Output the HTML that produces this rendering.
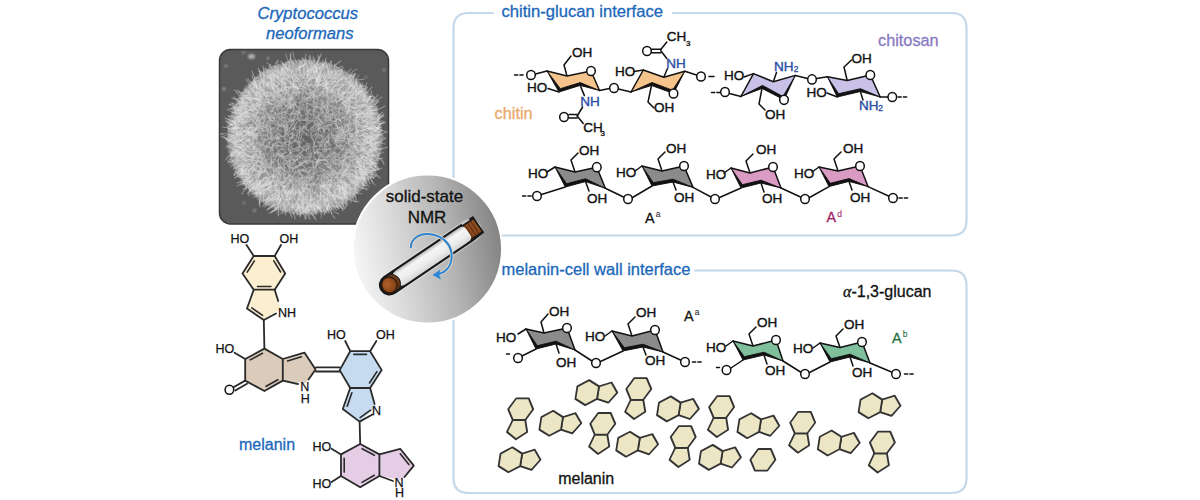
<!DOCTYPE html>
<html><head><meta charset="utf-8"><style>
html,body{margin:0;padding:0;background:#fff;width:1200px;height:500px;overflow:hidden}
svg{display:block}
text{font-family:"Liberation Sans", sans-serif}
</style></head><body>
<svg width="1200" height="500" viewBox="0 0 1200 500">
<path d="M494,13 L468.5,13 Q453.5,13 453.5,28 L453.5,220.5 Q453.5,235.5 468.5,235.5 L951.5,235.5 Q966.5,235.5 966.5,220.5 L966.5,28 Q966.5,13 951.5,13 L672,13" fill="none" stroke="#c5d8ea" stroke-width="2.2"/>
<path d="M490,270.5 L468.5,270.5 Q453.5,270.5 453.5,285.5 L453.5,478 Q453.5,493 468.5,493 L951.5,493 Q966.5,493 966.5,478 L966.5,285.5 Q966.5,270.5 951.5,270.5 L694.5,270.5" fill="none" stroke="#c5d8ea" stroke-width="2.2"/>
<text x="501.5" y="17.0" font-size="16.6" fill="#1b68ba" stroke="#1b68ba" stroke-width="0.3" text-anchor="start" >chitin-glucan interface</text>
<text x="501.5" y="275.0" font-size="16.5" fill="#1b68ba" stroke="#1b68ba" stroke-width="0.3" text-anchor="start" >melanin-cell wall interface</text>
<text x="307.8" y="19.0" font-size="16.6" fill="#1b68ba" stroke="#1b68ba" stroke-width="0.3" text-anchor="middle" font-style="italic">Cryptococcus</text>
<text x="309.8" y="39.0" font-size="16.6" fill="#1b68ba" stroke="#1b68ba" stroke-width="0.3" text-anchor="middle" font-style="italic">neoformans</text>
<defs>
<radialGradient id="ball" cx="0.5" cy="0.5" r="0.5">
<stop offset="0" stop-color="#8e8e8e"/>
<stop offset="0.55" stop-color="#a8a8a8"/>
<stop offset="0.85" stop-color="#cfcfcf"/>
<stop offset="0.97" stop-color="#b0b0b0"/>
<stop offset="1" stop-color="#5a5a5a" stop-opacity="0"/>
</radialGradient>
<linearGradient id="nmr" gradientUnits="userSpaceOnUse" x1="353" y1="262" x2="502" y2="236">
<stop offset="0" stop-color="#f7f7f7"/>
<stop offset="0.3" stop-color="#d9d9d9"/>
<stop offset="0.65" stop-color="#b3b3b3"/>
<stop offset="1" stop-color="#828282"/>
</linearGradient>
<filter id="noise" x="0" y="0" width="1" height="1">
<feTurbulence type="fractalNoise" baseFrequency="0.35" numOctaves="2" seed="3"/>
<feColorMatrix type="matrix" values="0 0 0 0 0  0 0 0 0 0  0 0 0 0 0  0 0 0 -1.4 0.75"/>
<feComposite in2="SourceGraphic" operator="in"/>
</filter>
<clipPath id="semclip"><rect x="220.2" y="50.2" width="167.6" height="173.1" rx="10.5"/></clipPath>
<linearGradient id="tube" x1="0" y1="0" x2="0" y2="1">
<stop offset="0" stop-color="#b8b8b8"/>
<stop offset="0.22" stop-color="#f4f4f4"/>
<stop offset="0.6" stop-color="#eeeeee"/>
<stop offset="1" stop-color="#d6d6d6"/>
</linearGradient>
</defs>
<rect x="219.5" y="49.5" width="169" height="174.5" rx="11" fill="#5a5a5a" stroke="#3a3a3a" stroke-width="1.5"/>
<g clip-path="url(#semclip)">
<defs>
<radialGradient id="ballbase" cx="0.5" cy="0.5" r="0.5">
<stop offset="0" stop-color="#626262"/>
<stop offset="0.45" stop-color="#747474"/>
<stop offset="0.75" stop-color="#9a9a9a"/>
<stop offset="0.9" stop-color="#aaaaaa"/>
<stop offset="0.97" stop-color="#858585"/>
<stop offset="1" stop-color="#585858" stop-opacity="0"/>
</radialGradient>
<radialGradient id="ballmask" cx="0.5" cy="0.5" r="0.5">
<stop offset="0" stop-color="#fff" stop-opacity="0.6"/>
<stop offset="0.5" stop-color="#fff" stop-opacity="0.7"/>
<stop offset="0.82" stop-color="#fff" stop-opacity="1"/>
<stop offset="0.95" stop-color="#fff" stop-opacity="0.8"/>
<stop offset="1" stop-color="#fff" stop-opacity="0"/>
</radialGradient>
<filter id="fib" filterUnits="userSpaceOnUse" x="219" y="49" width="171" height="176">
<feTurbulence type="turbulence" baseFrequency="0.14" numOctaves="3" seed="4" result="t"/>
<feColorMatrix in="t" type="matrix" values="0 0 0 0 0.86  0 0 0 0 0.86  0 0 0 0 0.86  -4 0 0 0 1.2" result="f0"/>
<feGaussianBlur in="f0" stdDeviation="0.5" result="f"/>
<feComposite in="f" in2="SourceGraphic" operator="arithmetic" k1="1" k2="0" k3="0" k4="0"/>
</filter>
</defs>
<defs><filter id="soft" x="-50%" y="-50%" width="200%" height="200%"><feGaussianBlur stdDeviation="0.9"/></filter></defs>
<g fill="#a8a8a8" filter="url(#soft)" opacity="0.8"><ellipse cx="251.5" cy="56.5" rx="3.5" ry="2.5" fill="#c8c8c8"/><circle cx="243.6" cy="52.6" r="1.3"/><circle cx="268" cy="58" r="1.5"/><circle cx="226" cy="66" r="1.6"/><circle cx="224" cy="89" r="1.8"/><circle cx="384" cy="70" r="1.4"/><circle cx="366" cy="77" r="1.2"/><circle cx="254.6" cy="210.6" r="1.5"/><circle cx="243.8" cy="203" r="1.2"/><circle cx="236" cy="100" r="1.1"/></g>
<circle cx="305" cy="137" r="79" fill="url(#ballbase)"/>
<circle cx="305" cy="137" r="80" fill="url(#ballmask)" filter="url(#fib)" opacity="0.55"/>
<g fill="none" stroke-width="1.1" stroke-opacity="0.42" stroke-linecap="round"><path d="M289,168Q288,166 287,165" stroke="#b2b2b2"/><path d="M339,115Q341,117 345,119" stroke="#b2b2b2"/><path d="M320,109Q323,113 321,116" stroke="#c8c8c8"/><path d="M344,150Q341,149 339,148" stroke="#d3d3d3"/><path d="M280,203Q280,207 281,211" stroke="#cccccc"/><path d="M247,112Q243,113 239,109" stroke="#dfdfdf"/><path d="M283,204Q286,202 288,198" stroke="#e4e4e4"/><path d="M287,211Q284,207 284,203" stroke="#cacaca"/><path d="M331,131Q328,128 322,128" stroke="#c5c5c5"/><path d="M254,103Q250,101 246,98" stroke="#cbcbcb"/><path d="M299,90Q296,89 292,86" stroke="#d9d9d9"/><path d="M262,199Q259,201 259,205" stroke="#d7d7d7"/><path d="M246,181Q247,178 251,178" stroke="#e3e3e3"/><path d="M335,103Q334,107 329,106" stroke="#b8b8b8"/><path d="M335,154Q336,151 333,151" stroke="#c1c1c1"/><path d="M358,138Q358,142 353,144" stroke="#e8e8e8"/><path d="M366,117Q364,118 357,117" stroke="#ebebeb"/><path d="M264,170Q265,170 270,174" stroke="#d5d5d5"/><path d="M277,148Q275,147 273,145" stroke="#c6c6c6"/><path d="M286,120Q287,126 288,126" stroke="#d5d5d5"/><path d="M284,161Q287,157 290,153" stroke="#b4b4b4"/><path d="M347,191Q346,185 345,183" stroke="#e9e9e9"/><path d="M262,187Q260,186 257,188" stroke="#d8d8d8"/><path d="M232,128Q235,129 239,128" stroke="#efefef"/><path d="M334,66Q339,62 341,61" stroke="#e9e9e9"/><path d="M238,140Q234,138 233,135" stroke="#dedede"/><path d="M234,161Q230,159 229,159" stroke="#d4d4d4"/><path d="M275,185Q275,185 271,186" stroke="#f1f1f1"/><path d="M361,170Q362,172 364,178" stroke="#f0f0f0"/><path d="M270,198Q276,198 276,196" stroke="#d2d2d2"/><path d="M322,136Q320,135 316,133" stroke="#d5d5d5"/><path d="M369,129Q369,131 374,127" stroke="#f1f1f1"/><path d="M359,178Q364,176 365,178" stroke="#d5d5d5"/><path d="M294,178Q291,175 289,175" stroke="#dedede"/><path d="M271,181Q271,183 267,186" stroke="#eaeaea"/><path d="M339,184Q340,186 339,192" stroke="#d1d1d1"/><path d="M239,148Q242,149 246,148" stroke="#cecece"/><path d="M322,122Q321,123 324,126" stroke="#b0b0b0"/><path d="M310,63Q310,60 309,56" stroke="#e4e4e4"/><path d="M235,133Q240,136 242,134" stroke="#ebebeb"/><path d="M336,112Q332,113 330,115" stroke="#d9d9d9"/><path d="M307,163Q306,157 302,155" stroke="#dcdcdc"/><path d="M274,97Q273,101 274,102" stroke="#cecece"/><path d="M259,171Q257,171 254,170" stroke="#dddddd"/><path d="M261,161Q263,162 266,164" stroke="#dcdcdc"/><path d="M353,142Q348,142 348,138" stroke="#e1e1e1"/><path d="M315,209Q310,207 308,203" stroke="#e3e3e3"/><path d="M343,84Q340,85 336,86" stroke="#dcdcdc"/><path d="M325,149Q321,149 322,143" stroke="#d7d7d7"/><path d="M342,160Q339,157 338,157" stroke="#afafaf"/><path d="M273,188Q275,186 278,186" stroke="#cfcfcf"/><path d="M348,129Q351,133 352,137" stroke="#bcbcbc"/><path d="M291,193Q289,188 290,189" stroke="#e8e8e8"/><path d="M269,125Q262,127 259,126" stroke="#cacaca"/><path d="M272,87Q271,83 272,81" stroke="#d4d4d4"/><path d="M338,79Q334,80 334,84" stroke="#cccccc"/><path d="M254,85Q256,88 260,90" stroke="#dadada"/><path d="M251,99Q252,98 257,98" stroke="#dddddd"/><path d="M364,127Q366,123 369,124" stroke="#e0e0e0"/><path d="M344,160Q344,155 341,155" stroke="#b4b4b4"/><path d="M343,185Q338,185 337,180" stroke="#d1d1d1"/><path d="M268,81Q271,82 268,87" stroke="#efefef"/><path d="M292,121Q295,118 297,113" stroke="#cfcfcf"/><path d="M343,182Q347,186 348,189" stroke="#f5f5f5"/><path d="M278,77Q279,76 282,80" stroke="#e4e4e4"/><path d="M246,114Q241,114 240,110" stroke="#e8e8e8"/><path d="M328,120Q323,121 319,119" stroke="#bfbfbf"/><path d="M312,205Q315,206 315,211" stroke="#f3f3f3"/><path d="M300,158Q299,155 297,154" stroke="#d8d8d8"/><path d="M303,90Q299,88 299,89" stroke="#dadada"/><path d="M338,161Q333,161 330,161" stroke="#e0e0e0"/><path d="M359,187Q361,188 368,189" stroke="#e8e8e8"/><path d="M359,126Q353,129 351,131" stroke="#d1d1d1"/><path d="M304,93Q303,95 299,99" stroke="#b6b6b6"/><path d="M293,97Q293,93 299,93" stroke="#cecece"/><path d="M283,89Q282,84 282,83" stroke="#dddddd"/><path d="M373,138Q370,137 365,133" stroke="#dadada"/><path d="M305,161Q299,166 297,167" stroke="#dfdfdf"/><path d="M302,158Q304,163 309,164" stroke="#bebebe"/><path d="M358,127Q358,131 355,135" stroke="#c9c9c9"/><path d="M329,78Q333,74 335,75" stroke="#e2e2e2"/><path d="M240,158Q244,156 244,157" stroke="#e6e6e6"/><path d="M266,160Q267,164 266,168" stroke="#bebebe"/><path d="M286,194Q285,194 287,189" stroke="#e7e7e7"/><path d="M253,120Q249,118 246,119" stroke="#d3d3d3"/><path d="M290,161Q290,165 290,166" stroke="#dedede"/><path d="M340,100Q339,98 340,94" stroke="#e7e7e7"/><path d="M292,212Q295,214 295,219" stroke="#d9d9d9"/><path d="M346,106Q343,105 342,101" stroke="#c9c9c9"/><path d="M342,176Q345,171 343,167" stroke="#cccccc"/><path d="M247,184Q241,183 237,186" stroke="#d1d1d1"/><path d="M349,199Q355,202 357,202" stroke="#cdcdcd"/><path d="M286,131Q289,129 287,125" stroke="#c2c2c2"/><path d="M367,122Q360,122 358,124" stroke="#ededed"/><path d="M321,178Q321,178 322,174" stroke="#c0c0c0"/><path d="M367,121Q363,122 362,119" stroke="#f5f5f5"/><path d="M292,119Q294,121 295,127" stroke="#bdbdbd"/><path d="M268,72Q270,75 273,76" stroke="#d4d4d4"/><path d="M351,139Q352,136 353,135" stroke="#e0e0e0"/><path d="M323,99Q322,106 324,108" stroke="#cecece"/><path d="M248,90Q247,91 245,87" stroke="#cbcbcb"/><path d="M323,211Q320,212 319,208" stroke="#dcdcdc"/><path d="M297,61Q297,64 294,65" stroke="#cacaca"/><path d="M280,199Q275,199 274,203" stroke="#cdcdcd"/><path d="M260,198Q259,202 260,203" stroke="#e3e3e3"/><path d="M362,172Q364,173 368,172" stroke="#e6e6e6"/><path d="M357,147Q356,141 360,139" stroke="#cccccc"/><path d="M313,114Q314,116 314,119" stroke="#c4c4c4"/><path d="M366,120Q367,116 370,117" stroke="#eeeeee"/><path d="M360,105Q357,107 355,104" stroke="#e0e0e0"/><path d="M323,65Q319,70 319,70" stroke="#dbdbdb"/><path d="M335,75Q333,79 332,80" stroke="#cdcdcd"/><path d="M253,133Q256,136 257,139" stroke="#eaeaea"/><path d="M270,205Q265,204 265,207" stroke="#e7e7e7"/><path d="M381,131Q380,132 375,135" stroke="#eaeaea"/><path d="M342,84Q342,80 342,78" stroke="#d8d8d8"/><path d="M318,178Q320,181 319,183" stroke="#c3c3c3"/><path d="M345,154Q345,156 345,161" stroke="#cccccc"/><path d="M335,135Q332,138 326,137" stroke="#b1b1b1"/><path d="M335,108Q340,107 342,110" stroke="#b3b3b3"/><path d="M255,189Q260,184 260,182" stroke="#eeeeee"/><path d="M293,89Q293,92 298,90" stroke="#b1b1b1"/><path d="M253,99Q257,98 259,100" stroke="#dbdbdb"/><path d="M321,145Q317,147 314,146" stroke="#d9d9d9"/><path d="M244,117Q248,115 252,115" stroke="#dbdbdb"/><path d="M286,148Q285,141 285,139" stroke="#e0e0e0"/><path d="M355,136Q355,137 358,144" stroke="#d2d2d2"/><path d="M242,170Q238,169 237,174" stroke="#ebebeb"/><path d="M349,192Q354,193 356,198" stroke="#dedede"/><path d="M293,194Q297,194 298,190" stroke="#d4d4d4"/><path d="M282,205Q284,208 285,210" stroke="#cdcdcd"/><path d="M357,101Q351,101 348,102" stroke="#d4d4d4"/><path d="M323,104Q324,106 324,110" stroke="#b6b6b6"/><path d="M350,198Q351,195 349,189" stroke="#f2f2f2"/><path d="M321,110Q319,107 316,106" stroke="#c9c9c9"/><path d="M290,177Q287,178 285,181" stroke="#afafaf"/><path d="M263,98Q259,95 255,95" stroke="#e6e6e6"/><path d="M285,152Q284,154 281,156" stroke="#d9d9d9"/><path d="M367,153Q371,149 375,150" stroke="#e8e8e8"/><path d="M356,98Q354,99 352,98" stroke="#cfcfcf"/><path d="M331,209Q331,215 335,218" stroke="#d6d6d6"/><path d="M350,157Q353,153 351,152" stroke="#cccccc"/><path d="M341,182Q341,179 341,177" stroke="#cacaca"/><path d="M322,187Q319,184 318,183" stroke="#d8d8d8"/><path d="M349,176Q347,173 344,169" stroke="#cecece"/><path d="M304,196Q302,198 301,201" stroke="#d1d1d1"/><path d="M261,190Q261,188 266,183" stroke="#d8d8d8"/><path d="M277,208Q274,211 269,213" stroke="#d6d6d6"/><path d="M342,188Q343,190 348,195" stroke="#f1f1f1"/><path d="M327,143Q324,142 321,141" stroke="#c9c9c9"/><path d="M252,106Q246,108 245,106" stroke="#d7d7d7"/><path d="M290,84Q293,88 297,88" stroke="#c8c8c8"/><path d="M372,161Q374,165 376,168" stroke="#e7e7e7"/><path d="M306,211Q307,211 310,216" stroke="#cecece"/><path d="M365,142Q363,140 361,138" stroke="#f1f1f1"/><path d="M251,169Q257,168 258,165" stroke="#e6e6e6"/><path d="M303,128Q305,126 308,121" stroke="#cbcbcb"/><path d="M340,206Q343,209 343,209" stroke="#d8d8d8"/><path d="M294,94Q293,93 288,92" stroke="#bfbfbf"/><path d="M284,209Q285,208 289,204" stroke="#d4d4d4"/><path d="M369,114Q370,114 374,110" stroke="#f0f0f0"/><path d="M372,101Q376,99 379,101" stroke="#c9c9c9"/><path d="M243,163Q246,160 248,161" stroke="#d2d2d2"/><path d="M315,150Q318,151 323,156" stroke="#b0b0b0"/><path d="M338,143Q334,140 335,140" stroke="#d4d4d4"/><path d="M308,98Q312,99 315,96" stroke="#dfdfdf"/><path d="M370,98Q366,102 368,103" stroke="#f0f0f0"/><path d="M363,173Q363,172 360,169" stroke="#dadada"/><path d="M282,186Q284,187 288,186" stroke="#dfdfdf"/><path d="M363,100Q362,103 358,102" stroke="#c9c9c9"/><path d="M241,164Q237,168 236,168" stroke="#cdcdcd"/><path d="M264,116Q260,119 258,119" stroke="#b2b2b2"/><path d="M362,139Q365,138 367,139" stroke="#e8e8e8"/><path d="M300,212Q299,206 298,204" stroke="#f0f0f0"/><path d="M311,80Q312,77 315,77" stroke="#e1e1e1"/><path d="M358,94Q359,92 362,90" stroke="#eaeaea"/><path d="M254,137Q256,135 258,133" stroke="#f4f4f4"/><path d="M306,73Q308,76 307,78" stroke="#dcdcdc"/><path d="M331,185Q330,181 332,177" stroke="#f4f4f4"/><path d="M308,175Q308,178 305,183" stroke="#b8b8b8"/><path d="M371,126Q371,125 366,126" stroke="#cecece"/><path d="M338,193Q335,190 334,190" stroke="#d9d9d9"/><path d="M326,197Q321,195 321,194" stroke="#e3e3e3"/><path d="M285,83Q286,85 286,88" stroke="#d7d7d7"/><path d="M350,107Q346,104 343,104" stroke="#f1f1f1"/><path d="M355,90Q360,88 363,86" stroke="#dcdcdc"/><path d="M301,203Q304,199 305,198" stroke="#e3e3e3"/><path d="M290,139Q293,138 295,133" stroke="#d8d8d8"/><path d="M300,147Q300,142 304,139" stroke="#bcbcbc"/><path d="M342,196Q342,198 341,200" stroke="#f5f5f5"/><path d="M292,139Q292,137 293,133" stroke="#cccccc"/><path d="M321,201Q325,202 323,205" stroke="#cbcbcb"/><path d="M304,188Q308,190 308,190" stroke="#f3f3f3"/><path d="M279,172Q281,177 280,181" stroke="#bdbdbd"/><path d="M381,134Q374,136 371,135" stroke="#d4d4d4"/><path d="M246,149Q244,152 241,152" stroke="#e2e2e2"/><path d="M260,146Q259,145 255,145" stroke="#bdbdbd"/><path d="M299,188Q298,189 299,194" stroke="#d9d9d9"/><path d="M265,187Q264,186 268,180" stroke="#d1d1d1"/><path d="M370,106Q373,100 374,97" stroke="#dedede"/><path d="M296,127Q302,126 306,128" stroke="#b5b5b5"/><path d="M242,103Q244,102 250,103" stroke="#eaeaea"/><path d="M341,201Q344,206 344,208" stroke="#dbdbdb"/><path d="M326,199Q329,203 328,206" stroke="#d8d8d8"/><path d="M243,172Q242,174 237,175" stroke="#d7d7d7"/><path d="M246,138Q249,140 253,143" stroke="#f2f2f2"/><path d="M289,190Q287,194 287,198" stroke="#f1f1f1"/><path d="M367,148Q372,150 372,151" stroke="#e7e7e7"/><path d="M307,103Q305,104 308,109" stroke="#d9d9d9"/><path d="M267,179Q265,180 264,183" stroke="#ebebeb"/><path d="M348,152Q345,157 344,157" stroke="#cfcfcf"/><path d="M283,170Q279,171 278,170" stroke="#b7b7b7"/><path d="M251,104Q255,108 255,111" stroke="#cbcbcb"/><path d="M281,155Q285,158 289,158" stroke="#b2b2b2"/><path d="M323,65Q326,62 326,58" stroke="#f3f3f3"/><path d="M322,147Q318,145 317,141" stroke="#b1b1b1"/><path d="M279,151Q283,148 283,149" stroke="#c2c2c2"/><path d="M265,120Q263,123 263,127" stroke="#d8d8d8"/><path d="M240,102Q237,99 232,98" stroke="#f4f4f4"/><path d="M353,110Q356,113 359,111" stroke="#d1d1d1"/><path d="M253,145Q254,146 259,150" stroke="#c8c8c8"/><path d="M295,142Q295,136 290,133" stroke="#b6b6b6"/><path d="M315,147Q315,143 314,142" stroke="#b2b2b2"/><path d="M260,188Q262,186 267,184" stroke="#e7e7e7"/><path d="M233,155Q227,155 226,160" stroke="#f1f1f1"/><path d="M281,79Q285,84 285,85" stroke="#eeeeee"/><path d="M352,156Q350,152 346,153" stroke="#cfcfcf"/><path d="M263,185Q267,186 268,182" stroke="#ececec"/><path d="M282,176Q281,174 277,171" stroke="#d5d5d5"/><path d="M303,124Q306,130 308,131" stroke="#bebebe"/><path d="M258,183Q253,183 251,188" stroke="#d8d8d8"/><path d="M301,172Q306,169 309,168" stroke="#b8b8b8"/><path d="M332,70Q332,75 328,78" stroke="#e7e7e7"/><path d="M289,159Q284,159 281,157" stroke="#bdbdbd"/><path d="M297,159Q295,162 290,164" stroke="#afafaf"/><path d="M319,83Q316,80 316,75" stroke="#d8d8d8"/><path d="M349,98Q349,95 353,95" stroke="#f4f4f4"/><path d="M290,196Q288,203 290,205" stroke="#e7e7e7"/><path d="M284,158Q279,156 278,152" stroke="#c5c5c5"/><path d="M293,198Q291,195 289,190" stroke="#d5d5d5"/><path d="M300,206Q302,213 300,215" stroke="#d8d8d8"/><path d="M332,96Q333,94 338,96" stroke="#c6c6c6"/><path d="M343,97Q346,96 348,96" stroke="#cfcfcf"/><path d="M297,110Q294,115 295,115" stroke="#cfcfcf"/><path d="M262,171Q267,174 267,179" stroke="#cacaca"/><path d="M375,110Q378,107 377,106" stroke="#e8e8e8"/><path d="M289,75Q289,79 286,79" stroke="#f3f3f3"/><path d="M304,75Q303,71 304,69" stroke="#dfdfdf"/><path d="M269,141Q270,141 269,146" stroke="#dcdcdc"/><path d="M365,100Q366,98 367,96" stroke="#d0d0d0"/><path d="M318,63Q315,66 315,65" stroke="#dcdcdc"/><path d="M330,86Q326,90 327,91" stroke="#ebebeb"/><path d="M347,102Q347,102 351,107" stroke="#ececec"/><path d="M331,96Q332,101 334,102" stroke="#b6b6b6"/><path d="M338,185Q340,191 342,194" stroke="#cfcfcf"/><path d="M303,176Q302,182 297,184" stroke="#b5b5b5"/><path d="M264,171Q269,173 269,179" stroke="#f0f0f0"/><path d="M375,144Q375,145 371,145" stroke="#d3d3d3"/><path d="M292,152Q288,156 287,155" stroke="#d0d0d0"/><path d="M314,71Q315,73 315,75" stroke="#d9d9d9"/><path d="M320,167Q317,162 316,160" stroke="#afafaf"/><path d="M367,164Q371,164 371,165" stroke="#f0f0f0"/><path d="M343,94Q344,89 342,87" stroke="#d3d3d3"/><path d="M234,107Q233,108 227,110" stroke="#e4e4e4"/><path d="M330,132Q330,136 327,136" stroke="#e0e0e0"/><path d="M293,87Q294,87 293,83" stroke="#e7e7e7"/><path d="M289,142Q289,138 291,138" stroke="#d6d6d6"/><path d="M317,164Q315,166 317,173" stroke="#dbdbdb"/><path d="M302,93Q304,89 306,87" stroke="#cbcbcb"/><path d="M363,181Q362,179 360,177" stroke="#d9d9d9"/><path d="M329,157Q331,153 335,152" stroke="#d9d9d9"/><path d="M244,107Q239,107 234,108" stroke="#eeeeee"/><path d="M254,129Q257,126 262,126" stroke="#dddddd"/><path d="M290,67Q289,64 289,61" stroke="#dcdcdc"/><path d="M230,129Q233,130 234,133" stroke="#e9e9e9"/><path d="M323,181Q323,185 326,189" stroke="#c8c8c8"/><path d="M317,63Q321,56 321,54" stroke="#f1f1f1"/><path d="M251,86Q246,80 246,79" stroke="#cfcfcf"/><path d="M251,130Q253,130 257,128" stroke="#cfcfcf"/><path d="M375,165Q377,169 378,169" stroke="#e4e4e4"/><path d="M328,160Q326,162 327,166" stroke="#b4b4b4"/><path d="M302,91Q297,92 294,94" stroke="#d2d2d2"/><path d="M291,83Q290,78 290,76" stroke="#d6d6d6"/><path d="M327,192Q327,190 331,183" stroke="#dcdcdc"/><path d="M251,117Q250,115 246,117" stroke="#cccccc"/><path d="M266,106Q266,103 262,101" stroke="#dfdfdf"/><path d="M337,163Q339,161 345,161" stroke="#c5c5c5"/><path d="M330,167Q330,164 326,164" stroke="#dedede"/><path d="M373,101Q376,97 378,95" stroke="#cecece"/><path d="M374,139Q369,138 364,137" stroke="#d9d9d9"/><path d="M349,92Q348,94 345,98" stroke="#e1e1e1"/><path d="M244,127Q250,128 252,130" stroke="#dbdbdb"/><path d="M324,180Q326,181 328,186" stroke="#c4c4c4"/><path d="M273,201Q270,205 268,204" stroke="#c8c8c8"/><path d="M348,144Q350,141 353,140" stroke="#d6d6d6"/><path d="M363,136Q366,137 370,136" stroke="#dedede"/><path d="M294,140Q296,141 299,143" stroke="#d8d8d8"/><path d="M248,114Q246,112 245,108" stroke="#ededed"/><path d="M272,186Q277,186 278,183" stroke="#e8e8e8"/><path d="M334,195Q331,194 327,188" stroke="#f0f0f0"/><path d="M330,175Q325,173 323,175" stroke="#d7d7d7"/><path d="M277,125Q275,124 270,122" stroke="#afafaf"/><path d="M316,91Q314,91 315,88" stroke="#d4d4d4"/><path d="M322,139Q325,144 326,146" stroke="#d1d1d1"/><path d="M271,134Q270,138 273,141" stroke="#cfcfcf"/><path d="M328,155Q331,159 331,161" stroke="#b2b2b2"/><path d="M266,84Q267,84 269,89" stroke="#f0f0f0"/><path d="M365,180Q362,176 360,176" stroke="#e1e1e1"/><path d="M239,99Q235,100 234,97" stroke="#d3d3d3"/><path d="M276,205Q281,202 282,200" stroke="#cccccc"/><path d="M307,189Q306,188 306,184" stroke="#e7e7e7"/><path d="M377,147Q372,151 371,150" stroke="#e1e1e1"/><path d="M276,125Q273,122 270,124" stroke="#b6b6b6"/><path d="M240,172Q242,170 246,169" stroke="#d9d9d9"/><path d="M280,95Q280,97 284,102" stroke="#e1e1e1"/><path d="M343,176Q344,172 348,169" stroke="#e1e1e1"/><path d="M251,190Q248,193 249,196" stroke="#d0d0d0"/><path d="M377,110Q372,110 367,112" stroke="#e8e8e8"/><path d="M322,208Q324,211 327,213" stroke="#e0e0e0"/><path d="M371,149Q368,152 363,152" stroke="#d6d6d6"/><path d="M277,195Q278,197 278,202" stroke="#cccccc"/><path d="M300,110Q298,113 297,118" stroke="#cccccc"/><path d="M316,65Q312,68 313,69" stroke="#f2f2f2"/><path d="M278,68Q278,67 272,66" stroke="#f0f0f0"/><path d="M343,163Q341,168 342,171" stroke="#c8c8c8"/><path d="M340,146Q340,146 342,151" stroke="#c2c2c2"/><path d="M253,82Q256,87 258,88" stroke="#f2f2f2"/><path d="M285,92Q291,91 294,92" stroke="#b1b1b1"/><path d="M349,94Q350,91 356,90" stroke="#dedede"/><path d="M305,110Q305,108 303,104" stroke="#c0c0c0"/><path d="M256,129Q259,128 263,126" stroke="#dbdbdb"/><path d="M336,81Q333,85 332,89" stroke="#d0d0d0"/><path d="M267,140Q271,137 275,137" stroke="#b9b9b9"/><path d="M368,125Q365,125 363,125" stroke="#d4d4d4"/><path d="M283,112Q282,110 280,105" stroke="#afafaf"/><path d="M250,132Q252,132 256,129" stroke="#d1d1d1"/><path d="M269,115Q267,115 266,111" stroke="#dadada"/><path d="M274,83Q270,78 269,76" stroke="#dfdfdf"/><path d="M284,139Q285,136 289,135" stroke="#b6b6b6"/><path d="M334,184Q332,180 329,181" stroke="#e5e5e5"/><path d="M373,134Q377,128 381,127" stroke="#e7e7e7"/><path d="M360,122Q355,120 354,121" stroke="#efefef"/><path d="M364,112Q360,115 361,115" stroke="#d1d1d1"/><path d="M294,173Q293,168 288,166" stroke="#e1e1e1"/><path d="M296,91Q294,88 291,87" stroke="#bdbdbd"/><path d="M264,181Q261,184 262,186" stroke="#f0f0f0"/><path d="M373,100Q370,103 369,104" stroke="#dbdbdb"/><path d="M254,99Q258,99 259,99" stroke="#cacaca"/><path d="M338,91Q339,95 338,96" stroke="#e8e8e8"/><path d="M265,157Q262,154 261,151" stroke="#cbcbcb"/><path d="M380,141Q381,141 386,138" stroke="#f3f3f3"/><path d="M283,169Q285,173 288,172" stroke="#d7d7d7"/><path d="M356,80Q358,80 364,79" stroke="#eeeeee"/><path d="M272,86Q273,91 277,92" stroke="#e9e9e9"/><path d="M318,126Q319,127 321,133" stroke="#d9d9d9"/><path d="M252,108Q253,110 254,113" stroke="#d6d6d6"/><path d="M336,203Q333,197 333,195" stroke="#e9e9e9"/><path d="M273,79Q277,82 279,83" stroke="#ededed"/><path d="M239,108Q237,106 236,105" stroke="#cfcfcf"/><path d="M252,83Q255,88 258,89" stroke="#d4d4d4"/><path d="M241,110Q238,110 237,111" stroke="#c8c8c8"/><path d="M283,65Q285,65 284,69" stroke="#d4d4d4"/><path d="M236,108Q238,113 241,115" stroke="#f3f3f3"/><path d="M348,140Q349,143 349,147" stroke="#cecece"/><path d="M365,154Q367,154 373,151" stroke="#f3f3f3"/><path d="M307,187Q309,185 306,183" stroke="#e1e1e1"/><path d="M335,141Q336,138 337,136" stroke="#dadada"/><path d="M270,75Q274,78 274,84" stroke="#e4e4e4"/><path d="M354,141Q358,146 358,147" stroke="#b1b1b1"/><path d="M361,165Q367,169 368,171" stroke="#e4e4e4"/><path d="M248,182Q249,183 253,179" stroke="#ededed"/><path d="M277,109Q278,105 280,101" stroke="#c5c5c5"/><path d="M286,182Q282,184 281,182" stroke="#d5d5d5"/><path d="M338,147Q335,144 335,142" stroke="#bfbfbf"/><path d="M267,185Q272,184 273,179" stroke="#cecece"/><path d="M353,87Q355,87 358,84" stroke="#d1d1d1"/><path d="M285,95Q286,91 286,86" stroke="#c5c5c5"/><path d="M352,89Q356,87 356,82" stroke="#e8e8e8"/><path d="M276,168Q275,169 277,175" stroke="#d9d9d9"/><path d="M253,153Q248,150 247,150" stroke="#dbdbdb"/><path d="M297,95Q296,91 290,91" stroke="#bbbbbb"/><path d="M282,124Q286,126 285,130" stroke="#e0e0e0"/><path d="M280,75Q280,74 282,69" stroke="#eaeaea"/><path d="M341,142Q339,146 340,150" stroke="#bbbbbb"/><path d="M340,109Q337,107 336,109" stroke="#b7b7b7"/><path d="M284,121Q285,115 287,113" stroke="#bbbbbb"/><path d="M297,200Q295,201 294,197" stroke="#c9c9c9"/><path d="M274,95Q270,91 271,89" stroke="#cacaca"/><path d="M359,170Q362,174 362,175" stroke="#c9c9c9"/><path d="M359,110Q356,108 352,107" stroke="#cdcdcd"/><path d="M345,142Q340,140 336,140" stroke="#c5c5c5"/><path d="M245,122Q241,122 238,120" stroke="#d8d8d8"/><path d="M327,85Q326,82 324,78" stroke="#ebebeb"/><path d="M295,195Q296,194 298,192" stroke="#dfdfdf"/><path d="M342,188Q346,190 349,195" stroke="#eaeaea"/><path d="M245,136Q240,136 239,139" stroke="#d2d2d2"/><path d="M256,128Q257,124 255,122" stroke="#c5c5c5"/><path d="M347,107Q346,112 349,115" stroke="#c8c8c8"/><path d="M364,163Q366,163 368,164" stroke="#e0e0e0"/><path d="M365,116Q362,116 361,119" stroke="#d5d5d5"/><path d="M280,185Q279,192 279,194" stroke="#d2d2d2"/><path d="M231,148Q228,145 226,146" stroke="#c8c8c8"/><path d="M232,144Q229,146 226,148" stroke="#d5d5d5"/><path d="M345,83Q345,77 345,76" stroke="#dbdbdb"/><path d="M277,72Q274,71 273,70" stroke="#dedede"/><path d="M335,158Q333,158 333,154" stroke="#dcdcdc"/><path d="M266,166Q268,165 272,162" stroke="#afafaf"/><path d="M361,151Q356,154 357,152" stroke="#dcdcdc"/><path d="M333,149Q338,145 343,146" stroke="#bdbdbd"/><path d="M291,105Q289,101 291,98" stroke="#cecece"/><path d="M330,130Q337,128 339,128" stroke="#b3b3b3"/><path d="M300,174Q297,176 299,178" stroke="#c9c9c9"/><path d="M324,64Q324,65 324,68" stroke="#dddddd"/><path d="M277,66Q277,62 278,60" stroke="#d1d1d1"/><path d="M266,171Q266,169 262,173" stroke="#eeeeee"/><path d="M228,136Q225,136 219,133" stroke="#cdcdcd"/><path d="M343,79Q339,81 336,82" stroke="#ebebeb"/><path d="M278,89Q279,92 281,96" stroke="#eaeaea"/><path d="M347,136Q343,134 341,129" stroke="#c8c8c8"/><path d="M349,130Q344,128 344,123" stroke="#d9d9d9"/><path d="M315,199Q318,202 319,205" stroke="#e6e6e6"/><path d="M235,104Q231,103 229,105" stroke="#dfdfdf"/><path d="M308,174Q310,172 311,168" stroke="#d8d8d8"/><path d="M319,122Q317,123 312,128" stroke="#b8b8b8"/><path d="M290,88Q288,90 285,94" stroke="#f2f2f2"/><path d="M349,164Q353,164 358,164" stroke="#d3d3d3"/><path d="M307,102Q306,98 304,97" stroke="#c6c6c6"/><path d="M236,127Q232,128 232,128" stroke="#dbdbdb"/><path d="M296,93Q297,94 294,98" stroke="#d7d7d7"/><path d="M277,138Q279,143 284,145" stroke="#b1b1b1"/><path d="M295,87Q301,88 303,89" stroke="#eeeeee"/><path d="M324,91Q323,92 318,96" stroke="#dcdcdc"/><path d="M284,125Q283,129 286,134" stroke="#c8c8c8"/><path d="M248,128Q247,126 245,125" stroke="#e5e5e5"/><path d="M289,85Q289,85 294,85" stroke="#d0d0d0"/><path d="M234,132Q229,132 228,130" stroke="#ebebeb"/><path d="M280,182Q280,183 276,183" stroke="#c8c8c8"/><path d="M327,154Q325,151 327,146" stroke="#dcdcdc"/><path d="M268,199Q264,202 263,207" stroke="#cbcbcb"/><path d="M329,112Q324,118 325,118" stroke="#c0c0c0"/><path d="M278,134Q274,136 272,139" stroke="#c9c9c9"/><path d="M285,94Q285,98 285,101" stroke="#c2c2c2"/><path d="M312,158Q308,157 306,157" stroke="#d4d4d4"/><path d="M352,195Q350,194 346,190" stroke="#c8c8c8"/><path d="M253,126Q249,126 248,124" stroke="#dadada"/><path d="M317,175Q321,176 325,174" stroke="#bcbcbc"/><path d="M322,121Q316,124 315,124" stroke="#b3b3b3"/><path d="M328,84Q324,79 324,76" stroke="#f3f3f3"/><path d="M304,67Q305,71 304,75" stroke="#e5e5e5"/><path d="M362,176Q360,174 360,168" stroke="#f3f3f3"/><path d="M240,170Q243,172 245,171" stroke="#ededed"/><path d="M324,73Q323,74 321,78" stroke="#f2f2f2"/><path d="M357,131Q360,130 363,132" stroke="#eaeaea"/><path d="M292,100Q292,102 295,104" stroke="#b1b1b1"/><path d="M320,109Q327,107 329,104" stroke="#c1c1c1"/><path d="M291,138Q294,132 293,129" stroke="#c0c0c0"/><path d="M346,90Q343,94 342,94" stroke="#d6d6d6"/><path d="M264,115Q260,112 260,113" stroke="#b8b8b8"/><path d="M293,119Q290,123 290,125" stroke="#bababa"/><path d="M360,182Q363,183 363,189" stroke="#d2d2d2"/><path d="M259,106Q258,104 255,106" stroke="#ececec"/><path d="M319,115Q317,111 317,106" stroke="#b4b4b4"/><path d="M270,199Q270,200 274,197" stroke="#cfcfcf"/><path d="M330,173Q326,173 325,172" stroke="#b1b1b1"/><path d="M255,135Q254,136 257,141" stroke="#d7d7d7"/><path d="M296,78Q295,82 299,82" stroke="#f4f4f4"/><path d="M245,109Q242,106 241,109" stroke="#e1e1e1"/><path d="M283,116Q282,113 279,114" stroke="#bebebe"/><path d="M248,98Q250,102 251,102" stroke="#cacaca"/><path d="M320,204Q320,203 317,201" stroke="#d3d3d3"/><path d="M380,142Q376,143 375,142" stroke="#f3f3f3"/><path d="M340,198Q340,194 339,188" stroke="#cccccc"/><path d="M375,136Q372,137 366,136" stroke="#f0f0f0"/><path d="M372,165Q370,168 366,167" stroke="#ededed"/><path d="M345,202Q347,206 346,206" stroke="#cbcbcb"/><path d="M303,66Q306,64 306,60" stroke="#e8e8e8"/><path d="M282,209Q284,213 280,214" stroke="#d8d8d8"/><path d="M305,65Q306,62 302,58" stroke="#f3f3f3"/><path d="M322,123Q321,122 319,118" stroke="#c4c4c4"/><path d="M329,90Q334,91 336,94" stroke="#eeeeee"/><path d="M349,106Q349,111 347,112" stroke="#e6e6e6"/><path d="M251,167Q252,168 255,165" stroke="#efefef"/><path d="M353,147Q357,146 358,147" stroke="#d1d1d1"/><path d="M316,107Q317,104 314,103" stroke="#c0c0c0"/><path d="M288,167Q291,172 291,173" stroke="#c8c8c8"/><path d="M288,181Q292,180 294,175" stroke="#b9b9b9"/><path d="M297,144Q297,142 300,140" stroke="#d9d9d9"/><path d="M305,187Q310,189 311,191" stroke="#c7c7c7"/><path d="M350,188Q346,186 344,185" stroke="#dadada"/><path d="M263,186Q267,186 269,182" stroke="#e7e7e7"/><path d="M239,140Q234,143 233,147" stroke="#dbdbdb"/><path d="M305,64Q305,60 307,60" stroke="#d9d9d9"/><path d="M343,186Q342,184 340,180" stroke="#d9d9d9"/><path d="M275,107Q276,104 276,102" stroke="#b4b4b4"/><path d="M327,76Q329,70 328,67" stroke="#d2d2d2"/><path d="M334,87Q331,84 332,78" stroke="#cbcbcb"/><path d="M341,195Q338,193 337,193" stroke="#dfdfdf"/><path d="M342,128Q339,132 338,137" stroke="#cbcbcb"/><path d="M251,174Q254,169 257,168" stroke="#efefef"/><path d="M237,159Q232,161 231,160" stroke="#e6e6e6"/><path d="M267,76Q270,78 271,81" stroke="#dadada"/><path d="M324,112Q322,113 320,113" stroke="#c2c2c2"/><path d="M260,197Q260,196 261,192" stroke="#f3f3f3"/><path d="M339,74Q339,74 342,71" stroke="#f4f4f4"/><path d="M344,172Q348,168 349,165" stroke="#e7e7e7"/><path d="M322,90Q324,95 326,99" stroke="#d9d9d9"/><path d="M346,117Q349,119 348,125" stroke="#afafaf"/><path d="M344,85Q340,89 339,90" stroke="#d0d0d0"/><path d="M343,190Q346,196 345,199" stroke="#f1f1f1"/><path d="M272,168Q268,166 266,161" stroke="#dcdcdc"/><path d="M362,163Q359,158 359,158" stroke="#f3f3f3"/><path d="M239,106Q240,108 245,105" stroke="#d5d5d5"/><path d="M368,138Q366,140 365,141" stroke="#cacaca"/><path d="M374,155Q370,155 367,157" stroke="#ececec"/><path d="M312,197Q315,193 316,188" stroke="#d6d6d6"/><path d="M308,120Q303,121 301,120" stroke="#dddddd"/><path d="M331,153Q327,157 324,160" stroke="#b2b2b2"/><path d="M330,66Q330,62 331,61" stroke="#e5e5e5"/><path d="M377,123Q371,121 369,123" stroke="#d4d4d4"/><path d="M370,171Q376,171 379,168" stroke="#d4d4d4"/><path d="M243,112Q243,109 239,104" stroke="#c9c9c9"/><path d="M342,152Q347,153 351,153" stroke="#bfbfbf"/><path d="M246,115Q247,117 251,117" stroke="#f4f4f4"/><path d="M260,195Q260,192 264,193" stroke="#e6e6e6"/><path d="M278,139Q279,144 275,144" stroke="#b5b5b5"/><path d="M263,129Q261,134 258,133" stroke="#bbbbbb"/><path d="M286,64Q284,69 282,71" stroke="#e3e3e3"/><path d="M313,146Q313,147 315,154" stroke="#e1e1e1"/><path d="M364,173Q371,172 374,173" stroke="#ebebeb"/><path d="M348,100Q347,100 343,102" stroke="#cecece"/><path d="M364,179Q366,176 363,172" stroke="#e4e4e4"/><path d="M309,76Q311,76 312,72" stroke="#d7d7d7"/><path d="M293,82Q294,79 295,78" stroke="#f4f4f4"/><path d="M310,213Q310,210 306,206" stroke="#f1f1f1"/><path d="M333,144Q335,141 341,142" stroke="#bebebe"/><path d="M376,110Q372,109 368,109" stroke="#cacaca"/><path d="M313,149Q316,148 313,144" stroke="#bababa"/><path d="M342,183Q342,179 338,177" stroke="#c8c8c8"/><path d="M321,145Q320,143 318,141" stroke="#e1e1e1"/><path d="M313,112Q315,113 320,114" stroke="#afafaf"/><path d="M268,122Q271,124 271,129" stroke="#dcdcdc"/><path d="M282,105Q282,106 277,107" stroke="#c5c5c5"/><path d="M293,112Q296,115 293,121" stroke="#c0c0c0"/><path d="M283,202Q285,204 285,212" stroke="#cccccc"/><path d="M368,155Q368,155 363,151" stroke="#ececec"/><path d="M261,77Q261,74 258,68" stroke="#c9c9c9"/><path d="M289,108Q291,106 296,103" stroke="#c1c1c1"/><path d="M243,161Q244,157 247,157" stroke="#e4e4e4"/><path d="M344,201Q344,199 342,194" stroke="#dcdcdc"/><path d="M298,180Q295,183 295,182" stroke="#c4c4c4"/><path d="M374,138Q370,136 370,140" stroke="#dcdcdc"/><path d="M262,159Q264,159 266,161" stroke="#b2b2b2"/><path d="M270,89Q271,96 269,98" stroke="#cdcdcd"/><path d="M281,104Q282,99 281,95" stroke="#b6b6b6"/><path d="M342,135Q339,137 335,138" stroke="#dfdfdf"/><path d="M267,168Q271,168 271,167" stroke="#d6d6d6"/><path d="M367,123Q372,121 375,122" stroke="#cccccc"/><path d="M297,78Q301,82 303,83" stroke="#e8e8e8"/><path d="M288,96Q286,92 289,91" stroke="#c9c9c9"/><path d="M293,102Q299,102 302,102" stroke="#c3c3c3"/><path d="M314,122Q317,121 316,117" stroke="#d9d9d9"/><path d="M273,191Q276,191 277,189" stroke="#dbdbdb"/><path d="M285,105Q289,106 288,109" stroke="#d8d8d8"/><path d="M357,170Q356,172 352,170" stroke="#dedede"/><path d="M261,188Q260,191 260,193" stroke="#cfcfcf"/><path d="M356,84Q355,80 359,75" stroke="#d6d6d6"/><path d="M311,65Q307,61 309,60" stroke="#e0e0e0"/><path d="M327,101Q328,102 333,102" stroke="#dcdcdc"/><path d="M252,140Q250,140 243,140" stroke="#cbcbcb"/><path d="M323,154Q323,157 319,159" stroke="#b3b3b3"/><path d="M248,134Q246,135 239,138" stroke="#cbcbcb"/><path d="M360,117Q355,118 354,123" stroke="#d8d8d8"/><path d="M231,152Q236,151 240,154" stroke="#d9d9d9"/><path d="M279,94Q282,96 286,101" stroke="#c8c8c8"/><path d="M256,86Q253,83 255,78" stroke="#e7e7e7"/><path d="M288,108Q288,110 284,113" stroke="#b1b1b1"/><path d="M337,97Q337,97 341,95" stroke="#cdcdcd"/><path d="M237,159Q232,161 230,165" stroke="#d4d4d4"/><path d="M354,117Q355,114 352,114" stroke="#e6e6e6"/><path d="M254,188Q254,188 250,190" stroke="#e6e6e6"/><path d="M328,210Q325,205 324,201" stroke="#dddddd"/><path d="M248,172Q247,171 243,174" stroke="#d8d8d8"/><path d="M261,102Q263,103 265,106" stroke="#e2e2e2"/><path d="M325,164Q323,161 317,163" stroke="#bdbdbd"/><path d="M281,149Q282,146 285,142" stroke="#bdbdbd"/><path d="M353,79Q352,78 355,73" stroke="#cecece"/><path d="M377,122Q377,118 380,118" stroke="#e0e0e0"/><path d="M346,80Q346,79 350,77" stroke="#ededed"/><path d="M283,91Q279,91 276,90" stroke="#d8d8d8"/><path d="M271,121Q269,118 269,116" stroke="#d0d0d0"/><path d="M302,208Q302,203 305,200" stroke="#c8c8c8"/><path d="M259,154Q261,149 260,144" stroke="#c3c3c3"/><path d="M314,96Q308,98 305,100" stroke="#b7b7b7"/><path d="M339,112Q339,111 338,106" stroke="#b7b7b7"/><path d="M369,136Q368,135 363,132" stroke="#f1f1f1"/><path d="M359,166Q361,168 361,172" stroke="#d3d3d3"/><path d="M330,76Q330,74 334,71" stroke="#dadada"/><path d="M338,82Q340,80 344,75" stroke="#dbdbdb"/><path d="M284,108Q288,111 290,111" stroke="#b1b1b1"/><path d="M309,150Q304,146 301,148" stroke="#afafaf"/><path d="M319,114Q318,118 319,119" stroke="#e1e1e1"/><path d="M320,136Q326,137 327,142" stroke="#c4c4c4"/><path d="M349,159Q350,162 347,167" stroke="#b4b4b4"/><path d="M301,181Q305,180 305,183" stroke="#dddddd"/><path d="M278,188Q280,194 278,198" stroke="#f4f4f4"/><path d="M264,159Q265,159 270,159" stroke="#b3b3b3"/><path d="M272,117Q272,112 270,109" stroke="#b4b4b4"/><path d="M330,87Q327,93 327,96" stroke="#e5e5e5"/><path d="M307,181Q305,180 301,184" stroke="#dddddd"/><path d="M363,146Q364,143 369,143" stroke="#dbdbdb"/><path d="M379,135Q375,138 373,139" stroke="#f3f3f3"/><path d="M373,119Q367,122 366,124" stroke="#cdcdcd"/><path d="M292,183Q293,184 292,188" stroke="#b0b0b0"/><path d="M315,167Q311,168 308,167" stroke="#d0d0d0"/><path d="M295,161Q293,156 291,155" stroke="#d9d9d9"/><path d="M250,132Q249,131 245,128" stroke="#dcdcdc"/><path d="M283,117Q278,115 276,119" stroke="#d2d2d2"/><path d="M344,177Q344,177 341,174" stroke="#e3e3e3"/><path d="M271,133Q271,126 268,125" stroke="#e0e0e0"/><path d="M277,85Q278,89 278,94" stroke="#d7d7d7"/><path d="M337,198Q334,198 334,194" stroke="#cfcfcf"/><path d="M368,178Q368,179 370,184" stroke="#dadada"/><path d="M308,85Q310,91 310,93" stroke="#e7e7e7"/><path d="M360,181Q358,182 355,179" stroke="#d1d1d1"/><path d="M367,128Q372,126 375,124" stroke="#cbcbcb"/><path d="M337,72Q335,77 332,79" stroke="#dcdcdc"/><path d="M312,184Q314,181 319,178" stroke="#c8c8c8"/><path d="M283,158Q283,163 284,167" stroke="#d3d3d3"/><path d="M306,94Q313,93 314,90" stroke="#dfdfdf"/><path d="M332,175Q329,174 326,175" stroke="#bebebe"/><path d="M258,125Q261,124 260,120" stroke="#e0e0e0"/><path d="M353,194Q352,200 356,202" stroke="#ebebeb"/><path d="M380,127Q377,129 371,129" stroke="#dfdfdf"/><path d="M305,166Q306,167 303,170" stroke="#b3b3b3"/><path d="M262,99Q257,99 254,99" stroke="#e0e0e0"/><path d="M282,196Q287,193 290,191" stroke="#dedede"/><path d="M278,124Q274,121 270,119" stroke="#c9c9c9"/><path d="M380,143Q379,145 374,145" stroke="#cfcfcf"/><path d="M271,87Q268,88 268,84" stroke="#d3d3d3"/><path d="M235,126Q238,130 239,130" stroke="#d6d6d6"/><path d="M255,193Q256,191 262,189" stroke="#dcdcdc"/><path d="M290,183Q290,180 289,178" stroke="#d9d9d9"/><path d="M348,92Q349,86 353,84" stroke="#f1f1f1"/><path d="M240,115Q241,117 246,123" stroke="#e8e8e8"/><path d="M345,83Q340,84 339,87" stroke="#d1d1d1"/><path d="M257,85Q254,83 253,82" stroke="#e8e8e8"/><path d="M289,121Q292,115 291,112" stroke="#e1e1e1"/><path d="M309,180Q307,182 304,180" stroke="#bbbbbb"/><path d="M371,127Q367,131 366,132" stroke="#e3e3e3"/><path d="M325,127Q326,124 331,125" stroke="#e1e1e1"/><path d="M255,118Q253,120 253,122" stroke="#e2e2e2"/><path d="M309,95Q310,98 311,99" stroke="#c2c2c2"/><path d="M282,196Q281,192 284,189" stroke="#e2e2e2"/><path d="M251,144Q257,143 258,143" stroke="#d4d4d4"/><path d="M248,147Q250,145 254,146" stroke="#cecece"/><path d="M272,180Q269,181 267,186" stroke="#ececec"/><path d="M286,131Q286,129 287,124" stroke="#dadada"/><path d="M261,168Q261,173 259,175" stroke="#f3f3f3"/><path d="M336,177Q339,174 341,170" stroke="#dddddd"/><path d="M316,103Q311,100 309,101" stroke="#b0b0b0"/><path d="M253,90Q253,92 258,94" stroke="#dcdcdc"/><path d="M269,94Q273,95 275,98" stroke="#dfdfdf"/><path d="M313,113Q312,112 316,106" stroke="#c1c1c1"/><path d="M320,105Q318,101 319,101" stroke="#b7b7b7"/><path d="M330,170Q334,172 335,172" stroke="#b5b5b5"/><path d="M362,117Q357,114 353,114" stroke="#e7e7e7"/><path d="M338,97Q343,100 345,102" stroke="#dbdbdb"/><path d="M327,142Q330,145 330,145" stroke="#b6b6b6"/><path d="M276,144Q279,145 278,150" stroke="#b6b6b6"/><path d="M359,130Q355,134 355,133" stroke="#f3f3f3"/><path d="M295,101Q295,105 297,106" stroke="#b2b2b2"/><path d="M246,158Q244,155 239,156" stroke="#e4e4e4"/><path d="M351,95Q350,101 346,103" stroke="#ebebeb"/><path d="M248,131Q252,135 255,134" stroke="#f4f4f4"/><path d="M296,136Q298,133 298,130" stroke="#dddddd"/><path d="M280,96Q278,94 272,97" stroke="#c7c7c7"/><path d="M333,209Q333,212 339,214" stroke="#dcdcdc"/><path d="M276,199Q278,202 276,204" stroke="#d9d9d9"/><path d="M353,77Q354,74 356,74" stroke="#e2e2e2"/><path d="M356,103Q359,100 360,100" stroke="#d9d9d9"/><path d="M350,93Q350,90 355,86" stroke="#dfdfdf"/><path d="M352,170Q348,166 347,163" stroke="#e8e8e8"/><path d="M377,110Q382,108 385,106" stroke="#dcdcdc"/><path d="M244,181Q245,179 250,176" stroke="#cbcbcb"/><path d="M247,94Q247,93 244,89" stroke="#d8d8d8"/><path d="M312,120Q312,122 308,121" stroke="#b1b1b1"/><path d="M318,198Q321,196 321,192" stroke="#d0d0d0"/><path d="M263,83Q260,82 261,78" stroke="#d6d6d6"/><path d="M236,148Q236,150 232,151" stroke="#cccccc"/><path d="M265,94Q267,97 266,98" stroke="#f3f3f3"/><path d="M353,156Q351,152 349,150" stroke="#d8d8d8"/><path d="M340,193Q337,190 338,188" stroke="#e7e7e7"/><path d="M360,112Q357,116 355,121" stroke="#cecece"/><path d="M254,193Q260,192 261,192" stroke="#ebebeb"/><path d="M335,199Q332,195 328,192" stroke="#f3f3f3"/><path d="M286,84Q285,87 283,93" stroke="#d4d4d4"/><path d="M268,109Q273,106 274,108" stroke="#afafaf"/><path d="M311,162Q309,160 303,161" stroke="#b6b6b6"/><path d="M275,69Q274,63 278,61" stroke="#e3e3e3"/><path d="M343,161Q347,157 350,156" stroke="#dcdcdc"/><path d="M245,99Q249,97 250,98" stroke="#cfcfcf"/><path d="M297,210Q297,206 298,200" stroke="#cccccc"/><path d="M251,99Q247,97 242,95" stroke="#f2f2f2"/><path d="M322,139Q325,140 328,142" stroke="#c6c6c6"/><path d="M296,78Q293,73 294,73" stroke="#d1d1d1"/><path d="M359,182Q353,181 351,181" stroke="#e5e5e5"/><path d="M292,133Q294,136 298,136" stroke="#bebebe"/><path d="M345,106Q346,102 346,98" stroke="#cdcdcd"/><path d="M309,96Q306,92 305,88" stroke="#b1b1b1"/><path d="M275,114Q276,113 279,116" stroke="#d8d8d8"/><path d="M365,170Q369,167 372,168" stroke="#e3e3e3"/><path d="M272,203Q271,199 275,200" stroke="#f1f1f1"/><path d="M302,66Q298,68 300,70" stroke="#f5f5f5"/><path d="M324,186Q323,188 325,191" stroke="#d7d7d7"/><path d="M311,133Q310,134 312,139" stroke="#dadada"/><path d="M293,186Q292,188 293,194" stroke="#e2e2e2"/><path d="M285,87Q286,91 287,91" stroke="#f0f0f0"/><path d="M352,171Q348,170 345,166" stroke="#dadada"/><path d="M362,161Q360,160 360,157" stroke="#c9c9c9"/><path d="M285,79Q285,81 282,87" stroke="#dcdcdc"/><path d="M308,178Q309,179 313,176" stroke="#c9c9c9"/><path d="M294,93Q295,91 301,92" stroke="#dddddd"/><path d="M267,155Q269,151 274,150" stroke="#c7c7c7"/><path d="M339,159Q340,162 345,167" stroke="#d4d4d4"/><path d="M274,204Q274,207 268,209" stroke="#ececec"/><path d="M259,127Q258,131 261,135" stroke="#d2d2d2"/><path d="M270,115Q270,119 269,122" stroke="#d9d9d9"/><path d="M288,125Q288,127 287,130" stroke="#c6c6c6"/><path d="M262,132Q265,130 269,129" stroke="#c8c8c8"/><path d="M314,121Q315,125 313,127" stroke="#c5c5c5"/><path d="M291,83Q296,88 297,88" stroke="#e3e3e3"/><path d="M268,83Q265,80 266,78" stroke="#cacaca"/><path d="M247,161Q246,159 242,160" stroke="#e6e6e6"/><path d="M359,181Q357,178 356,176" stroke="#f5f5f5"/><path d="M338,173Q333,173 330,178" stroke="#b8b8b8"/><path d="M342,131Q346,135 345,136" stroke="#c4c4c4"/><path d="M341,145Q342,148 347,148" stroke="#cfcfcf"/><path d="M359,187Q355,183 353,183" stroke="#e0e0e0"/><path d="M332,201Q330,196 332,195" stroke="#f5f5f5"/><path d="M311,151Q308,146 307,144" stroke="#bebebe"/><path d="M311,198Q311,197 311,194" stroke="#eeeeee"/><path d="M352,167Q349,164 342,165" stroke="#d6d6d6"/><path d="M362,188Q365,188 367,190" stroke="#cacaca"/><path d="M246,130Q249,126 254,128" stroke="#f2f2f2"/><path d="M275,165Q273,162 269,159" stroke="#c7c7c7"/><path d="M346,201Q347,207 344,209" stroke="#dbdbdb"/><path d="M266,147Q266,146 271,147" stroke="#cacaca"/><path d="M258,167Q262,165 264,167" stroke="#e9e9e9"/><path d="M254,139Q258,136 258,135" stroke="#dddddd"/><path d="M257,101Q254,102 249,99" stroke="#dfdfdf"/><path d="M272,88Q275,90 279,94" stroke="#dfdfdf"/><path d="M306,144Q309,143 311,144" stroke="#bfbfbf"/><path d="M313,206Q314,207 314,212" stroke="#d6d6d6"/><path d="M341,106Q340,109 338,108" stroke="#d1d1d1"/><path d="M335,194Q332,190 333,186" stroke="#d2d2d2"/><path d="M266,76Q263,72 259,71" stroke="#d9d9d9"/><path d="M281,198Q280,201 278,206" stroke="#e4e4e4"/><path d="M303,89Q306,93 309,96" stroke="#b9b9b9"/><path d="M333,79Q335,79 332,75" stroke="#d1d1d1"/><path d="M297,208Q296,214 300,215" stroke="#e4e4e4"/><path d="M366,174Q363,173 361,172" stroke="#eeeeee"/><path d="M353,145Q356,144 357,147" stroke="#b9b9b9"/><path d="M285,75Q283,75 283,71" stroke="#eeeeee"/><path d="M318,94Q323,90 326,90" stroke="#b4b4b4"/><path d="M366,117Q370,115 375,113" stroke="#e0e0e0"/><path d="M317,83Q318,82 316,78" stroke="#d7d7d7"/><path d="M336,172Q338,174 341,173" stroke="#cccccc"/><path d="M247,133Q246,135 241,139" stroke="#d5d5d5"/><path d="M336,185Q337,188 335,190" stroke="#d3d3d3"/><path d="M248,147Q251,150 256,150" stroke="#cecece"/><path d="M301,186Q303,190 305,190" stroke="#c3c3c3"/><path d="M300,139Q302,137 302,134" stroke="#d5d5d5"/><path d="M237,108Q238,113 243,114" stroke="#e3e3e3"/><path d="M327,87Q323,81 322,79" stroke="#e2e2e2"/><path d="M340,202Q341,202 344,207" stroke="#ececec"/><path d="M324,107Q323,105 320,104" stroke="#b5b5b5"/><path d="M379,145Q376,147 371,148" stroke="#d5d5d5"/><path d="M350,75Q352,71 357,69" stroke="#cecece"/><path d="M281,140Q276,137 276,134" stroke="#dddddd"/><path d="M312,115Q307,111 304,110" stroke="#bfbfbf"/><path d="M305,165Q301,165 299,165" stroke="#c6c6c6"/><path d="M308,210Q307,216 310,219" stroke="#e4e4e4"/><path d="M282,71Q283,73 281,75" stroke="#eaeaea"/><path d="M268,167Q273,168 277,171" stroke="#cacaca"/><path d="M254,107Q259,112 259,114" stroke="#d5d5d5"/><path d="M273,86Q272,85 270,81" stroke="#cdcdcd"/><path d="M276,69Q277,70 279,74" stroke="#d4d4d4"/><path d="M273,143Q273,146 270,151" stroke="#d8d8d8"/><path d="M300,141Q300,144 298,147" stroke="#bdbdbd"/><path d="M288,165Q288,161 285,160" stroke="#d1d1d1"/><path d="M291,104Q297,105 298,108" stroke="#e0e0e0"/><path d="M297,87Q298,89 300,93" stroke="#cfcfcf"/><path d="M346,175Q347,172 343,172" stroke="#d4d4d4"/><path d="M277,195Q280,190 284,190" stroke="#cacaca"/><path d="M280,101Q281,101 284,99" stroke="#c6c6c6"/><path d="M339,185Q340,189 345,192" stroke="#e2e2e2"/><path d="M360,168Q363,172 366,174" stroke="#cecece"/><path d="M332,123Q328,126 329,131" stroke="#b7b7b7"/><path d="M313,110Q317,113 320,112" stroke="#d2d2d2"/><path d="M325,192Q326,193 330,196" stroke="#cbcbcb"/><path d="M235,107Q230,104 230,105" stroke="#e3e3e3"/><path d="M366,163Q368,163 371,166" stroke="#e3e3e3"/><path d="M360,144Q364,142 368,143" stroke="#e9e9e9"/><path d="M264,138Q266,142 269,143" stroke="#c6c6c6"/><path d="M306,211Q305,215 306,219" stroke="#e5e5e5"/><path d="M302,208Q304,204 304,198" stroke="#ebebeb"/><path d="M348,141Q348,140 347,135" stroke="#c8c8c8"/><path d="M240,153Q238,155 237,156" stroke="#f3f3f3"/><path d="M241,173Q243,174 249,174" stroke="#ebebeb"/><path d="M301,73Q299,72 300,66" stroke="#e8e8e8"/><path d="M318,61Q320,60 319,56" stroke="#d3d3d3"/><path d="M341,74Q341,70 343,67" stroke="#d3d3d3"/><path d="M341,83Q340,86 341,91" stroke="#cecece"/><path d="M271,132Q268,133 262,129" stroke="#c1c1c1"/><path d="M291,179Q289,180 287,181" stroke="#afafaf"/><path d="M246,160Q250,159 256,161" stroke="#ededed"/><path d="M359,176Q360,180 363,180" stroke="#dfdfdf"/><path d="M289,129Q292,126 294,122" stroke="#d4d4d4"/><path d="M329,75Q330,72 331,71" stroke="#e1e1e1"/><path d="M320,161Q325,159 329,160" stroke="#cacaca"/><path d="M367,104Q362,104 358,107" stroke="#dddddd"/><path d="M303,205Q305,203 307,201" stroke="#e4e4e4"/><path d="M238,153Q243,150 245,149" stroke="#f3f3f3"/><path d="M276,77Q277,79 282,82" stroke="#e4e4e4"/><path d="M284,139Q284,135 289,132" stroke="#b3b3b3"/><path d="M291,141Q290,141 285,142" stroke="#b7b7b7"/><path d="M316,77Q317,81 318,83" stroke="#e8e8e8"/><path d="M324,138Q324,137 326,132" stroke="#b0b0b0"/><path d="M324,150Q321,154 316,154" stroke="#b5b5b5"/><path d="M252,106Q256,103 258,104" stroke="#eaeaea"/><path d="M276,132Q279,134 282,137" stroke="#cfcfcf"/><path d="M280,119Q278,118 272,114" stroke="#b1b1b1"/><path d="M263,104Q257,102 256,99" stroke="#d7d7d7"/><path d="M272,182Q269,185 272,190" stroke="#d7d7d7"/><path d="M360,111Q362,111 369,113" stroke="#ebebeb"/><path d="M264,91Q264,88 259,90" stroke="#dadada"/><path d="M317,133Q313,138 313,141" stroke="#b0b0b0"/><path d="M336,118Q337,123 335,126" stroke="#dcdcdc"/><path d="M244,126Q240,129 234,127" stroke="#d7d7d7"/><path d="M237,164Q242,168 243,166" stroke="#dadada"/><path d="M318,131Q320,133 317,138" stroke="#afafaf"/><path d="M257,173Q259,171 263,173" stroke="#dbdbdb"/><path d="M286,132Q289,130 292,125" stroke="#cecece"/><path d="M335,73Q334,66 335,64" stroke="#d8d8d8"/><path d="M361,177Q366,180 366,184" stroke="#d0d0d0"/><path d="M347,114Q347,111 343,107" stroke="#c0c0c0"/><path d="M326,78Q324,76 325,72" stroke="#c9c9c9"/><path d="M290,109Q290,103 292,100" stroke="#c1c1c1"/><path d="M362,105Q364,105 369,105" stroke="#d3d3d3"/><path d="M319,159Q319,155 319,154" stroke="#bebebe"/><path d="M284,143Q285,142 291,141" stroke="#bbbbbb"/><path d="M308,207Q308,208 306,213" stroke="#e0e0e0"/><path d="M354,159Q353,161 353,163" stroke="#d4d4d4"/><path d="M347,89Q346,92 341,96" stroke="#ececec"/><path d="M254,156Q250,157 248,156" stroke="#f1f1f1"/><path d="M335,182Q338,184 342,182" stroke="#dddddd"/><path d="M282,159Q282,157 277,153" stroke="#c2c2c2"/><path d="M278,154Q274,160 273,162" stroke="#e0e0e0"/><path d="M356,112Q352,112 346,109" stroke="#e2e2e2"/><path d="M287,69Q287,68 283,64" stroke="#e3e3e3"/><path d="M306,81Q308,83 307,90" stroke="#d6d6d6"/><path d="M290,174Q289,176 285,179" stroke="#cacaca"/><path d="M285,160Q289,161 291,163" stroke="#c9c9c9"/><path d="M273,85Q274,92 275,93" stroke="#dddddd"/><path d="M305,184Q304,185 298,185" stroke="#bcbcbc"/><path d="M268,77Q268,78 272,78" stroke="#dbdbdb"/><path d="M250,158Q253,159 254,157" stroke="#e0e0e0"/><path d="M339,185Q337,182 338,180" stroke="#cfcfcf"/><path d="M360,152Q362,150 367,149" stroke="#d6d6d6"/><path d="M299,193Q303,198 303,201" stroke="#d0d0d0"/><path d="M252,101Q252,100 247,98" stroke="#eaeaea"/><path d="M311,207Q310,201 311,199" stroke="#f4f4f4"/><path d="M352,86Q351,86 347,88" stroke="#f0f0f0"/><path d="M265,193Q261,199 258,200" stroke="#c8c8c8"/><path d="M244,106Q242,104 238,101" stroke="#e3e3e3"/><path d="M318,78Q318,79 315,82" stroke="#e6e6e6"/><path d="M316,72Q317,71 316,67" stroke="#efefef"/><path d="M286,102Q283,100 278,101" stroke="#c2c2c2"/><path d="M292,146Q290,149 290,155" stroke="#c9c9c9"/><path d="M301,106Q299,102 301,101" stroke="#cfcfcf"/><path d="M250,170Q248,175 243,175" stroke="#dddddd"/><path d="M303,212Q304,209 307,208" stroke="#e3e3e3"/><path d="M301,186Q299,182 300,178" stroke="#c0c0c0"/><path d="M338,175Q336,173 334,171" stroke="#cdcdcd"/><path d="M257,111Q257,116 254,118" stroke="#dddddd"/><path d="M250,167Q254,163 254,162" stroke="#d8d8d8"/><path d="M282,119Q284,118 291,114" stroke="#bebebe"/><path d="M350,185Q350,188 354,189" stroke="#d6d6d6"/><path d="M237,172Q235,171 234,175" stroke="#d1d1d1"/><path d="M232,131Q228,128 227,126" stroke="#dbdbdb"/><path d="M319,204Q319,210 320,210" stroke="#dedede"/><path d="M362,144Q361,145 355,143" stroke="#e5e5e5"/><path d="M315,70Q312,76 312,79" stroke="#f1f1f1"/><path d="M278,197Q280,198 277,201" stroke="#e5e5e5"/><path d="M236,150Q234,148 232,152" stroke="#dedede"/><path d="M281,89Q288,86 291,87" stroke="#f5f5f5"/><path d="M317,120Q319,125 322,125" stroke="#d9d9d9"/><path d="M323,96Q326,94 332,98" stroke="#b7b7b7"/><path d="M266,147Q266,145 270,142" stroke="#dadada"/><path d="M277,121Q270,123 268,126" stroke="#b2b2b2"/><path d="M228,134Q226,133 219,134" stroke="#d0d0d0"/><path d="M248,140Q242,144 241,145" stroke="#e2e2e2"/><path d="M300,164Q303,165 307,170" stroke="#cfcfcf"/><path d="M268,129Q264,127 263,128" stroke="#bdbdbd"/><path d="M343,175Q348,177 352,177" stroke="#f4f4f4"/><path d="M333,109Q331,109 326,113" stroke="#dadada"/><path d="M248,98Q254,101 257,99" stroke="#cfcfcf"/><path d="M299,83Q301,86 305,88" stroke="#e9e9e9"/><path d="M275,121Q273,116 273,117" stroke="#d3d3d3"/><path d="M308,76Q309,79 311,82" stroke="#dfdfdf"/><path d="M271,133Q271,136 270,139" stroke="#c3c3c3"/><path d="M296,86Q291,86 289,88" stroke="#c8c8c8"/><path d="M318,155Q318,153 316,146" stroke="#bebebe"/><path d="M327,101Q328,105 327,109" stroke="#c7c7c7"/><path d="M333,162Q334,158 336,154" stroke="#dcdcdc"/><path d="M293,83Q294,87 299,89" stroke="#f2f2f2"/><path d="M244,103Q244,99 242,99" stroke="#e2e2e2"/><path d="M305,212Q305,209 307,207" stroke="#dcdcdc"/><path d="M358,171Q362,175 361,177" stroke="#cccccc"/><path d="M276,192Q276,188 275,184" stroke="#cacaca"/><path d="M260,152Q261,155 262,161" stroke="#cfcfcf"/><path d="M297,211Q297,208 300,203" stroke="#d5d5d5"/><path d="M335,117Q335,119 337,122" stroke="#c8c8c8"/><path d="M325,95Q326,90 330,87" stroke="#b2b2b2"/><path d="M239,171Q237,173 234,176" stroke="#d9d9d9"/><path d="M320,108Q326,106 328,103" stroke="#d5d5d5"/><path d="M315,173Q313,174 311,180" stroke="#dcdcdc"/><path d="M304,99Q305,97 309,98" stroke="#cecece"/><path d="M285,175Q284,179 284,181" stroke="#e1e1e1"/><path d="M369,160Q370,162 376,163" stroke="#e9e9e9"/><path d="M361,167Q359,165 358,161" stroke="#e5e5e5"/><path d="M378,159Q381,158 383,158" stroke="#ebebeb"/><path d="M296,165Q300,170 299,173" stroke="#dadada"/><path d="M285,177Q284,173 281,174" stroke="#c7c7c7"/><path d="M283,168Q277,168 274,172" stroke="#d7d7d7"/><path d="M362,123Q366,118 369,118" stroke="#dfdfdf"/><path d="M249,132Q244,129 240,131" stroke="#cdcdcd"/><path d="M352,143Q356,144 357,148" stroke="#c1c1c1"/><path d="M336,71Q340,71 340,69" stroke="#eaeaea"/><path d="M279,97Q280,97 283,101" stroke="#c7c7c7"/><path d="M337,173Q338,176 337,179" stroke="#d5d5d5"/><path d="M371,108Q376,109 378,109" stroke="#cfcfcf"/><path d="M248,111Q250,109 257,110" stroke="#d3d3d3"/><path d="M286,70Q285,68 287,64" stroke="#f4f4f4"/><path d="M340,172Q337,169 334,164" stroke="#b1b1b1"/><path d="M279,177Q277,176 271,177" stroke="#dbdbdb"/><path d="M241,124Q237,123 233,125" stroke="#cccccc"/><path d="M320,93Q324,92 324,95" stroke="#d0d0d0"/><path d="M290,210Q289,212 292,217" stroke="#f3f3f3"/><path d="M347,187Q351,188 351,194" stroke="#c8c8c8"/><path d="M294,70Q290,75 289,78" stroke="#ececec"/><path d="M260,171Q258,173 255,178" stroke="#e7e7e7"/><path d="M322,128Q320,127 317,130" stroke="#d5d5d5"/><path d="M325,82Q322,84 317,86" stroke="#ebebeb"/><path d="M334,176Q332,174 332,168" stroke="#d8d8d8"/><path d="M231,140Q233,141 237,139" stroke="#f1f1f1"/><path d="M370,172Q371,175 374,178" stroke="#dedede"/><path d="M233,143Q235,145 238,147" stroke="#f5f5f5"/><path d="M343,175Q349,173 352,174" stroke="#d6d6d6"/><path d="M277,181Q276,185 276,185" stroke="#ebebeb"/><path d="M253,180Q248,181 246,182" stroke="#dadada"/><path d="M281,154Q285,153 287,152" stroke="#b0b0b0"/><path d="M348,81Q347,85 345,85" stroke="#cfcfcf"/><path d="M276,191Q282,191 284,188" stroke="#dddddd"/><path d="M346,111Q347,114 344,116" stroke="#b3b3b3"/><path d="M231,155Q231,152 237,152" stroke="#e2e2e2"/><path d="M231,121Q235,120 241,119" stroke="#dfdfdf"/><path d="M359,164Q358,162 354,158" stroke="#dedede"/><path d="M240,175Q241,173 245,169" stroke="#f1f1f1"/><path d="M245,153Q241,157 240,156" stroke="#e5e5e5"/><path d="M265,150Q268,156 269,158" stroke="#c4c4c4"/><path d="M372,129Q375,131 378,130" stroke="#d4d4d4"/><path d="M371,176Q374,179 374,178" stroke="#dddddd"/><path d="M326,186Q321,182 321,182" stroke="#f5f5f5"/><path d="M274,128Q271,130 267,131" stroke="#dcdcdc"/><path d="M373,139Q371,138 369,138" stroke="#ededed"/><path d="M348,171Q348,172 350,176" stroke="#ededed"/><path d="M353,133Q350,135 350,139" stroke="#dbdbdb"/><path d="M333,180Q331,179 326,182" stroke="#ebebeb"/><path d="M331,122Q330,116 331,114" stroke="#d6d6d6"/><path d="M281,90Q283,91 287,89" stroke="#e7e7e7"/><path d="M327,188Q329,192 330,198" stroke="#d6d6d6"/><path d="M247,97Q253,98 256,99" stroke="#e7e7e7"/><path d="M246,162Q251,160 252,163" stroke="#dbdbdb"/><path d="M333,162Q330,163 323,165" stroke="#c8c8c8"/><path d="M322,145Q321,147 319,147" stroke="#bbbbbb"/><path d="M307,88Q306,89 304,93" stroke="#bfbfbf"/><path d="M327,207Q327,209 324,215" stroke="#f2f2f2"/><path d="M286,197Q289,194 292,191" stroke="#e2e2e2"/><path d="M304,87Q306,86 306,84" stroke="#cbcbcb"/><path d="M317,152Q320,147 321,145" stroke="#c0c0c0"/><path d="M312,65Q310,71 312,74" stroke="#cccccc"/><path d="M363,97Q364,100 362,101" stroke="#cdcdcd"/><path d="M313,106Q317,108 318,107" stroke="#d0d0d0"/><path d="M355,123Q356,128 357,131" stroke="#e9e9e9"/><path d="M246,172Q242,175 236,173" stroke="#c8c8c8"/><path d="M364,171Q364,168 358,170" stroke="#e3e3e3"/><path d="M276,87Q273,89 276,93" stroke="#e2e2e2"/><path d="M320,190Q320,187 322,186" stroke="#d6d6d6"/><path d="M254,170Q253,165 256,165" stroke="#f5f5f5"/><path d="M361,172Q361,172 357,172" stroke="#efefef"/><path d="M257,116Q259,120 257,121" stroke="#d3d3d3"/><path d="M233,161Q229,161 228,163" stroke="#ececec"/><path d="M274,84Q275,81 273,76" stroke="#d0d0d0"/><path d="M374,171Q375,173 380,178" stroke="#eaeaea"/><path d="M302,188Q301,189 303,192" stroke="#dcdcdc"/><path d="M334,170Q333,171 332,174" stroke="#d5d5d5"/><path d="M298,137Q299,140 299,147" stroke="#cdcdcd"/><path d="M330,117Q324,116 322,117" stroke="#d6d6d6"/><path d="M268,127Q265,125 261,122" stroke="#bbbbbb"/><path d="M343,75Q337,76 335,78" stroke="#d4d4d4"/><path d="M235,107Q232,104 232,102" stroke="#cfcfcf"/><path d="M286,100Q285,100 282,103" stroke="#b7b7b7"/><path d="M328,111Q328,110 325,107" stroke="#bcbcbc"/><path d="M230,140Q232,139 235,137" stroke="#dcdcdc"/><path d="M290,114Q290,115 291,121" stroke="#b5b5b5"/><path d="M238,103Q242,105 241,108" stroke="#dddddd"/><path d="M258,185Q255,186 250,191" stroke="#f3f3f3"/><path d="M240,121Q237,117 231,116" stroke="#ececec"/><path d="M246,181Q247,180 252,175" stroke="#e2e2e2"/><path d="M287,72Q288,69 291,65" stroke="#e7e7e7"/><path d="M298,118Q295,116 291,118" stroke="#c2c2c2"/><path d="M288,191Q291,194 290,198" stroke="#d9d9d9"/><path d="M254,127Q256,131 257,130" stroke="#dadada"/><path d="M346,193Q344,189 340,189" stroke="#d5d5d5"/><path d="M339,114Q338,117 337,118" stroke="#d0d0d0"/><path d="M367,122Q368,125 373,122" stroke="#eaeaea"/><path d="M366,137Q363,134 360,133" stroke="#e8e8e8"/><path d="M275,170Q276,168 279,167" stroke="#d2d2d2"/><path d="M335,164Q335,163 336,159" stroke="#dcdcdc"/><path d="M304,162Q304,159 305,158" stroke="#b4b4b4"/><path d="M349,101Q345,103 345,107" stroke="#d4d4d4"/><path d="M240,105Q242,103 247,104" stroke="#d7d7d7"/><path d="M243,133Q237,133 236,129" stroke="#d2d2d2"/><path d="M360,103Q362,99 369,100" stroke="#d5d5d5"/><path d="M293,79Q293,77 289,70" stroke="#cccccc"/><path d="M310,180Q315,182 315,187" stroke="#bebebe"/><path d="M229,134Q231,136 233,137" stroke="#d3d3d3"/><path d="M323,178Q325,176 327,178" stroke="#dfdfdf"/><path d="M372,175Q373,174 376,175" stroke="#f1f1f1"/><path d="M351,161Q355,158 357,160" stroke="#e9e9e9"/><path d="M346,178Q347,180 353,184" stroke="#cdcdcd"/><path d="M327,158Q330,161 332,159" stroke="#c4c4c4"/><path d="M326,113Q327,111 328,105" stroke="#d5d5d5"/><path d="M265,140Q262,139 263,136" stroke="#dbdbdb"/><path d="M316,138Q318,139 322,137" stroke="#b6b6b6"/><path d="M345,164Q347,167 346,174" stroke="#bbbbbb"/><path d="M253,92Q256,91 257,95" stroke="#cecece"/><path d="M289,203Q287,201 289,196" stroke="#cccccc"/><path d="M239,108Q245,110 246,110" stroke="#d3d3d3"/><path d="M373,160Q372,158 368,158" stroke="#eaeaea"/><path d="M247,96Q244,94 243,93" stroke="#eaeaea"/><path d="M340,99Q340,94 342,94" stroke="#dbdbdb"/><path d="M366,94Q362,99 362,100" stroke="#f3f3f3"/><path d="M286,197Q284,192 285,191" stroke="#e5e5e5"/><path d="M279,122Q278,125 281,127" stroke="#d3d3d3"/><path d="M248,141Q250,139 252,142" stroke="#cbcbcb"/><path d="M358,115Q357,117 356,120" stroke="#e6e6e6"/><path d="M278,171Q279,173 281,176" stroke="#b5b5b5"/><path d="M272,90Q277,89 281,92" stroke="#cfcfcf"/><path d="M293,112Q295,112 294,107" stroke="#d8d8d8"/><path d="M379,119Q383,116 384,116" stroke="#ededed"/><path d="M302,128Q308,130 309,130" stroke="#b5b5b5"/><path d="M268,107Q270,103 268,97" stroke="#d9d9d9"/><path d="M329,104Q332,106 332,108" stroke="#c7c7c7"/><path d="M358,115Q361,113 360,110" stroke="#d1d1d1"/><path d="M257,139Q255,135 253,132" stroke="#c9c9c9"/><path d="M284,193Q283,191 283,187" stroke="#e6e6e6"/><path d="M349,129Q347,126 349,123" stroke="#e0e0e0"/><path d="M272,207Q274,205 280,203" stroke="#cccccc"/><path d="M294,106Q293,111 291,115" stroke="#dcdcdc"/><path d="M273,144Q278,142 281,142" stroke="#bfbfbf"/><path d="M379,135Q373,136 370,133" stroke="#f1f1f1"/><path d="M347,201Q347,199 344,193" stroke="#d6d6d6"/><path d="M303,190Q304,193 301,193" stroke="#e7e7e7"/><path d="M252,160Q252,157 256,158" stroke="#f2f2f2"/><path d="M303,178Q303,177 300,173" stroke="#c4c4c4"/><path d="M295,194Q294,195 293,190" stroke="#d7d7d7"/><path d="M276,171Q279,172 280,169" stroke="#b3b3b3"/><path d="M278,77Q275,77 273,73" stroke="#dfdfdf"/><path d="M343,108Q348,109 352,108" stroke="#b3b3b3"/><path d="M267,139Q269,133 266,132" stroke="#d3d3d3"/><path d="M289,119Q284,119 281,116" stroke="#c6c6c6"/><path d="M337,75Q342,75 344,72" stroke="#f0f0f0"/><path d="M320,79Q319,79 315,83" stroke="#e6e6e6"/><path d="M328,136Q329,139 334,138" stroke="#c5c5c5"/><path d="M355,135Q360,136 360,137" stroke="#ebebeb"/><path d="M295,195Q295,194 296,190" stroke="#e3e3e3"/><path d="M356,151Q361,151 363,146" stroke="#ebebeb"/><path d="M332,172Q328,173 324,176" stroke="#c8c8c8"/><path d="M328,69Q328,67 325,61" stroke="#d4d4d4"/><path d="M301,118Q302,114 299,112" stroke="#cacaca"/><path d="M318,195Q321,196 323,200" stroke="#d6d6d6"/><path d="M247,153Q242,151 240,153" stroke="#d1d1d1"/><path d="M268,188Q268,190 263,190" stroke="#d3d3d3"/><path d="M240,152Q236,152 236,151" stroke="#eeeeee"/><path d="M311,78Q315,73 314,72" stroke="#cccccc"/><path d="M364,173Q363,169 361,168" stroke="#d5d5d5"/><path d="M321,119Q322,119 325,115" stroke="#cccccc"/><path d="M372,113Q372,118 368,121" stroke="#efefef"/><path d="M292,168Q288,164 285,164" stroke="#c0c0c0"/><path d="M347,93Q342,95 340,94" stroke="#d5d5d5"/><path d="M323,106Q321,106 323,102" stroke="#dfdfdf"/><path d="M321,101Q324,102 324,106" stroke="#d7d7d7"/><path d="M342,181Q342,184 342,187" stroke="#e1e1e1"/><path d="M299,118Q298,116 297,112" stroke="#c5c5c5"/><path d="M377,158Q382,158 384,164" stroke="#f2f2f2"/><path d="M311,155Q311,150 310,150" stroke="#b0b0b0"/><path d="M325,101Q328,101 330,101" stroke="#bababa"/><path d="M380,143Q384,143 385,144" stroke="#d5d5d5"/><path d="M355,185Q354,183 353,182" stroke="#e6e6e6"/><path d="M256,92Q256,98 257,100" stroke="#ededed"/><path d="M310,75Q311,70 307,66" stroke="#c8c8c8"/><path d="M274,72Q275,76 274,79" stroke="#eaeaea"/><path d="M276,109Q279,109 281,108" stroke="#b7b7b7"/><path d="M367,175Q364,174 359,174" stroke="#eeeeee"/><path d="M354,145Q354,141 354,140" stroke="#d3d3d3"/><path d="M294,109Q293,104 290,100" stroke="#c5c5c5"/><path d="M261,182Q259,184 256,188" stroke="#e5e5e5"/><path d="M325,84Q323,87 320,88" stroke="#e4e4e4"/><path d="M244,173Q248,171 249,170" stroke="#e6e6e6"/><path d="M263,186Q265,183 269,179" stroke="#d2d2d2"/><path d="M312,160Q314,163 313,165" stroke="#b1b1b1"/><path d="M267,73Q268,71 264,69" stroke="#eeeeee"/><path d="M355,178Q359,178 363,178" stroke="#efefef"/><path d="M334,200Q334,196 332,196" stroke="#e9e9e9"/><path d="M266,160Q262,162 257,161" stroke="#dfdfdf"/><path d="M280,133Q279,131 282,127" stroke="#b8b8b8"/><path d="M340,199Q339,196 332,195" stroke="#ebebeb"/><path d="M378,155Q373,157 370,157" stroke="#c8c8c8"/><path d="M292,99Q289,102 289,106" stroke="#b6b6b6"/><path d="M229,140Q235,143 238,145" stroke="#e9e9e9"/><path d="M327,171Q329,171 333,177" stroke="#b3b3b3"/><path d="M312,76Q309,81 306,84" stroke="#d7d7d7"/><path d="M372,102Q373,103 377,101" stroke="#c9c9c9"/><path d="M347,194Q345,193 343,192" stroke="#cccccc"/><path d="M340,136Q344,132 347,132" stroke="#cccccc"/><path d="M345,106Q347,103 351,100" stroke="#c8c8c8"/><path d="M371,125Q376,128 380,128" stroke="#e8e8e8"/><path d="M358,103Q359,100 361,94" stroke="#e1e1e1"/><path d="M324,120Q327,119 326,115" stroke="#cccccc"/><path d="M246,183Q241,183 240,183" stroke="#e1e1e1"/><path d="M262,98Q258,94 257,93" stroke="#d9d9d9"/><path d="M283,83Q282,84 282,79" stroke="#d5d5d5"/><path d="M291,156Q288,159 290,163" stroke="#d5d5d5"/><path d="M327,68Q326,67 326,62" stroke="#eaeaea"/><path d="M299,146Q302,147 306,151" stroke="#bebebe"/><path d="M246,114Q244,113 240,108" stroke="#cacaca"/><path d="M319,77Q317,81 317,81" stroke="#ececec"/><path d="M317,162Q320,159 321,160" stroke="#d9d9d9"/><path d="M354,192Q357,193 362,194" stroke="#cbcbcb"/><path d="M267,102Q272,101 272,101" stroke="#e2e2e2"/><path d="M351,76Q354,78 355,75" stroke="#ededed"/><path d="M233,134Q231,137 226,139" stroke="#cccccc"/><path d="M362,182Q363,186 367,186" stroke="#f3f3f3"/><path d="M340,108Q338,112 339,113" stroke="#bebebe"/><path d="M340,173Q346,173 348,167" stroke="#dbdbdb"/><path d="M233,137Q232,139 226,140" stroke="#d1d1d1"/><path d="M331,85Q329,89 323,88" stroke="#eeeeee"/><path d="M373,156Q376,156 377,160" stroke="#cacaca"/><path d="M342,172Q346,175 348,178" stroke="#e3e3e3"/><path d="M284,110Q281,106 280,103" stroke="#bcbcbc"/><path d="M247,187Q244,189 243,189" stroke="#e8e8e8"/><path d="M321,197Q319,201 321,202" stroke="#e5e5e5"/><path d="M364,139Q366,141 368,142" stroke="#ededed"/><path d="M373,165Q370,161 372,161" stroke="#e3e3e3"/><path d="M337,167Q336,169 335,172" stroke="#bebebe"/><path d="M300,86Q297,83 297,77" stroke="#e0e0e0"/><path d="M275,133Q277,130 280,126" stroke="#cbcbcb"/><path d="M272,182Q269,183 264,187" stroke="#dfdfdf"/><path d="M320,155Q319,159 316,163" stroke="#dcdcdc"/><path d="M275,94Q274,95 275,102" stroke="#d5d5d5"/><path d="M307,64Q306,70 309,72" stroke="#f1f1f1"/><path d="M346,142Q351,146 354,147" stroke="#d6d6d6"/><path d="M283,123Q289,123 291,121" stroke="#bababa"/><path d="M305,163Q306,161 310,156" stroke="#b1b1b1"/><path d="M366,103Q366,101 369,100" stroke="#dbdbdb"/><path d="M362,177Q362,177 366,181" stroke="#d0d0d0"/><path d="M236,134Q240,134 241,132" stroke="#d1d1d1"/><path d="M354,186Q355,190 357,190" stroke="#c9c9c9"/><path d="M312,156Q307,155 306,150" stroke="#d3d3d3"/><path d="M267,182Q264,185 261,186" stroke="#e7e7e7"/><path d="M342,128Q341,126 337,128" stroke="#c2c2c2"/><path d="M317,98Q316,94 315,94" stroke="#bcbcbc"/><path d="M303,68Q304,73 305,77" stroke="#dedede"/><path d="M315,122Q316,125 319,131" stroke="#d2d2d2"/><path d="M243,108Q240,107 236,109" stroke="#cdcdcd"/><path d="M298,206Q298,209 293,214" stroke="#e1e1e1"/><path d="M329,122Q329,120 329,118" stroke="#b3b3b3"/><path d="M292,203Q294,209 296,211" stroke="#f0f0f0"/><path d="M364,90Q361,92 361,94" stroke="#f5f5f5"/><path d="M260,199Q262,192 261,190" stroke="#cbcbcb"/><path d="M338,142Q337,140 339,137" stroke="#d0d0d0"/><path d="M309,195Q308,195 307,192" stroke="#cbcbcb"/><path d="M284,121Q278,119 278,117" stroke="#bebebe"/><path d="M257,125Q261,123 265,124" stroke="#e3e3e3"/><path d="M287,194Q283,188 283,186" stroke="#e8e8e8"/><path d="M265,116Q261,119 262,119" stroke="#bebebe"/><path d="M295,128Q295,131 297,133" stroke="#b0b0b0"/><path d="M360,84Q361,87 358,94" stroke="#eeeeee"/><path d="M237,160Q236,162 233,167" stroke="#cdcdcd"/><path d="M357,141Q356,140 351,140" stroke="#d5d5d5"/><path d="M304,208Q301,210 299,213" stroke="#cfcfcf"/><path d="M311,198Q310,201 309,204" stroke="#f5f5f5"/><path d="M364,93Q362,93 359,95" stroke="#cacaca"/><path d="M244,181Q244,183 241,185" stroke="#e2e2e2"/><path d="M378,117Q382,116 383,116" stroke="#e2e2e2"/><path d="M258,91Q258,92 262,96" stroke="#e0e0e0"/><path d="M289,67Q288,63 287,62" stroke="#dcdcdc"/><path d="M316,131Q315,127 315,124" stroke="#afafaf"/><path d="M288,87Q288,88 283,87" stroke="#d3d3d3"/><path d="M331,72Q327,75 328,81" stroke="#c8c8c8"/><path d="M292,109Q290,106 287,103" stroke="#b3b3b3"/><path d="M359,179Q353,174 352,173" stroke="#e6e6e6"/><path d="M280,165Q280,161 282,156" stroke="#c4c4c4"/><path d="M347,142Q343,147 343,150" stroke="#e0e0e0"/><path d="M374,126Q371,126 371,130" stroke="#ececec"/><path d="M280,123Q285,127 286,129" stroke="#b0b0b0"/><path d="M379,119Q378,121 375,122" stroke="#e9e9e9"/><path d="M328,106Q335,105 337,109" stroke="#cecece"/><path d="M354,176Q351,174 350,175" stroke="#eeeeee"/><path d="M228,140Q230,142 233,143" stroke="#f5f5f5"/><path d="M364,111Q369,111 372,113" stroke="#cdcdcd"/><path d="M263,119Q259,119 259,119" stroke="#c4c4c4"/><path d="M350,93Q353,91 356,90" stroke="#dedede"/><path d="M293,158Q290,159 286,163" stroke="#bababa"/><path d="M278,73Q274,71 272,67" stroke="#d0d0d0"/><path d="M272,139Q277,137 280,138" stroke="#d0d0d0"/><path d="M298,160Q297,156 293,154" stroke="#cbcbcb"/><path d="M337,141Q341,140 345,141" stroke="#d0d0d0"/><path d="M249,146Q244,147 240,148" stroke="#dddddd"/><path d="M235,120Q234,116 228,116" stroke="#cfcfcf"/><path d="M274,204Q270,207 267,210" stroke="#f0f0f0"/><path d="M361,158Q364,161 366,161" stroke="#e0e0e0"/><path d="M285,200Q282,197 281,193" stroke="#dadada"/><path d="M255,176Q255,172 260,172" stroke="#c9c9c9"/><path d="M298,200Q302,197 301,196" stroke="#cccccc"/><path d="M306,186Q305,183 303,182" stroke="#d3d3d3"/><path d="M284,180Q287,182 288,184" stroke="#dcdcdc"/><path d="M237,144Q239,147 244,149" stroke="#c8c8c8"/><path d="M269,138Q268,134 262,134" stroke="#cccccc"/><path d="M283,78Q286,79 291,82" stroke="#ececec"/><path d="M364,154Q361,155 358,156" stroke="#dadada"/><path d="M254,107Q253,105 253,103" stroke="#d1d1d1"/><path d="M259,158Q261,153 258,148" stroke="#f1f1f1"/><path d="M357,115Q357,116 353,120" stroke="#f4f4f4"/><path d="M375,156Q372,157 371,153" stroke="#dcdcdc"/><path d="M373,138Q374,142 377,143" stroke="#e1e1e1"/><path d="M278,168Q281,167 285,167" stroke="#dddddd"/><path d="M347,195Q346,195 342,192" stroke="#dfdfdf"/><path d="M307,71Q310,66 312,62" stroke="#c8c8c8"/><path d="M279,176Q277,174 280,172" stroke="#c1c1c1"/><path d="M355,142Q357,138 357,134" stroke="#cdcdcd"/><path d="M339,187Q339,189 340,192" stroke="#ececec"/><path d="M238,144Q241,146 246,146" stroke="#e0e0e0"/><path d="M371,139Q368,139 362,135" stroke="#ececec"/><path d="M363,150Q361,148 358,142" stroke="#e1e1e1"/><path d="M292,70Q295,75 295,79" stroke="#d5d5d5"/><path d="M261,102Q260,98 260,94" stroke="#d7d7d7"/><path d="M378,126Q381,124 383,122" stroke="#dcdcdc"/><path d="M284,199Q285,205 284,206" stroke="#d9d9d9"/><path d="M311,184Q312,185 315,184" stroke="#d9d9d9"/><path d="M247,187Q244,190 242,194" stroke="#dfdfdf"/><path d="M336,120Q335,122 338,128" stroke="#e1e1e1"/><path d="M245,114Q240,113 236,113" stroke="#d6d6d6"/><path d="M308,105Q306,105 301,104" stroke="#afafaf"/><path d="M308,71Q310,73 309,75" stroke="#dfdfdf"/><path d="M341,123Q340,119 338,119" stroke="#dbdbdb"/><path d="M247,105Q248,105 244,103" stroke="#e2e2e2"/><path d="M280,171Q279,170 276,173" stroke="#d3d3d3"/><path d="M322,67Q320,71 321,72" stroke="#dbdbdb"/><path d="M298,196Q300,194 303,192" stroke="#dedede"/><path d="M319,79Q317,85 319,86" stroke="#dcdcdc"/><path d="M293,116Q295,113 300,112" stroke="#b2b2b2"/><path d="M371,107Q369,106 362,105" stroke="#dcdcdc"/><path d="M241,133Q244,132 250,133" stroke="#f3f3f3"/><path d="M257,126Q257,128 252,134" stroke="#e1e1e1"/><path d="M295,74Q296,77 299,80" stroke="#f1f1f1"/><path d="M330,196Q328,193 329,191" stroke="#d9d9d9"/><path d="M261,171Q261,166 265,162" stroke="#d4d4d4"/><path d="M311,71Q312,68 312,66" stroke="#e7e7e7"/><path d="M303,93Q301,99 303,101" stroke="#dddddd"/><path d="M305,210Q300,214 300,217" stroke="#f3f3f3"/><path d="M371,118Q373,116 375,116" stroke="#ededed"/><path d="M367,175Q365,169 364,168" stroke="#f2f2f2"/><path d="M293,130Q293,129 296,124" stroke="#d2d2d2"/><path d="M280,119Q281,120 282,127" stroke="#b9b9b9"/><path d="M285,90Q287,90 285,85" stroke="#dcdcdc"/><path d="M251,152Q248,153 249,157" stroke="#d1d1d1"/><path d="M348,75Q350,77 353,74" stroke="#efefef"/><path d="M373,170Q377,171 382,168" stroke="#d1d1d1"/><path d="M256,102Q259,102 266,102" stroke="#d0d0d0"/><path d="M273,167Q274,169 279,168" stroke="#c2c2c2"/><path d="M321,199Q320,196 317,194" stroke="#d1d1d1"/><path d="M238,173Q239,171 244,166" stroke="#eeeeee"/><path d="M353,154Q352,150 353,149" stroke="#cecece"/><path d="M351,115Q351,109 348,108" stroke="#f4f4f4"/><path d="M275,159Q275,158 277,153" stroke="#c3c3c3"/><path d="M336,94Q340,92 344,93" stroke="#e3e3e3"/><path d="M359,109Q362,107 362,107" stroke="#cacaca"/><path d="M263,81Q260,79 261,72" stroke="#f2f2f2"/><path d="M322,93Q325,91 324,89" stroke="#c9c9c9"/><path d="M248,142Q252,145 255,148" stroke="#dbdbdb"/><path d="M356,91Q354,91 352,95" stroke="#f1f1f1"/><path d="M340,130Q345,129 346,131" stroke="#cfcfcf"/><path d="M230,120Q231,116 228,116" stroke="#cfcfcf"/><path d="M295,88Q293,83 295,81" stroke="#f2f2f2"/><path d="M263,73Q265,79 264,82" stroke="#cdcdcd"/><path d="M252,135Q254,139 255,138" stroke="#ebebeb"/><path d="M276,142Q278,137 275,136" stroke="#d7d7d7"/><path d="M267,130Q266,128 267,123" stroke="#d6d6d6"/><path d="M234,147Q239,145 240,148" stroke="#e6e6e6"/><path d="M232,125Q231,123 228,119" stroke="#e1e1e1"/><path d="M284,144Q289,144 292,148" stroke="#c3c3c3"/><path d="M332,171Q330,174 327,179" stroke="#c3c3c3"/><path d="M366,136Q361,141 360,142" stroke="#cbcbcb"/><path d="M252,93Q254,92 259,96" stroke="#cccccc"/><path d="M259,187Q256,190 254,189" stroke="#d3d3d3"/><path d="M352,197Q352,198 351,203" stroke="#cecece"/><path d="M342,98Q339,102 336,102" stroke="#f4f4f4"/><path d="M290,105Q290,102 287,102" stroke="#c0c0c0"/><path d="M299,68Q300,67 300,64" stroke="#f2f2f2"/><path d="M267,177Q266,178 262,181" stroke="#e9e9e9"/><path d="M353,77Q354,81 352,86" stroke="#f1f1f1"/><path d="M323,80Q319,81 319,85" stroke="#dedede"/><path d="M346,184Q351,189 353,189" stroke="#d4d4d4"/><path d="M243,183Q246,184 249,181" stroke="#cecece"/><path d="M304,199Q302,198 299,192" stroke="#e4e4e4"/><path d="M242,161Q247,159 246,162" stroke="#cccccc"/><path d="M271,160Q275,158 278,161" stroke="#afafaf"/><path d="M269,119Q272,115 276,114" stroke="#d4d4d4"/><path d="M293,93Q290,96 289,99" stroke="#dedede"/><path d="M295,101Q295,107 299,109" stroke="#cdcdcd"/><path d="M258,119Q258,125 262,127" stroke="#cecece"/><path d="M332,66Q332,65 331,61" stroke="#dcdcdc"/><path d="M328,206Q327,210 329,213" stroke="#ececec"/><path d="M308,184Q306,187 302,188" stroke="#cfcfcf"/><path d="M312,107Q311,104 308,103" stroke="#bababa"/><path d="M253,165Q257,162 259,161" stroke="#d3d3d3"/><path d="M302,204Q301,203 302,200" stroke="#e5e5e5"/><path d="M277,209Q273,211 271,213" stroke="#e4e4e4"/><path d="M374,161Q376,160 379,160" stroke="#dadada"/><path d="M254,157Q254,153 258,149" stroke="#d6d6d6"/><path d="M312,137Q311,131 312,128" stroke="#b4b4b4"/><path d="M274,106Q274,110 270,112" stroke="#cdcdcd"/><path d="M301,177Q303,181 302,182" stroke="#b5b5b5"/><path d="M367,153Q366,150 362,150" stroke="#e9e9e9"/><path d="M268,191Q270,191 271,186" stroke="#e4e4e4"/><path d="M277,185Q277,186 275,191" stroke="#eaeaea"/><path d="M233,163Q230,161 228,162" stroke="#cdcdcd"/><path d="M365,109Q367,111 373,110" stroke="#f0f0f0"/><path d="M292,120Q291,121 287,122" stroke="#cfcfcf"/><path d="M314,72Q318,72 318,67" stroke="#f2f2f2"/><path d="M278,81Q279,84 281,85" stroke="#e3e3e3"/><path d="M310,123Q308,123 306,126" stroke="#d5d5d5"/><path d="M281,90Q283,90 286,90" stroke="#f0f0f0"/><path d="M289,143Q292,142 292,146" stroke="#c3c3c3"/><path d="M298,115Q293,113 290,114" stroke="#cacaca"/><path d="M343,163Q344,162 348,166" stroke="#c0c0c0"/><path d="M294,204Q293,208 292,207" stroke="#f0f0f0"/><path d="M359,115Q357,118 357,118" stroke="#eeeeee"/><path d="M330,197Q329,201 329,201" stroke="#d0d0d0"/><path d="M334,89Q333,89 329,92" stroke="#eeeeee"/><path d="M349,149Q344,146 344,144" stroke="#bababa"/><path d="M343,91Q344,95 342,96" stroke="#cfcfcf"/><path d="M240,151Q239,151 235,155" stroke="#cfcfcf"/><path d="M316,84Q318,87 317,88" stroke="#f3f3f3"/><path d="M342,154Q343,155 348,159" stroke="#cacaca"/><path d="M369,108Q372,105 376,107" stroke="#f5f5f5"/><path d="M308,69Q309,69 306,74" stroke="#f5f5f5"/><path d="M366,91Q363,92 361,95" stroke="#dadada"/><path d="M305,213Q302,210 301,205" stroke="#d9d9d9"/><path d="M255,135Q259,133 261,133" stroke="#dadada"/><path d="M314,151Q310,155 306,154" stroke="#bebebe"/><path d="M287,97Q285,100 283,100" stroke="#c3c3c3"/><path d="M373,102Q378,99 382,97" stroke="#d1d1d1"/><path d="M325,88Q320,89 317,91" stroke="#cecece"/><path d="M284,193Q286,191 289,186" stroke="#ebebeb"/><path d="M255,183Q252,184 251,186" stroke="#f5f5f5"/><path d="M374,143Q367,141 366,142" stroke="#f5f5f5"/><path d="M239,122Q240,122 245,123" stroke="#e9e9e9"/><path d="M242,165Q239,167 233,169" stroke="#eaeaea"/><path d="M244,139Q239,140 234,141" stroke="#cecece"/><path d="M295,72Q297,72 297,68" stroke="#d9d9d9"/><path d="M248,98Q243,97 241,99" stroke="#ebebeb"/><path d="M329,190Q325,184 324,182" stroke="#dadada"/><path d="M298,87Q296,86 294,84" stroke="#d7d7d7"/><path d="M310,95Q312,95 317,96" stroke="#cdcdcd"/><path d="M320,203Q321,200 320,195" stroke="#d5d5d5"/><path d="M290,69Q291,71 292,74" stroke="#eaeaea"/><path d="M307,194Q302,191 302,187" stroke="#e2e2e2"/><path d="M357,133Q353,133 352,137" stroke="#dcdcdc"/><path d="M274,171Q277,168 280,169" stroke="#c9c9c9"/><path d="M327,75Q325,78 327,84" stroke="#e1e1e1"/><path d="M270,89Q269,86 266,85" stroke="#d0d0d0"/><path d="M281,109Q280,109 279,105" stroke="#b2b2b2"/><path d="M314,169Q314,166 312,163" stroke="#c0c0c0"/><path d="M278,154Q272,157 271,157" stroke="#c5c5c5"/><path d="M310,172Q303,173 302,169" stroke="#dbdbdb"/><path d="M253,121Q251,118 253,115" stroke="#d5d5d5"/><path d="M289,209Q287,212 286,212" stroke="#dbdbdb"/><path d="M299,194Q298,198 298,199" stroke="#d8d8d8"/><path d="M337,199Q338,195 338,194" stroke="#cecece"/><path d="M361,169Q357,166 354,167" stroke="#efefef"/><path d="M270,116Q265,117 263,118" stroke="#d1d1d1"/><path d="M289,62Q287,60 286,54" stroke="#dadada"/><path d="M352,96Q350,98 343,98" stroke="#d8d8d8"/><path d="M253,120Q256,125 257,126" stroke="#ededed"/><path d="M230,128Q234,130 237,128" stroke="#d6d6d6"/><path d="M251,136Q246,132 245,130" stroke="#dcdcdc"/><path d="M237,128Q233,129 232,129" stroke="#f3f3f3"/><path d="M278,163Q278,160 280,155" stroke="#d8d8d8"/><path d="M264,169Q267,167 268,165" stroke="#dadada"/><path d="M354,108Q353,107 349,112" stroke="#f0f0f0"/><path d="M351,179Q352,178 358,182" stroke="#d9d9d9"/><path d="M324,117Q326,119 325,123" stroke="#cccccc"/><path d="M367,177Q373,178 377,176" stroke="#dedede"/><path d="M305,199Q305,198 301,193" stroke="#e5e5e5"/><path d="M313,77Q309,78 308,81" stroke="#d9d9d9"/><path d="M300,210Q296,211 297,215" stroke="#e4e4e4"/><path d="M378,118Q380,118 384,114" stroke="#f3f3f3"/><path d="M286,201Q288,196 286,192" stroke="#d5d5d5"/><path d="M366,99Q372,96 373,95" stroke="#e2e2e2"/><path d="M360,146Q364,149 365,148" stroke="#cacaca"/><path d="M374,105Q378,102 379,102" stroke="#d6d6d6"/><path d="M274,205Q277,209 274,211" stroke="#f4f4f4"/><path d="M353,170Q356,174 357,174" stroke="#ececec"/><path d="M244,172Q245,168 249,168" stroke="#e3e3e3"/><path d="M280,171Q281,172 286,175" stroke="#c2c2c2"/><path d="M359,160Q356,154 353,153" stroke="#e6e6e6"/><path d="M328,83Q325,83 326,88" stroke="#dadada"/><path d="M363,149Q366,147 368,147" stroke="#c9c9c9"/><path d="M242,167Q244,167 249,166" stroke="#dfdfdf"/><path d="M346,108Q346,106 343,102" stroke="#e0e0e0"/><path d="M355,154Q353,158 348,157" stroke="#dcdcdc"/><path d="M305,96Q304,97 302,102" stroke="#b9b9b9"/><path d="M341,163Q343,158 347,158" stroke="#b2b2b2"/><path d="M293,67Q294,63 293,60" stroke="#c9c9c9"/><path d="M251,169Q247,171 245,170" stroke="#e5e5e5"/><path d="M266,92Q271,94 272,93" stroke="#eeeeee"/><path d="M312,210Q312,216 315,218" stroke="#dadada"/><path d="M328,185Q324,186 322,188" stroke="#ececec"/><path d="M370,177Q370,179 375,185" stroke="#cacaca"/><path d="M281,90Q275,85 274,86" stroke="#e8e8e8"/><path d="M259,117Q255,116 252,114" stroke="#dbdbdb"/><path d="M310,85Q313,88 315,88" stroke="#e1e1e1"/><path d="M308,181Q308,183 310,185" stroke="#bdbdbd"/><path d="M344,161Q339,165 339,165" stroke="#d0d0d0"/><path d="M278,164Q281,169 280,172" stroke="#d1d1d1"/><path d="M350,91Q350,93 350,98" stroke="#cccccc"/><path d="M331,178Q331,178 328,174" stroke="#afafaf"/><path d="M276,107Q282,104 284,102" stroke="#cfcfcf"/><path d="M321,186Q326,185 327,184" stroke="#ebebeb"/><path d="M240,141Q246,143 248,147" stroke="#dfdfdf"/><path d="M375,105Q377,102 378,101" stroke="#e8e8e8"/><path d="M330,85Q332,81 335,80" stroke="#d7d7d7"/><path d="M337,130Q338,128 342,126" stroke="#d4d4d4"/><path d="M320,64Q320,68 316,69" stroke="#d6d6d6"/><path d="M371,125Q375,127 377,128" stroke="#d9d9d9"/><path d="M252,112Q257,112 260,113" stroke="#d0d0d0"/><path d="M336,79Q340,77 339,76" stroke="#ececec"/><path d="M303,108Q302,106 299,106" stroke="#c7c7c7"/><path d="M243,165Q248,166 250,164" stroke="#eaeaea"/><path d="M250,95Q248,92 245,89" stroke="#ececec"/><path d="M327,112Q324,107 326,104" stroke="#d0d0d0"/><path d="M253,135Q254,133 251,128" stroke="#e0e0e0"/><path d="M255,83Q253,85 255,87" stroke="#c9c9c9"/><path d="M293,204Q290,208 289,210" stroke="#ededed"/><path d="M238,118Q239,117 243,119" stroke="#e2e2e2"/><path d="M327,168Q331,165 332,164" stroke="#cdcdcd"/><path d="M353,88Q356,85 358,82" stroke="#dadada"/><path d="M288,93Q290,97 293,97" stroke="#c7c7c7"/><path d="M254,97Q257,101 262,102" stroke="#e5e5e5"/><path d="M242,148Q244,145 246,144" stroke="#f2f2f2"/><path d="M359,170Q364,170 365,171" stroke="#f0f0f0"/><path d="M354,195Q355,191 354,188" stroke="#dfdfdf"/><path d="M359,122Q353,122 352,123" stroke="#ececec"/><path d="M334,188Q336,191 336,195" stroke="#d5d5d5"/><path d="M315,203Q313,205 312,208" stroke="#cccccc"/><path d="M324,67Q322,65 323,60" stroke="#eaeaea"/><path d="M295,184Q291,186 289,190" stroke="#b4b4b4"/><path d="M356,178Q356,181 360,179" stroke="#e8e8e8"/><path d="M322,203Q319,203 321,208" stroke="#e9e9e9"/><path d="M289,175Q287,180 287,180" stroke="#c7c7c7"/><path d="M291,121Q297,120 298,118" stroke="#d6d6d6"/><path d="M331,96Q330,92 335,89" stroke="#dbdbdb"/><path d="M345,188Q344,185 345,184" stroke="#ededed"/><path d="M375,138Q370,141 370,142" stroke="#e3e3e3"/><path d="M312,179Q310,175 313,172" stroke="#c0c0c0"/><path d="M335,172Q331,169 328,167" stroke="#d1d1d1"/><path d="M329,141Q325,142 324,147" stroke="#d9d9d9"/><path d="M314,158Q315,159 318,160" stroke="#d9d9d9"/><path d="M287,205Q289,204 287,199" stroke="#d5d5d5"/><path d="M272,166Q272,164 268,166" stroke="#b6b6b6"/><path d="M348,74Q348,71 351,69" stroke="#cbcbcb"/><path d="M254,132Q257,132 258,136" stroke="#dbdbdb"/><path d="M309,201Q312,201 311,197" stroke="#cbcbcb"/><path d="M378,154Q381,154 384,152" stroke="#cdcdcd"/><path d="M367,93Q371,88 372,87" stroke="#d6d6d6"/><path d="M285,136Q286,132 285,131" stroke="#b9b9b9"/><path d="M290,109Q294,105 296,104" stroke="#cccccc"/><path d="M352,157Q352,163 354,164" stroke="#d6d6d6"/><path d="M286,106Q284,102 279,102" stroke="#dddddd"/><path d="M345,191Q349,194 349,193" stroke="#c9c9c9"/><path d="M334,176Q331,173 331,171" stroke="#bebebe"/><path d="M306,203Q307,197 305,194" stroke="#e3e3e3"/><path d="M329,182Q331,184 330,189" stroke="#eeeeee"/><path d="M304,194Q304,193 301,197" stroke="#d5d5d5"/><path d="M252,106Q253,109 256,108" stroke="#f1f1f1"/><path d="M371,170Q375,170 376,171" stroke="#e8e8e8"/><path d="M350,126Q347,124 340,123" stroke="#c2c2c2"/><path d="M332,118Q334,114 332,111" stroke="#cccccc"/><path d="M244,153Q238,153 235,151" stroke="#cccccc"/><path d="M310,84Q308,89 310,90" stroke="#e3e3e3"/><path d="M369,123Q363,126 362,130" stroke="#d1d1d1"/><path d="M270,178Q268,174 267,172" stroke="#e5e5e5"/><path d="M319,163Q316,161 313,162" stroke="#c5c5c5"/><path d="M269,118Q272,119 275,118" stroke="#d5d5d5"/><path d="M287,117Q288,117 289,120" stroke="#c0c0c0"/><path d="M255,81Q260,80 260,82" stroke="#cccccc"/><path d="M270,198Q271,195 276,193" stroke="#d3d3d3"/><path d="M304,78Q303,78 305,74" stroke="#d9d9d9"/><path d="M245,117Q244,115 238,110" stroke="#d1d1d1"/><path d="M326,199Q325,205 322,208" stroke="#c8c8c8"/><path d="M288,111Q285,112 283,112" stroke="#d7d7d7"/><path d="M330,163Q326,160 327,160" stroke="#d8d8d8"/><path d="M323,131Q325,127 324,126" stroke="#d2d2d2"/><path d="M335,95Q337,99 336,101" stroke="#d0d0d0"/><path d="M361,169Q355,166 352,165" stroke="#ededed"/><path d="M276,154Q277,152 279,151" stroke="#b1b1b1"/><path d="M353,99Q352,98 349,100" stroke="#e9e9e9"/><path d="M296,77Q298,72 295,69" stroke="#d5d5d5"/><path d="M307,82Q308,80 310,78" stroke="#d7d7d7"/><path d="M332,181Q328,181 328,179" stroke="#dcdcdc"/><path d="M354,93Q356,92 362,92" stroke="#d8d8d8"/><path d="M324,130Q325,131 322,135" stroke="#e0e0e0"/><path d="M252,176Q258,174 260,174" stroke="#e3e3e3"/><path d="M365,164Q368,161 371,164" stroke="#ececec"/><path d="M255,82Q256,84 258,90" stroke="#f2f2f2"/><path d="M343,138Q347,135 348,134" stroke="#bababa"/><path d="M345,182Q343,180 339,180" stroke="#e7e7e7"/><path d="M278,116Q281,111 283,108" stroke="#b4b4b4"/><path d="M314,204Q320,208 321,210" stroke="#f5f5f5"/><path d="M314,91Q320,93 323,93" stroke="#bcbcbc"/><path d="M276,138Q280,137 279,136" stroke="#c4c4c4"/><path d="M353,98Q352,96 348,100" stroke="#d4d4d4"/><path d="M287,110Q290,105 291,104" stroke="#d2d2d2"/><path d="M343,130Q339,136 337,137" stroke="#c4c4c4"/><path d="M305,100Q309,101 310,100" stroke="#b5b5b5"/><path d="M321,107Q323,110 323,112" stroke="#dcdcdc"/><path d="M323,115Q327,113 330,110" stroke="#bfbfbf"/><path d="M283,94Q278,96 277,96" stroke="#d4d4d4"/><path d="M288,150Q292,153 294,155" stroke="#b3b3b3"/><path d="M270,77Q268,72 270,70" stroke="#cdcdcd"/><path d="M249,116Q245,116 243,113" stroke="#f0f0f0"/><path d="M324,104Q320,101 320,101" stroke="#bcbcbc"/><path d="M272,90Q274,92 276,98" stroke="#cacaca"/><path d="M337,97Q335,100 332,104" stroke="#d1d1d1"/><path d="M277,208Q277,210 277,213" stroke="#cbcbcb"/><path d="M247,141Q252,138 253,138" stroke="#eaeaea"/><path d="M233,122Q235,122 238,125" stroke="#e6e6e6"/><path d="M246,131Q240,132 237,133" stroke="#e5e5e5"/><path d="M330,164Q333,167 330,169" stroke="#c7c7c7"/><path d="M249,154Q246,157 244,158" stroke="#c9c9c9"/><path d="M252,143Q252,140 255,137" stroke="#dbdbdb"/><path d="M341,122Q340,119 337,119" stroke="#e0e0e0"/><path d="M319,162Q322,159 328,162" stroke="#c4c4c4"/><path d="M318,77Q319,76 316,81" stroke="#d8d8d8"/><path d="M342,198Q339,195 341,193" stroke="#efefef"/><path d="M340,171Q344,173 348,176" stroke="#b2b2b2"/><path d="M275,172Q277,175 278,181" stroke="#c3c3c3"/><path d="M261,127Q256,123 253,124" stroke="#cfcfcf"/><path d="M368,97Q374,95 375,98" stroke="#f4f4f4"/><path d="M271,87Q278,88 281,90" stroke="#d2d2d2"/><path d="M250,190Q249,191 247,194" stroke="#d6d6d6"/><path d="M287,141Q286,140 288,135" stroke="#afafaf"/><path d="M338,94Q338,93 340,88" stroke="#f0f0f0"/><path d="M238,103Q242,100 244,102" stroke="#dbdbdb"/><path d="M258,145Q259,146 262,144" stroke="#bbbbbb"/><path d="M332,171Q332,175 332,177" stroke="#b1b1b1"/><path d="M326,94Q329,96 331,99" stroke="#cdcdcd"/><path d="M290,138Q295,138 297,140" stroke="#b7b7b7"/><path d="M242,156Q238,160 237,161" stroke="#cbcbcb"/><path d="M326,122Q327,119 329,117" stroke="#c0c0c0"/><path d="M281,146Q276,144 276,147" stroke="#c7c7c7"/><path d="M365,178Q366,183 369,187" stroke="#c9c9c9"/><path d="M368,118Q368,120 364,121" stroke="#dbdbdb"/><path d="M320,187Q316,192 314,194" stroke="#d5d5d5"/><path d="M315,173Q312,167 313,164" stroke="#b8b8b8"/><path d="M277,105Q278,103 280,103" stroke="#cdcdcd"/><path d="M300,190Q299,190 302,194" stroke="#f3f3f3"/><path d="M303,184Q305,190 306,192" stroke="#d1d1d1"/><path d="M262,158Q263,157 267,160" stroke="#c4c4c4"/><path d="M246,186Q248,184 248,180" stroke="#ededed"/><path d="M315,83Q317,84 316,87" stroke="#dadada"/><path d="M303,176Q299,172 298,173" stroke="#cbcbcb"/><path d="M305,178Q308,179 310,175" stroke="#cccccc"/><path d="M301,165Q298,166 293,169" stroke="#dbdbdb"/><path d="M320,142Q325,142 326,138" stroke="#bebebe"/><path d="M281,90Q281,88 283,83" stroke="#dedede"/><path d="M331,89Q332,93 334,95" stroke="#e8e8e8"/><path d="M269,127Q266,126 261,129" stroke="#bdbdbd"/><path d="M242,107Q245,110 247,114" stroke="#e9e9e9"/><path d="M257,91Q262,95 264,95" stroke="#f4f4f4"/><path d="M308,193Q308,195 312,200" stroke="#d1d1d1"/><path d="M323,97Q325,95 328,95" stroke="#b3b3b3"/><path d="M265,156Q265,157 262,160" stroke="#dcdcdc"/><path d="M235,110Q233,110 231,109" stroke="#d8d8d8"/><path d="M296,170Q303,170 306,171" stroke="#d3d3d3"/><path d="M336,177Q338,180 340,182" stroke="#d3d3d3"/><path d="M273,80Q275,75 273,74" stroke="#dddddd"/><path d="M369,143Q368,146 372,146" stroke="#d3d3d3"/><path d="M362,113Q357,113 352,112" stroke="#e1e1e1"/><path d="M251,113Q249,113 246,111" stroke="#d7d7d7"/><path d="M286,102Q291,103 291,106" stroke="#c2c2c2"/><path d="M304,100Q305,104 310,104" stroke="#d0d0d0"/><path d="M329,139Q330,141 326,143" stroke="#d4d4d4"/><path d="M254,141Q253,145 252,144" stroke="#eeeeee"/><path d="M331,125Q325,124 323,128" stroke="#bcbcbc"/><path d="M360,114Q363,113 367,107" stroke="#d4d4d4"/><path d="M317,161Q319,159 325,160" stroke="#d9d9d9"/><path d="M239,147Q241,146 244,146" stroke="#ededed"/><path d="M355,138Q356,139 361,141" stroke="#d8d8d8"/><path d="M344,80Q349,79 348,75" stroke="#cecece"/><path d="M283,170Q279,164 278,162" stroke="#cfcfcf"/><path d="M331,97Q336,96 339,98" stroke="#c2c2c2"/><path d="M336,190Q338,189 337,183" stroke="#dddddd"/><path d="M325,191Q325,193 324,200" stroke="#d0d0d0"/><path d="M337,164Q334,169 334,171" stroke="#b8b8b8"/><path d="M258,112Q254,113 254,116" stroke="#dadada"/><path d="M325,74Q323,79 324,79" stroke="#ededed"/><path d="M282,91Q285,92 285,97" stroke="#ececec"/><path d="M364,93Q365,94 361,98" stroke="#e6e6e6"/><path d="M250,114Q246,114 246,111" stroke="#f1f1f1"/><path d="M298,158Q294,162 295,164" stroke="#bdbdbd"/><path d="M320,179Q324,183 328,183" stroke="#c8c8c8"/><path d="M279,70Q281,75 280,79" stroke="#cbcbcb"/><path d="M319,99Q318,97 315,91" stroke="#b2b2b2"/><path d="M324,139Q326,136 329,137" stroke="#cfcfcf"/><path d="M315,93Q314,94 310,93" stroke="#c7c7c7"/><path d="M250,110Q246,110 246,109" stroke="#cacaca"/><path d="M330,102Q333,102 336,100" stroke="#d6d6d6"/><path d="M255,109Q253,106 252,103" stroke="#f0f0f0"/><path d="M260,77Q260,72 259,70" stroke="#f1f1f1"/><path d="M298,87Q298,88 295,90" stroke="#d0d0d0"/><path d="M274,128Q278,126 281,125" stroke="#b8b8b8"/><path d="M266,164Q269,168 270,167" stroke="#c4c4c4"/><path d="M330,168Q325,166 322,167" stroke="#b7b7b7"/><path d="M266,203Q269,198 269,194" stroke="#e6e6e6"/><path d="M379,155Q377,152 375,151" stroke="#e5e5e5"/><path d="M355,93Q357,90 361,85" stroke="#d3d3d3"/><path d="M277,190Q274,190 269,193" stroke="#cccccc"/><path d="M380,139Q382,138 384,137" stroke="#d8d8d8"/><path d="M335,116Q331,115 329,118" stroke="#c7c7c7"/><path d="M360,185Q361,185 365,185" stroke="#cacaca"/><path d="M371,135Q369,138 363,141" stroke="#eeeeee"/><path d="M289,119Q293,121 296,121" stroke="#bdbdbd"/><path d="M269,131Q266,129 265,126" stroke="#cecece"/><path d="M298,138Q301,136 299,129" stroke="#dbdbdb"/><path d="M303,196Q300,193 299,190" stroke="#d1d1d1"/><path d="M288,70Q289,75 294,76" stroke="#cbcbcb"/><path d="M275,105Q270,104 267,102" stroke="#d5d5d5"/><path d="M318,204Q316,210 317,214" stroke="#dbdbdb"/><path d="M296,61Q294,59 293,52" stroke="#dbdbdb"/><path d="M327,194Q327,196 332,200" stroke="#cfcfcf"/><path d="M273,132Q274,132 272,136" stroke="#dadada"/><path d="M301,93Q302,92 308,91" stroke="#b6b6b6"/><path d="M235,121Q235,126 240,129" stroke="#e8e8e8"/><path d="M250,186Q251,183 256,184" stroke="#eaeaea"/><path d="M348,131Q347,131 343,133" stroke="#b0b0b0"/><path d="M339,185Q344,188 344,187" stroke="#d4d4d4"/><path d="M292,201Q291,203 296,208" stroke="#cecece"/><path d="M254,80Q254,83 257,83" stroke="#e0e0e0"/><path d="M284,135Q287,133 288,127" stroke="#c9c9c9"/><path d="M344,177Q345,181 345,185" stroke="#c8c8c8"/><path d="M292,95Q285,96 283,93" stroke="#b3b3b3"/><path d="M282,70Q282,66 278,65" stroke="#dbdbdb"/><path d="M371,97Q369,99 363,101" stroke="#eeeeee"/><path d="M272,182Q269,188 265,189" stroke="#e6e6e6"/><path d="M358,92Q357,94 355,99" stroke="#dbdbdb"/><path d="M297,210Q300,205 302,204" stroke="#dbdbdb"/><path d="M307,102Q311,100 312,99" stroke="#bbbbbb"/><path d="M238,159Q242,158 246,155" stroke="#cfcfcf"/><path d="M291,88Q288,87 283,85" stroke="#e0e0e0"/><path d="M328,114Q334,114 335,116" stroke="#d7d7d7"/><path d="M320,209Q319,207 315,204" stroke="#f3f3f3"/><path d="M355,140Q353,141 348,139" stroke="#f1f1f1"/><path d="M312,119Q307,117 305,119" stroke="#cecece"/><path d="M284,81Q283,82 282,85" stroke="#d6d6d6"/><path d="M351,103Q348,109 347,112" stroke="#e3e3e3"/><path d="M372,127Q369,127 363,131" stroke="#f5f5f5"/><path d="M232,113Q235,112 236,114" stroke="#d6d6d6"/><path d="M311,213Q314,215 316,220" stroke="#dcdcdc"/><path d="M302,179Q303,182 306,182" stroke="#afafaf"/><path d="M310,206Q312,200 313,199" stroke="#d4d4d4"/><path d="M294,163Q294,165 297,168" stroke="#c6c6c6"/><path d="M288,81Q291,82 292,84" stroke="#e8e8e8"/><path d="M333,199Q334,194 335,191" stroke="#dcdcdc"/><path d="M278,204Q279,200 281,200" stroke="#ededed"/><path d="M257,94Q264,93 266,97" stroke="#cbcbcb"/><path d="M313,162Q313,162 309,159" stroke="#c1c1c1"/><path d="M282,94Q284,89 286,85" stroke="#c7c7c7"/><path d="M358,172Q360,174 363,172" stroke="#dddddd"/><path d="M241,132Q244,131 248,131" stroke="#dbdbdb"/><path d="M261,163Q260,159 262,155" stroke="#e0e0e0"/><path d="M298,159Q297,161 292,159" stroke="#d1d1d1"/><path d="M241,111Q244,114 246,114" stroke="#cacaca"/><path d="M339,134Q339,129 340,127" stroke="#d4d4d4"/><path d="M295,67Q298,67 299,70" stroke="#cacaca"/><path d="M289,164Q290,171 288,174" stroke="#cecece"/><path d="M285,67Q284,68 284,73" stroke="#cacaca"/><path d="M273,89Q272,84 274,84" stroke="#f0f0f0"/><path d="M328,184Q334,186 335,187" stroke="#e1e1e1"/><path d="M342,134Q344,132 345,125" stroke="#bbbbbb"/><path d="M353,183Q356,182 357,183" stroke="#e9e9e9"/><path d="M230,135Q232,139 238,140" stroke="#e1e1e1"/><path d="M232,155Q232,158 228,161" stroke="#d7d7d7"/><path d="M261,89Q260,85 259,85" stroke="#d2d2d2"/><path d="M256,163Q258,162 258,157" stroke="#d6d6d6"/><path d="M234,138Q236,138 238,136" stroke="#f5f5f5"/><path d="M320,208Q322,214 321,218" stroke="#d2d2d2"/><path d="M337,161Q338,158 343,157" stroke="#c4c4c4"/><path d="M311,68Q308,71 307,77" stroke="#e4e4e4"/><path d="M315,75Q315,71 312,69" stroke="#e2e2e2"/><path d="M249,119Q246,118 240,121" stroke="#d6d6d6"/><path d="M341,99Q342,99 348,98" stroke="#dfdfdf"/><path d="M259,144Q255,149 253,150" stroke="#d4d4d4"/><path d="M256,191Q257,185 258,184" stroke="#cacaca"/><path d="M249,117Q244,115 242,115" stroke="#efefef"/><path d="M312,194Q314,188 310,185" stroke="#dddddd"/><path d="M374,162Q378,167 379,170" stroke="#e9e9e9"/><path d="M333,175Q329,174 327,177" stroke="#d4d4d4"/><path d="M243,170Q241,167 238,169" stroke="#eaeaea"/><path d="M302,204Q302,201 300,198" stroke="#d9d9d9"/><path d="M367,158Q363,156 361,157" stroke="#f1f1f1"/><path d="M290,178Q293,181 297,179" stroke="#b6b6b6"/><path d="M244,114Q243,112 239,110" stroke="#d8d8d8"/><path d="M255,104Q257,103 263,105" stroke="#e4e4e4"/><path d="M306,183Q308,181 310,179" stroke="#b0b0b0"/><path d="M305,111Q306,114 306,118" stroke="#cbcbcb"/><path d="M341,134Q344,132 343,127" stroke="#b5b5b5"/><path d="M315,79Q320,78 319,73" stroke="#dcdcdc"/><path d="M248,116Q242,118 241,119" stroke="#d4d4d4"/><path d="M306,88Q304,85 299,87" stroke="#dfdfdf"/><path d="M279,110Q274,109 275,106" stroke="#b6b6b6"/><path d="M361,156Q362,159 367,161" stroke="#f0f0f0"/><path d="M320,139Q317,132 319,129" stroke="#b2b2b2"/><path d="M315,117Q318,114 320,116" stroke="#c6c6c6"/><path d="M345,188Q339,186 335,185" stroke="#f2f2f2"/><path d="M373,146Q377,150 381,149" stroke="#e1e1e1"/><path d="M315,115Q314,116 308,113" stroke="#bebebe"/><path d="M366,145Q361,145 358,144" stroke="#d1d1d1"/><path d="M287,74Q288,77 291,76" stroke="#dadada"/><path d="M324,152Q323,148 325,145" stroke="#bbbbbb"/><path d="M353,98Q352,93 355,93" stroke="#ececec"/><path d="M246,177Q239,178 237,176" stroke="#e7e7e7"/><path d="M253,111Q253,109 248,110" stroke="#e7e7e7"/><path d="M324,185Q326,188 330,193" stroke="#cccccc"/><path d="M368,128Q363,131 362,131" stroke="#cacaca"/><path d="M273,147Q272,150 274,156" stroke="#d7d7d7"/><path d="M257,92Q253,92 253,90" stroke="#dddddd"/><path d="M365,127Q370,125 374,123" stroke="#d8d8d8"/><path d="M329,104Q327,103 327,99" stroke="#c6c6c6"/><path d="M253,129Q249,131 248,136" stroke="#e5e5e5"/><path d="M351,80Q347,83 345,88" stroke="#d0d0d0"/><path d="M336,84Q333,88 334,88" stroke="#e3e3e3"/><path d="M262,79Q263,80 267,85" stroke="#f3f3f3"/><path d="M251,132Q253,128 253,127" stroke="#e7e7e7"/><path d="M283,199Q283,198 281,192" stroke="#e7e7e7"/><path d="M327,193Q327,196 328,201" stroke="#f2f2f2"/><path d="M323,129Q322,125 316,124" stroke="#dddddd"/><path d="M335,80Q332,75 332,72" stroke="#d8d8d8"/><path d="M248,154Q247,155 241,155" stroke="#e1e1e1"/><path d="M322,190Q322,186 323,185" stroke="#e8e8e8"/><path d="M343,130Q345,131 346,135" stroke="#c9c9c9"/><path d="M338,187Q340,190 342,189" stroke="#c9c9c9"/><path d="M310,109Q311,109 308,112" stroke="#bababa"/><path d="M351,79Q351,83 349,88" stroke="#e1e1e1"/><path d="M342,109Q345,113 350,112" stroke="#dedede"/><path d="M319,69Q322,64 323,64" stroke="#f4f4f4"/><path d="M355,195Q355,200 359,202" stroke="#c8c8c8"/><path d="M325,76Q325,78 322,85" stroke="#d1d1d1"/><path d="M328,139Q328,142 331,146" stroke="#d8d8d8"/><path d="M291,170Q285,175 284,174" stroke="#afafaf"/><path d="M235,164Q237,162 239,163" stroke="#e3e3e3"/><path d="M278,90Q275,85 273,83" stroke="#f1f1f1"/><path d="M343,96Q342,100 336,102" stroke="#dfdfdf"/><path d="M286,202Q291,200 290,197" stroke="#d6d6d6"/><path d="M270,75Q270,80 273,81" stroke="#e1e1e1"/><path d="M308,117Q307,111 309,110" stroke="#b7b7b7"/><path d="M350,103Q350,103 345,108" stroke="#e6e6e6"/><path d="M353,115Q355,113 357,114" stroke="#cbcbcb"/><path d="M314,62Q315,61 314,58" stroke="#f5f5f5"/><path d="M288,132Q289,132 295,127" stroke="#d3d3d3"/><path d="M234,152Q239,151 242,147" stroke="#e5e5e5"/><path d="M263,116Q261,118 258,123" stroke="#dbdbdb"/><path d="M343,92Q341,95 343,100" stroke="#cbcbcb"/><path d="M288,188Q287,186 284,188" stroke="#d8d8d8"/><path d="M307,160Q303,164 300,164" stroke="#dbdbdb"/><path d="M339,196Q339,194 339,190" stroke="#d4d4d4"/><path d="M336,140Q337,138 338,134" stroke="#bababa"/><path d="M292,180Q289,182 286,186" stroke="#dfdfdf"/><path d="M229,129Q229,128 223,127" stroke="#f3f3f3"/><path d="M253,98Q250,94 248,90" stroke="#f5f5f5"/><path d="M326,198Q326,201 327,201" stroke="#dcdcdc"/><path d="M270,184Q270,183 272,180" stroke="#d4d4d4"/><path d="M231,124Q235,124 236,125" stroke="#e3e3e3"/><path d="M319,88Q318,89 318,93" stroke="#dcdcdc"/><path d="M282,188Q284,188 286,186" stroke="#d4d4d4"/><path d="M266,161Q268,163 271,163" stroke="#bfbfbf"/><path d="M309,185Q310,185 313,186" stroke="#d5d5d5"/><path d="M310,209Q308,205 309,205" stroke="#d4d4d4"/><path d="M360,107Q354,108 351,107" stroke="#e4e4e4"/><path d="M244,131Q242,129 238,127" stroke="#ececec"/><path d="M280,203Q281,206 281,207" stroke="#cccccc"/><path d="M255,108Q256,108 254,104" stroke="#d3d3d3"/><path d="M354,122Q353,120 349,116" stroke="#d7d7d7"/><path d="M269,197Q267,201 265,201" stroke="#f4f4f4"/><path d="M254,156Q260,154 262,151" stroke="#dfdfdf"/><path d="M333,163Q334,169 332,171" stroke="#bdbdbd"/><path d="M282,154Q284,158 285,161" stroke="#c5c5c5"/><path d="M279,168Q278,171 273,170" stroke="#bbbbbb"/><path d="M251,134Q249,135 250,140" stroke="#dbdbdb"/><path d="M264,185Q265,182 270,182" stroke="#cdcdcd"/><path d="M281,199Q278,203 280,204" stroke="#d8d8d8"/><path d="M359,105Q356,104 351,107" stroke="#e1e1e1"/><path d="M279,118Q280,122 276,125" stroke="#bcbcbc"/><path d="M365,150Q360,147 356,148" stroke="#dadada"/><path d="M336,78Q336,76 340,74" stroke="#c8c8c8"/><path d="M328,94Q327,93 326,88" stroke="#dadada"/><path d="M324,197Q324,197 320,193" stroke="#cfcfcf"/><path d="M340,152Q335,156 333,159" stroke="#b3b3b3"/><path d="M349,125Q344,127 343,133" stroke="#cdcdcd"/><path d="M257,188Q258,190 256,195" stroke="#dcdcdc"/><path d="M338,94Q339,94 343,96" stroke="#dcdcdc"/><path d="M331,176Q332,179 335,177" stroke="#d9d9d9"/><path d="M314,101Q314,97 312,97" stroke="#e1e1e1"/><path d="M336,90Q340,88 344,85" stroke="#dedede"/><path d="M278,178Q273,178 272,174" stroke="#d9d9d9"/><path d="M269,155Q272,154 275,153" stroke="#bababa"/><path d="M337,86Q332,87 332,90" stroke="#ececec"/><path d="M320,169Q323,168 324,171" stroke="#cccccc"/><path d="M354,123Q356,123 358,125" stroke="#d3d3d3"/><path d="M249,176Q245,179 243,184" stroke="#d1d1d1"/><path d="M369,166Q374,168 376,171" stroke="#f4f4f4"/><path d="M257,181Q260,174 259,171" stroke="#e7e7e7"/><path d="M245,138Q242,141 241,140" stroke="#dbdbdb"/><path d="M292,62Q290,55 290,53" stroke="#cbcbcb"/><path d="M282,73Q282,80 280,82" stroke="#ebebeb"/><path d="M254,97Q256,97 261,100" stroke="#cecece"/><path d="M324,120Q327,119 328,117" stroke="#bebebe"/><path d="M303,84Q306,85 308,85" stroke="#dddddd"/><path d="M353,182Q355,185 359,185" stroke="#e2e2e2"/><path d="M259,186Q255,186 256,191" stroke="#eaeaea"/><path d="M345,151Q349,148 349,150" stroke="#dbdbdb"/><path d="M243,119Q240,119 238,122" stroke="#f3f3f3"/><path d="M285,187Q282,184 280,184" stroke="#dadada"/><path d="M262,159Q265,156 265,154" stroke="#b6b6b6"/><path d="M258,184Q259,185 260,180" stroke="#e3e3e3"/><path d="M283,96Q284,100 288,102" stroke="#d5d5d5"/><path d="M324,78Q322,74 326,72" stroke="#c8c8c8"/><path d="M257,149Q262,145 263,145" stroke="#c7c7c7"/><path d="M293,128Q295,129 298,131" stroke="#dedede"/><path d="M342,117Q347,115 350,117" stroke="#c7c7c7"/><path d="M241,118Q238,118 236,120" stroke="#cdcdcd"/><path d="M247,128Q243,127 243,129" stroke="#cacaca"/><path d="M351,125Q350,123 346,125" stroke="#c2c2c2"/><path d="M252,87Q251,84 248,85" stroke="#cdcdcd"/><path d="M335,122Q335,119 339,119" stroke="#cbcbcb"/><path d="M327,89Q326,87 325,83" stroke="#f4f4f4"/><path d="M337,195Q338,198 340,199" stroke="#cacaca"/><path d="M360,116Q362,118 368,116" stroke="#d1d1d1"/><path d="M376,119Q375,121 373,123" stroke="#cdcdcd"/><path d="M274,149Q272,147 268,147" stroke="#d2d2d2"/><path d="M284,74Q283,77 288,82" stroke="#d4d4d4"/><path d="M364,170Q366,171 372,174" stroke="#d1d1d1"/><path d="M299,93Q299,95 295,96" stroke="#cfcfcf"/><path d="M273,114Q277,112 279,106" stroke="#b2b2b2"/><path d="M289,150Q288,144 290,140" stroke="#c7c7c7"/><path d="M305,184Q309,185 314,183" stroke="#e1e1e1"/><path d="M350,76Q351,82 351,84" stroke="#ededed"/><path d="M259,180Q257,182 259,189" stroke="#dcdcdc"/><path d="M331,134Q334,137 338,136" stroke="#dfdfdf"/><path d="M322,186Q322,188 317,187" stroke="#dadada"/><path d="M261,115Q257,115 257,118" stroke="#b4b4b4"/><path d="M259,194Q263,191 264,190" stroke="#ebebeb"/><path d="M255,185Q255,187 251,188" stroke="#f3f3f3"/><path d="M267,90Q267,94 267,96" stroke="#d3d3d3"/><path d="M259,108Q261,113 262,115" stroke="#dddddd"/><path d="M287,89Q286,87 281,88" stroke="#d3d3d3"/><path d="M265,138Q265,140 263,146" stroke="#d0d0d0"/><path d="M365,90Q368,88 367,87" stroke="#d7d7d7"/><path d="M370,150Q370,151 374,156" stroke="#ebebeb"/><path d="M332,107Q329,108 328,113" stroke="#bbbbbb"/><path d="M354,178Q351,177 346,173" stroke="#c9c9c9"/><path d="M350,136Q347,131 350,130" stroke="#dbdbdb"/><path d="M234,119Q239,116 242,116" stroke="#ececec"/><path d="M328,84Q329,85 335,81" stroke="#eeeeee"/><path d="M295,94Q292,94 290,94" stroke="#b4b4b4"/><path d="M360,131Q362,129 366,130" stroke="#f0f0f0"/><path d="M323,158Q328,157 330,152" stroke="#c8c8c8"/><path d="M356,170Q356,167 355,166" stroke="#d2d2d2"/><path d="M318,196Q317,196 318,201" stroke="#d4d4d4"/><path d="M281,182Q282,184 285,183" stroke="#e7e7e7"/><path d="M278,139Q282,144 283,146" stroke="#bebebe"/><path d="M236,144Q242,144 243,145" stroke="#f1f1f1"/><path d="M380,125Q381,122 385,123" stroke="#dddddd"/><path d="M336,206Q342,206 343,211" stroke="#ededed"/><path d="M355,113Q357,115 363,113" stroke="#f4f4f4"/><path d="M292,78Q295,75 295,73" stroke="#e0e0e0"/><path d="M366,124Q370,123 374,123" stroke="#d5d5d5"/><path d="M335,107Q331,108 332,112" stroke="#c0c0c0"/><path d="M360,154Q360,155 363,157" stroke="#eeeeee"/><path d="M277,206Q280,209 278,216" stroke="#f5f5f5"/><path d="M326,175Q326,181 326,183" stroke="#bbbbbb"/><path d="M277,74Q278,80 282,82" stroke="#e5e5e5"/><path d="M315,168Q316,162 320,160" stroke="#dddddd"/><path d="M360,92Q357,95 359,98" stroke="#e8e8e8"/><path d="M242,93Q238,92 234,90" stroke="#dddddd"/><path d="M229,141Q225,138 221,136" stroke="#f4f4f4"/><path d="M326,151Q326,148 332,148" stroke="#d8d8d8"/><path d="M306,213Q306,209 306,207" stroke="#dbdbdb"/><path d="M305,96Q302,99 301,100" stroke="#c2c2c2"/><path d="M261,143Q258,140 257,140" stroke="#bebebe"/><path d="M307,118Q308,113 308,112" stroke="#bebebe"/><path d="M279,80Q277,75 277,76" stroke="#e3e3e3"/><path d="M344,101Q348,100 348,95" stroke="#dddddd"/><path d="M278,73Q279,70 278,69" stroke="#e2e2e2"/><path d="M353,113Q356,109 355,104" stroke="#e7e7e7"/><path d="M320,71Q320,65 316,63" stroke="#dadada"/><path d="M337,173Q332,172 332,175" stroke="#cccccc"/><path d="M361,178Q361,179 356,175" stroke="#cfcfcf"/><path d="M293,84Q294,82 292,77" stroke="#e1e1e1"/><path d="M354,145Q356,150 361,151" stroke="#c4c4c4"/><path d="M376,146Q374,144 369,140" stroke="#e8e8e8"/><path d="M269,77Q270,73 270,71" stroke="#cacaca"/><path d="M242,118Q238,116 235,111" stroke="#e6e6e6"/><path d="M234,142Q239,143 243,139" stroke="#eeeeee"/><path d="M252,125Q253,130 250,132" stroke="#c9c9c9"/><path d="M293,77Q289,77 286,72" stroke="#e7e7e7"/><path d="M279,77Q283,79 282,81" stroke="#cecece"/><path d="M376,149Q374,149 371,153" stroke="#e3e3e3"/><path d="M242,116Q242,116 239,113" stroke="#eaeaea"/><path d="M346,104Q349,103 352,102" stroke="#e1e1e1"/><path d="M258,120Q253,119 252,117" stroke="#b2b2b2"/><path d="M367,143Q371,143 372,146" stroke="#e6e6e6"/><path d="M286,117Q285,120 286,122" stroke="#bababa"/><path d="M281,102Q284,97 282,94" stroke="#c8c8c8"/><path d="M309,206Q308,207 309,211" stroke="#cbcbcb"/><path d="M298,186Q298,183 299,178" stroke="#c8c8c8"/><path d="M329,205Q329,210 332,214" stroke="#f5f5f5"/><path d="M312,95Q307,98 307,101" stroke="#d8d8d8"/><path d="M356,181Q351,180 349,179" stroke="#d2d2d2"/><path d="M318,175Q319,175 318,179" stroke="#d1d1d1"/><path d="M290,108Q290,105 294,103" stroke="#d6d6d6"/><path d="M369,152Q367,152 360,148" stroke="#e2e2e2"/><path d="M242,180Q244,178 248,181" stroke="#dadada"/><path d="M356,136Q361,137 364,134" stroke="#ededed"/><path d="M337,125Q336,123 332,124" stroke="#b6b6b6"/><path d="M368,150Q369,150 373,147" stroke="#d7d7d7"/><path d="M317,206Q314,211 316,215" stroke="#d6d6d6"/><path d="M279,179Q284,179 287,178" stroke="#d8d8d8"/><path d="M348,200Q348,196 345,191" stroke="#dcdcdc"/><path d="M272,130Q274,130 277,130" stroke="#bcbcbc"/><path d="M328,148Q333,151 333,151" stroke="#b1b1b1"/><path d="M349,126Q353,128 354,126" stroke="#c2c2c2"/><path d="M313,186Q311,182 307,182" stroke="#b0b0b0"/><path d="M364,112Q361,114 355,115" stroke="#efefef"/><path d="M362,153Q364,158 369,158" stroke="#c9c9c9"/><path d="M332,153Q328,157 326,157" stroke="#b2b2b2"/><path d="M286,112Q283,111 282,114" stroke="#d1d1d1"/><path d="M265,163Q261,165 261,161" stroke="#c2c2c2"/><path d="M259,84Q261,88 259,89" stroke="#dcdcdc"/><path d="M316,182Q318,176 320,176" stroke="#bdbdbd"/><path d="M271,167Q269,165 271,161" stroke="#b1b1b1"/><path d="M342,184Q344,186 346,190" stroke="#d4d4d4"/><path d="M315,69Q311,71 312,72" stroke="#cacaca"/><path d="M326,65Q323,65 321,68" stroke="#d1d1d1"/><path d="M247,146Q251,146 256,150" stroke="#d9d9d9"/><path d="M246,170Q250,165 251,163" stroke="#d3d3d3"/><path d="M367,158Q364,158 363,153" stroke="#e6e6e6"/><path d="M363,104Q364,106 361,108" stroke="#ececec"/><path d="M268,99Q268,100 270,104" stroke="#ededed"/><path d="M332,87Q329,90 325,93" stroke="#dfdfdf"/><path d="M271,198Q269,203 265,205" stroke="#dfdfdf"/><path d="M276,145Q280,147 285,146" stroke="#e0e0e0"/><path d="M304,176Q300,173 300,174" stroke="#c2c2c2"/><path d="M312,64Q311,61 310,55" stroke="#e6e6e6"/><path d="M324,72Q323,67 324,63" stroke="#c8c8c8"/><path d="M319,208Q316,210 316,213" stroke="#e1e1e1"/><path d="M257,107Q255,104 253,104" stroke="#d3d3d3"/><path d="M319,126Q318,123 318,122" stroke="#c9c9c9"/><path d="M287,185Q290,183 293,180" stroke="#d3d3d3"/><path d="M290,103Q290,102 287,99" stroke="#cacaca"/><path d="M302,162Q298,164 298,160" stroke="#dddddd"/><path d="M331,135Q332,136 337,140" stroke="#dcdcdc"/><path d="M297,187Q292,187 290,190" stroke="#c9c9c9"/><path d="M272,75Q276,79 277,83" stroke="#d6d6d6"/><path d="M287,127Q282,127 279,125" stroke="#dddddd"/><path d="M256,127Q255,127 252,127" stroke="#cecece"/><path d="M305,69Q304,72 305,74" stroke="#cbcbcb"/><path d="M305,94Q312,94 314,94" stroke="#cfcfcf"/><path d="M263,190Q269,189 272,187" stroke="#dddddd"/><path d="M300,158Q300,153 304,149" stroke="#b1b1b1"/><path d="M266,102Q270,103 271,104" stroke="#f2f2f2"/><path d="M300,132Q297,134 296,139" stroke="#cfcfcf"/><path d="M276,195Q273,198 274,200" stroke="#f4f4f4"/><path d="M276,113Q273,111 270,111" stroke="#dedede"/><path d="M318,153Q314,152 314,155" stroke="#dbdbdb"/><path d="M336,122Q331,119 327,121" stroke="#b2b2b2"/><path d="M267,82Q270,87 271,87" stroke="#ececec"/><path d="M253,167Q252,169 248,170" stroke="#d7d7d7"/><path d="M299,209Q298,205 299,199" stroke="#e8e8e8"/><path d="M345,102Q343,102 339,106" stroke="#d3d3d3"/><path d="M323,106Q323,110 323,115" stroke="#c5c5c5"/><path d="M355,99Q354,96 359,93" stroke="#f4f4f4"/><path d="M294,183Q298,181 301,184" stroke="#b4b4b4"/><path d="M328,88Q326,87 320,85" stroke="#e9e9e9"/><path d="M340,180Q339,179 337,177" stroke="#eeeeee"/><path d="M356,86Q353,91 352,92" stroke="#c8c8c8"/><path d="M365,89Q365,87 367,83" stroke="#e1e1e1"/><path d="M345,155Q346,151 352,151" stroke="#cccccc"/><path d="M235,164Q234,163 231,167" stroke="#d8d8d8"/><path d="M279,169Q278,163 278,161" stroke="#c3c3c3"/><path d="M293,63Q293,63 290,59" stroke="#f3f3f3"/><path d="M314,73Q315,79 319,80" stroke="#d7d7d7"/><path d="M231,125Q228,121 226,121" stroke="#dfdfdf"/><path d="M321,73Q322,74 319,77" stroke="#dfdfdf"/><path d="M337,69Q342,66 342,66" stroke="#d3d3d3"/><path d="M330,195Q331,191 328,188" stroke="#f4f4f4"/><path d="M324,87Q325,84 322,83" stroke="#d4d4d4"/><path d="M253,177Q248,177 247,180" stroke="#cbcbcb"/><path d="M246,181Q241,181 237,183" stroke="#e9e9e9"/><path d="M261,86Q263,90 265,93" stroke="#e2e2e2"/><path d="M239,123Q237,121 232,123" stroke="#cdcdcd"/><path d="M305,61Q305,57 306,54" stroke="#dbdbdb"/><path d="M264,73Q264,71 263,66" stroke="#ebebeb"/><path d="M352,134Q349,132 347,130" stroke="#bebebe"/><path d="M253,112Q251,107 249,106" stroke="#eaeaea"/><path d="M274,190Q272,191 271,196" stroke="#c9c9c9"/><path d="M375,131Q375,129 379,127" stroke="#f3f3f3"/><path d="M331,178Q330,177 326,171" stroke="#d2d2d2"/><path d="M302,203Q303,197 304,194" stroke="#e3e3e3"/><path d="M272,69Q271,65 267,63" stroke="#d9d9d9"/><path d="M315,73Q316,68 317,64" stroke="#d5d5d5"/><path d="M277,102Q283,98 284,97" stroke="#dadada"/><path d="M317,72Q317,67 314,64" stroke="#ececec"/><path d="M300,212Q300,210 297,206" stroke="#eaeaea"/><path d="M274,165Q273,170 273,172" stroke="#bcbcbc"/><path d="M251,152Q255,151 261,151" stroke="#f4f4f4"/><path d="M353,182Q349,180 348,176" stroke="#d0d0d0"/><path d="M357,89Q361,85 363,83" stroke="#cdcdcd"/><path d="M294,185Q296,184 296,179" stroke="#c9c9c9"/><path d="M258,192Q258,192 254,193" stroke="#cccccc"/><path d="M321,194Q318,201 319,203" stroke="#cbcbcb"/><path d="M255,93Q258,95 260,101" stroke="#e2e2e2"/><path d="M243,174Q242,170 246,169" stroke="#d1d1d1"/><path d="M299,86Q302,86 301,81" stroke="#d9d9d9"/><path d="M351,95Q350,99 346,102" stroke="#cccccc"/><path d="M309,136Q307,134 306,133" stroke="#c6c6c6"/><path d="M320,82Q320,75 317,73" stroke="#ededed"/><path d="M264,82Q265,77 262,75" stroke="#dedede"/><path d="M275,75Q276,77 279,79" stroke="#d9d9d9"/><path d="M295,89Q290,89 288,90" stroke="#b3b3b3"/><path d="M271,166Q272,165 272,161" stroke="#c9c9c9"/><path d="M265,121Q266,124 270,128" stroke="#b2b2b2"/><path d="M315,152Q321,152 324,154" stroke="#c5c5c5"/><path d="M331,72Q330,70 329,63" stroke="#dfdfdf"/><path d="M268,84Q273,86 277,86" stroke="#d8d8d8"/><path d="M320,187Q323,193 326,194" stroke="#f2f2f2"/><path d="M335,82Q334,83 332,85" stroke="#d3d3d3"/><path d="M307,77Q304,82 305,84" stroke="#e0e0e0"/><path d="M263,141Q262,140 261,136" stroke="#dadada"/><path d="M292,156Q292,154 289,151" stroke="#b7b7b7"/><path d="M358,158Q357,157 352,157" stroke="#ebebeb"/><path d="M341,70Q338,71 335,75" stroke="#d4d4d4"/><path d="M372,174Q375,176 376,175" stroke="#e4e4e4"/><path d="M261,104Q258,107 258,113" stroke="#f2f2f2"/><path d="M249,138Q246,136 244,135" stroke="#cbcbcb"/><path d="M331,152Q329,150 330,148" stroke="#d7d7d7"/><path d="M305,178Q308,175 310,174" stroke="#cdcdcd"/><path d="M275,116Q277,115 274,112" stroke="#bcbcbc"/><path d="M326,95Q328,96 329,100" stroke="#d8d8d8"/><path d="M336,206Q338,209 339,208" stroke="#f5f5f5"/><path d="M363,181Q363,177 360,173" stroke="#dedede"/><path d="M349,150Q353,152 355,156" stroke="#d9d9d9"/><path d="M270,183Q271,186 269,190" stroke="#e1e1e1"/><path d="M338,191Q337,186 338,184" stroke="#cccccc"/><path d="M267,119Q269,116 276,117" stroke="#c7c7c7"/><path d="M256,110Q254,109 248,109" stroke="#e2e2e2"/><path d="M262,94Q263,92 268,95" stroke="#e4e4e4"/><path d="M351,176Q353,176 357,178" stroke="#d9d9d9"/><path d="M335,92Q333,92 331,91" stroke="#eaeaea"/><path d="M317,63Q319,60 318,55" stroke="#e0e0e0"/><path d="M259,131Q263,129 264,132" stroke="#b4b4b4"/><path d="M289,91Q289,94 288,97" stroke="#bdbdbd"/><path d="M253,180Q257,175 259,175" stroke="#cccccc"/><path d="M326,206Q323,205 325,199" stroke="#d3d3d3"/><path d="M366,140Q372,144 374,145" stroke="#d1d1d1"/><path d="M255,85Q249,82 248,79" stroke="#e6e6e6"/><path d="M329,102Q328,106 324,105" stroke="#b1b1b1"/><path d="M291,192Q292,189 294,185" stroke="#e7e7e7"/><path d="M284,105Q279,106 277,105" stroke="#b6b6b6"/><path d="M292,168Q293,162 293,158" stroke="#b7b7b7"/><path d="M299,113Q297,112 300,108" stroke="#e1e1e1"/><path d="M374,130Q375,131 378,132" stroke="#f0f0f0"/><path d="M310,89Q313,91 314,97" stroke="#dadada"/><path d="M357,85Q358,90 355,93" stroke="#cfcfcf"/><path d="M298,95Q299,97 296,100" stroke="#b2b2b2"/><path d="M277,92Q280,88 279,87" stroke="#cdcdcd"/><path d="M357,180Q358,174 355,171" stroke="#ededed"/><path d="M283,101Q280,102 277,107" stroke="#c6c6c6"/><path d="M255,182Q259,181 262,180" stroke="#f3f3f3"/><path d="M333,154Q332,157 327,157" stroke="#c0c0c0"/><path d="M311,127Q310,129 313,132" stroke="#bcbcbc"/><path d="M378,117Q380,114 383,112" stroke="#dcdcdc"/><path d="M245,144Q247,146 253,143" stroke="#c8c8c8"/><path d="M356,117Q358,116 359,119" stroke="#d2d2d2"/><path d="M336,135Q339,138 337,141" stroke="#bcbcbc"/><path d="M268,180Q265,180 266,184" stroke="#e1e1e1"/><path d="M289,164Q291,159 292,158" stroke="#cbcbcb"/><path d="M299,190Q301,194 302,194" stroke="#e6e6e6"/><path d="M305,176Q308,178 311,179" stroke="#b7b7b7"/><path d="M331,166Q329,167 329,170" stroke="#c3c3c3"/><path d="M367,113Q364,116 360,114" stroke="#f5f5f5"/><path d="M326,91Q328,89 328,86" stroke="#ececec"/><path d="M338,80Q342,78 344,77" stroke="#f3f3f3"/><path d="M256,119Q256,124 260,126" stroke="#cbcbcb"/><path d="M283,80Q284,75 282,72" stroke="#e9e9e9"/><path d="M257,195Q259,192 259,187" stroke="#e1e1e1"/><path d="M306,120Q300,118 298,119" stroke="#d0d0d0"/><path d="M242,116Q248,118 251,117" stroke="#d1d1d1"/><path d="M254,134Q252,136 246,134" stroke="#f5f5f5"/><path d="M291,96Q292,94 294,90" stroke="#c2c2c2"/><path d="M274,80Q273,76 274,74" stroke="#d8d8d8"/><path d="M341,167Q346,169 348,171" stroke="#cecece"/><path d="M307,109Q308,110 312,109" stroke="#bebebe"/><path d="M347,199Q343,197 343,193" stroke="#f0f0f0"/><path d="M293,63Q293,64 293,69" stroke="#d0d0d0"/><path d="M230,139Q233,141 234,142" stroke="#e3e3e3"/><path d="M360,100Q360,95 362,95" stroke="#d5d5d5"/><path d="M252,115Q256,116 257,122" stroke="#d1d1d1"/><path d="M329,205Q328,199 327,198" stroke="#dfdfdf"/><path d="M269,188Q271,185 270,182" stroke="#efefef"/><path d="M339,188Q341,188 340,192" stroke="#dbdbdb"/><path d="M236,109Q233,107 232,108" stroke="#d3d3d3"/><path d="M296,84Q298,89 297,92" stroke="#f5f5f5"/><path d="M367,125Q366,128 363,126" stroke="#e1e1e1"/><path d="M289,180Q285,180 284,182" stroke="#cecece"/><path d="M238,167Q234,173 234,175" stroke="#cdcdcd"/><path d="M327,197Q326,192 324,192" stroke="#cecece"/><path d="M255,79Q254,76 252,71" stroke="#dddddd"/><path d="M340,187Q344,188 345,193" stroke="#ececec"/><path d="M314,144Q315,142 317,136" stroke="#d7d7d7"/><path d="M374,162Q369,163 366,161" stroke="#dfdfdf"/><path d="M340,133Q346,135 350,134" stroke="#afafaf"/><path d="M358,132Q358,136 362,136" stroke="#f5f5f5"/><path d="M236,166Q236,166 240,165" stroke="#dadada"/><path d="M250,158Q253,155 257,155" stroke="#e2e2e2"/><path d="M231,123Q233,128 237,130" stroke="#d9d9d9"/><path d="M370,122Q371,118 376,118" stroke="#cacaca"/><path d="M305,179Q300,177 300,172" stroke="#c8c8c8"/><path d="M254,88Q250,86 249,86" stroke="#e1e1e1"/><path d="M375,127Q379,129 382,131" stroke="#eeeeee"/><path d="M248,164Q248,165 245,171" stroke="#e2e2e2"/><path d="M319,176Q321,175 322,171" stroke="#b0b0b0"/><path d="M345,182Q349,185 348,185" stroke="#dcdcdc"/><path d="M244,131Q248,131 250,133" stroke="#ebebeb"/><path d="M241,172Q242,170 245,164" stroke="#eeeeee"/><path d="M346,124Q347,128 352,129" stroke="#e0e0e0"/><path d="M319,96Q317,97 315,95" stroke="#bbbbbb"/><path d="M245,104Q246,102 252,103" stroke="#d3d3d3"/><path d="M242,140Q239,141 234,143" stroke="#d7d7d7"/><path d="M256,158Q254,155 252,156" stroke="#e8e8e8"/><path d="M313,106Q314,110 315,114" stroke="#c9c9c9"/><path d="M312,65Q314,61 313,56" stroke="#d4d4d4"/><path d="M231,155Q235,151 236,151" stroke="#f0f0f0"/><path d="M276,82Q278,85 281,85" stroke="#d6d6d6"/><path d="M299,170Q296,173 295,174" stroke="#cacaca"/><path d="M254,189Q257,186 260,185" stroke="#d3d3d3"/><path d="M344,138Q343,133 346,130" stroke="#b3b3b3"/><path d="M334,79Q336,78 338,73" stroke="#d1d1d1"/><path d="M372,140Q370,139 367,136" stroke="#dddddd"/><path d="M364,117Q358,116 357,114" stroke="#cacaca"/><path d="M256,137Q258,137 264,141" stroke="#b7b7b7"/><path d="M358,132Q354,138 353,140" stroke="#d3d3d3"/><path d="M349,148Q353,148 355,146" stroke="#cccccc"/><path d="M341,145Q337,149 337,149" stroke="#cccccc"/><path d="M238,154Q243,152 244,153" stroke="#ececec"/><path d="M301,197Q297,201 296,202" stroke="#cccccc"/><path d="M351,145Q353,148 352,151" stroke="#d4d4d4"/><path d="M327,122Q332,123 333,123" stroke="#bfbfbf"/><path d="M229,134Q234,136 234,136" stroke="#ececec"/><path d="M332,81Q330,77 332,74" stroke="#cecece"/><path d="M231,125Q227,123 226,121" stroke="#f3f3f3"/><path d="M311,162Q312,163 314,159" stroke="#d3d3d3"/><path d="M348,97Q346,102 342,104" stroke="#d2d2d2"/><path d="M284,68Q284,72 286,72" stroke="#cacaca"/><path d="M271,144Q275,146 276,146" stroke="#c1c1c1"/><path d="M365,124Q362,126 357,125" stroke="#cfcfcf"/><path d="M351,92Q353,91 353,85" stroke="#d5d5d5"/><path d="M365,182Q365,178 362,174" stroke="#f0f0f0"/><path d="M229,126Q233,125 233,124" stroke="#d8d8d8"/><path d="M279,207Q278,209 272,211" stroke="#d9d9d9"/><path d="M313,203Q311,204 311,208" stroke="#e8e8e8"/><path d="M350,188Q354,193 354,194" stroke="#efefef"/><path d="M273,178Q275,172 273,169" stroke="#eaeaea"/><path d="M264,110Q265,108 264,106" stroke="#dfdfdf"/><path d="M341,106Q341,108 339,111" stroke="#d1d1d1"/><path d="M280,107Q282,104 286,104" stroke="#c0c0c0"/><path d="M274,180Q279,182 283,181" stroke="#dcdcdc"/><path d="M368,116Q369,118 374,119" stroke="#e1e1e1"/><path d="M359,128Q358,125 355,119" stroke="#d8d8d8"/><path d="M237,112Q232,113 230,111" stroke="#eeeeee"/><path d="M268,95Q265,94 261,91" stroke="#c9c9c9"/><path d="M295,167Q298,165 303,164" stroke="#b4b4b4"/><path d="M232,121Q236,122 236,120" stroke="#e3e3e3"/><path d="M261,185Q254,184 252,186" stroke="#dcdcdc"/><path d="M268,76Q266,72 264,71" stroke="#d4d4d4"/><path d="M312,200Q318,203 319,207" stroke="#d7d7d7"/><path d="M258,152Q253,156 253,156" stroke="#c2c2c2"/><path d="M302,177Q301,179 298,180" stroke="#dadada"/><path d="M242,124Q246,122 248,121" stroke="#eaeaea"/><path d="M328,101Q324,101 323,100" stroke="#bbbbbb"/><path d="M378,129Q382,130 386,132" stroke="#dbdbdb"/><path d="M287,100Q291,98 296,99" stroke="#e0e0e0"/><path d="M339,131Q339,126 334,123" stroke="#c3c3c3"/><path d="M280,195Q280,193 278,189" stroke="#e7e7e7"/><path d="M293,98Q286,97 283,100" stroke="#d8d8d8"/><path d="M265,177Q261,182 259,184" stroke="#eeeeee"/><path d="M370,177Q373,182 372,183" stroke="#dedede"/><path d="M285,126Q282,126 280,125" stroke="#bdbdbd"/><path d="M339,168Q338,166 339,163" stroke="#d2d2d2"/><path d="M353,129Q348,132 346,131" stroke="#e0e0e0"/><path d="M298,198Q298,200 295,206" stroke="#d9d9d9"/><path d="M327,126Q324,128 323,132" stroke="#b9b9b9"/><path d="M240,176Q241,177 244,173" stroke="#dcdcdc"/><path d="M285,65Q283,65 282,63" stroke="#f1f1f1"/><path d="M347,133Q352,134 352,134" stroke="#dddddd"/><path d="M305,150Q308,150 310,145" stroke="#bebebe"/><path d="M259,83Q262,84 268,86" stroke="#d7d7d7"/><path d="M326,161Q324,157 320,155" stroke="#c8c8c8"/><path d="M303,213Q306,218 305,219" stroke="#eeeeee"/><path d="M336,203Q336,206 339,209" stroke="#dfdfdf"/><path d="M281,163Q287,161 288,162" stroke="#b6b6b6"/><path d="M359,86Q362,86 365,86" stroke="#ebebeb"/><path d="M288,186Q290,180 289,179" stroke="#dcdcdc"/><path d="M326,190Q321,185 319,185" stroke="#e4e4e4"/><path d="M287,210Q288,205 289,203" stroke="#cacaca"/><path d="M292,195Q294,193 292,189" stroke="#d3d3d3"/><path d="M232,121Q234,123 236,122" stroke="#dedede"/><path d="M255,160Q254,161 252,158" stroke="#d0d0d0"/><path d="M247,122Q245,123 239,119" stroke="#cacaca"/><path d="M341,133Q342,136 339,138" stroke="#d2d2d2"/><path d="M264,85Q264,87 265,91" stroke="#d7d7d7"/><path d="M330,138Q327,143 329,145" stroke="#afafaf"/><path d="M268,194Q271,189 275,187" stroke="#d6d6d6"/><path d="M330,185Q325,187 325,185" stroke="#cdcdcd"/><path d="M328,70Q330,73 328,76" stroke="#f3f3f3"/><path d="M244,159Q248,158 253,162" stroke="#e2e2e2"/><path d="M248,104Q247,102 242,97" stroke="#d8d8d8"/><path d="M346,151Q348,154 351,152" stroke="#b2b2b2"/><path d="M318,167Q324,169 326,172" stroke="#cccccc"/><path d="M356,165Q357,164 362,168" stroke="#e2e2e2"/><path d="M275,193Q278,190 279,187" stroke="#e1e1e1"/><path d="M243,98Q243,98 247,98" stroke="#e5e5e5"/><path d="M293,163Q295,157 298,155" stroke="#bcbcbc"/><path d="M256,114Q256,115 251,115" stroke="#cbcbcb"/><path d="M329,120Q330,119 334,122" stroke="#c8c8c8"/><path d="M308,205Q308,203 306,199" stroke="#d4d4d4"/><path d="M270,70Q268,66 271,64" stroke="#cdcdcd"/><path d="M345,197Q345,200 348,205" stroke="#d6d6d6"/><path d="M362,89Q365,89 367,87" stroke="#dedede"/><path d="M287,84Q285,84 284,81" stroke="#e2e2e2"/><path d="M242,174Q237,176 235,178" stroke="#e4e4e4"/><path d="M295,167Q294,169 289,168" stroke="#c5c5c5"/><path d="M270,172Q272,177 270,178" stroke="#d4d4d4"/><path d="M308,177Q311,178 309,182" stroke="#d8d8d8"/><path d="M285,187Q280,183 279,184" stroke="#e9e9e9"/><path d="M279,137Q283,137 284,136" stroke="#d2d2d2"/><path d="M344,111Q346,105 345,102" stroke="#b2b2b2"/><path d="M248,120Q247,120 246,116" stroke="#d9d9d9"/><path d="M271,105Q273,101 272,95" stroke="#d8d8d8"/><path d="M283,205Q278,207 275,208" stroke="#c8c8c8"/><path d="M251,180Q250,179 249,183" stroke="#dadada"/><path d="M309,206Q307,208 304,213" stroke="#d0d0d0"/><path d="M318,210Q317,205 312,204" stroke="#e9e9e9"/><path d="M345,101Q345,104 346,107" stroke="#dcdcdc"/><path d="M310,186Q312,188 310,194" stroke="#c7c7c7"/><path d="M289,79Q288,76 285,74" stroke="#cfcfcf"/><path d="M329,204Q327,206 327,209" stroke="#f2f2f2"/><path d="M330,184Q329,184 325,189" stroke="#d6d6d6"/><path d="M252,174Q249,176 248,175" stroke="#d7d7d7"/><path d="M344,141Q340,139 338,135" stroke="#cbcbcb"/><path d="M326,86Q328,81 326,80" stroke="#e2e2e2"/><path d="M368,106Q362,104 360,105" stroke="#d9d9d9"/><path d="M334,163Q337,165 341,162" stroke="#d1d1d1"/><path d="M379,142Q376,144 370,144" stroke="#f0f0f0"/><path d="M253,152Q253,150 255,146" stroke="#e4e4e4"/><path d="M346,165Q350,165 353,166" stroke="#c9c9c9"/><path d="M349,150Q351,149 357,150" stroke="#b3b3b3"/><path d="M297,202Q295,206 296,206" stroke="#e0e0e0"/><path d="M300,128Q304,131 307,135" stroke="#dedede"/><path d="M279,197Q278,199 272,200" stroke="#ececec"/><path d="M306,209Q309,211 312,215" stroke="#e1e1e1"/><path d="M338,155Q335,158 332,163" stroke="#bdbdbd"/><path d="M250,170Q254,165 255,164" stroke="#e3e3e3"/><path d="M320,96Q321,95 326,93" stroke="#dedede"/><path d="M257,123Q257,120 258,117" stroke="#c9c9c9"/><path d="M260,158Q257,155 255,153" stroke="#d1d1d1"/><path d="M345,192Q343,185 344,182" stroke="#d9d9d9"/><path d="M288,99Q289,99 292,97" stroke="#d8d8d8"/><path d="M320,81Q319,83 313,87" stroke="#f4f4f4"/><path d="M286,100Q282,100 277,96" stroke="#c4c4c4"/><path d="M299,150Q292,151 290,153" stroke="#dfdfdf"/><path d="M281,118Q282,118 282,122" stroke="#c0c0c0"/><path d="M338,154Q336,154 333,154" stroke="#c5c5c5"/><path d="M284,163Q285,169 287,170" stroke="#bdbdbd"/><path d="M314,97Q314,93 316,87" stroke="#d0d0d0"/><path d="M254,154Q258,156 263,159" stroke="#d0d0d0"/><path d="M284,198Q284,195 284,194" stroke="#d0d0d0"/><path d="M328,73Q331,76 330,78" stroke="#cccccc"/><path d="M335,129Q338,128 338,125" stroke="#c0c0c0"/><path d="M295,180Q293,179 289,180" stroke="#c7c7c7"/><path d="M261,109Q265,111 267,108" stroke="#e4e4e4"/><path d="M328,174Q332,172 336,171" stroke="#b6b6b6"/><path d="M281,202Q280,196 279,195" stroke="#ececec"/><path d="M279,182Q277,180 279,173" stroke="#d4d4d4"/><path d="M343,146Q341,144 337,146" stroke="#d0d0d0"/><path d="M326,202Q323,198 324,193" stroke="#e5e5e5"/><path d="M281,67Q284,71 286,75" stroke="#f5f5f5"/><path d="M320,76Q316,79 316,81" stroke="#f4f4f4"/><path d="M239,142Q236,141 235,142" stroke="#f3f3f3"/><path d="M343,131Q343,135 342,136" stroke="#bfbfbf"/><path d="M276,105Q274,109 271,109" stroke="#c0c0c0"/><path d="M379,156Q373,154 369,156" stroke="#e1e1e1"/><path d="M262,164Q259,161 258,160" stroke="#e3e3e3"/><path d="M270,79Q267,77 268,75" stroke="#e9e9e9"/><path d="M316,205Q314,209 315,210" stroke="#d6d6d6"/><path d="M262,83Q264,81 266,83" stroke="#d8d8d8"/><path d="M345,117Q343,119 340,119" stroke="#d0d0d0"/><path d="M278,72Q280,72 282,76" stroke="#eeeeee"/><path d="M268,79Q266,76 263,74" stroke="#e5e5e5"/><path d="M264,93Q260,91 259,84" stroke="#dadada"/><path d="M345,140Q344,133 342,131" stroke="#cdcdcd"/><path d="M275,103Q273,105 270,104" stroke="#d7d7d7"/><path d="M374,107Q368,106 365,107" stroke="#c8c8c8"/><path d="M339,185Q338,185 341,191" stroke="#ededed"/><path d="M251,107Q252,104 249,98" stroke="#dedede"/><path d="M299,175Q300,171 303,169" stroke="#bfbfbf"/><path d="M364,134Q368,133 373,133" stroke="#ececec"/><path d="M283,66Q284,62 280,61" stroke="#d3d3d3"/><path d="M337,195Q341,199 346,198" stroke="#e0e0e0"/><path d="M310,192Q310,197 314,199" stroke="#f0f0f0"/><path d="M283,203Q284,208 283,213" stroke="#dedede"/><path d="M346,139Q342,137 340,139" stroke="#e1e1e1"/><path d="M354,165Q356,169 356,174" stroke="#e7e7e7"/><path d="M230,120Q226,119 225,118" stroke="#f4f4f4"/><path d="M259,79Q255,76 255,78" stroke="#e1e1e1"/><path d="M371,146Q365,147 362,150" stroke="#f5f5f5"/><path d="M346,116Q349,120 350,123" stroke="#c6c6c6"/><path d="M279,159Q272,164 270,164" stroke="#c4c4c4"/><path d="M271,199Q268,201 265,204" stroke="#eaeaea"/><path d="M257,142Q262,143 262,142" stroke="#bababa"/><path d="M258,178Q260,174 262,172" stroke="#f2f2f2"/><path d="M367,96Q363,100 363,100" stroke="#e3e3e3"/><path d="M301,192Q304,191 305,188" stroke="#f2f2f2"/><path d="M377,151Q371,149 369,149" stroke="#e7e7e7"/><path d="M331,192Q335,195 335,198" stroke="#d3d3d3"/><path d="M273,129Q273,131 273,137" stroke="#afafaf"/><path d="M348,99Q349,96 356,98" stroke="#e8e8e8"/><path d="M366,116Q368,116 371,116" stroke="#dcdcdc"/><path d="M342,128Q344,130 351,131" stroke="#afafaf"/><path d="M260,132Q257,129 254,130" stroke="#d6d6d6"/><path d="M375,114Q371,115 365,115" stroke="#cdcdcd"/><path d="M328,206Q329,206 329,211" stroke="#cfcfcf"/><path d="M368,126Q363,128 361,125" stroke="#f5f5f5"/><path d="M304,207Q304,209 301,210" stroke="#e0e0e0"/><path d="M267,115Q272,115 275,120" stroke="#cacaca"/><path d="M372,112Q375,114 377,112" stroke="#c9c9c9"/><path d="M286,113Q282,112 278,114" stroke="#bdbdbd"/><path d="M303,201Q301,195 301,193" stroke="#cacaca"/><path d="M255,132Q258,136 256,140" stroke="#d6d6d6"/><path d="M318,98Q313,96 311,93" stroke="#cfcfcf"/><path d="M251,172Q255,169 256,171" stroke="#e8e8e8"/><path d="M245,144Q244,144 240,148" stroke="#dadada"/><path d="M260,145Q264,145 263,141" stroke="#b6b6b6"/><path d="M255,79Q256,82 256,84" stroke="#d0d0d0"/><path d="M296,176Q295,180 293,181" stroke="#b8b8b8"/><path d="M326,111Q328,107 327,106" stroke="#dbdbdb"/><path d="M285,157Q282,155 280,155" stroke="#d5d5d5"/><path d="M293,86Q288,89 288,92" stroke="#e1e1e1"/><path d="M240,135Q238,134 236,134" stroke="#e8e8e8"/><path d="M360,119Q357,120 355,125" stroke="#eaeaea"/><path d="M304,200Q304,205 302,207" stroke="#cecece"/><path d="M249,183Q253,181 253,180" stroke="#eeeeee"/><path d="M287,146Q286,149 291,151" stroke="#afafaf"/><path d="M260,193Q255,194 251,194" stroke="#f3f3f3"/><path d="M278,182Q280,180 281,175" stroke="#dbdbdb"/><path d="M343,130Q343,126 338,123" stroke="#dddddd"/><path d="M240,173Q243,174 249,174" stroke="#f5f5f5"/><path d="M233,140Q231,138 228,136" stroke="#d3d3d3"/><path d="M256,160Q257,163 253,164" stroke="#e4e4e4"/><path d="M283,176Q284,172 285,167" stroke="#d6d6d6"/><path d="M347,99Q353,96 354,95" stroke="#cccccc"/><path d="M297,72Q302,72 302,78" stroke="#cecece"/><path d="M297,102Q292,100 289,95" stroke="#cacaca"/><path d="M343,188Q347,192 347,193" stroke="#f5f5f5"/><path d="M292,99Q287,105 286,107" stroke="#dedede"/><path d="M344,160Q342,162 335,159" stroke="#d6d6d6"/><path d="M266,92Q265,96 269,96" stroke="#d5d5d5"/><path d="M254,186Q253,188 249,188" stroke="#dbdbdb"/><path d="M237,118Q242,116 246,118" stroke="#e5e5e5"/><path d="M251,150Q255,147 257,143" stroke="#e9e9e9"/><path d="M371,167Q373,170 378,169" stroke="#ebebeb"/><path d="M312,104Q306,107 306,108" stroke="#b9b9b9"/><path d="M271,72Q268,76 270,77" stroke="#e5e5e5"/><path d="M284,87Q288,86 291,87" stroke="#d1d1d1"/><path d="M357,161Q361,164 360,166" stroke="#e5e5e5"/><path d="M300,159Q303,154 300,153" stroke="#d6d6d6"/><path d="M339,181Q341,181 347,184" stroke="#dedede"/><path d="M309,130Q313,127 314,126" stroke="#bdbdbd"/><path d="M349,88Q347,89 342,94" stroke="#d4d4d4"/><path d="M325,205Q324,210 325,210" stroke="#dfdfdf"/><path d="M264,186Q263,188 262,193" stroke="#d6d6d6"/><path d="M267,80Q268,76 267,70" stroke="#cecece"/><path d="M270,187Q266,189 265,193" stroke="#f0f0f0"/><path d="M308,204Q308,208 302,213" stroke="#dfdfdf"/><path d="M247,166Q245,162 240,164" stroke="#d9d9d9"/><path d="M259,199Q260,204 260,207" stroke="#dbdbdb"/><path d="M254,144Q253,143 248,148" stroke="#dbdbdb"/><path d="M241,110Q239,108 237,111" stroke="#e6e6e6"/><path d="M277,191Q276,195 271,195" stroke="#e6e6e6"/><path d="M320,190Q321,195 321,195" stroke="#eaeaea"/><path d="M312,154Q310,154 308,151" stroke="#cfcfcf"/><path d="M273,121Q270,120 266,122" stroke="#bbbbbb"/><path d="M271,148Q275,144 276,143" stroke="#dfdfdf"/><path d="M261,129Q263,131 264,132" stroke="#d6d6d6"/><path d="M373,123Q375,122 380,124" stroke="#ebebeb"/><path d="M360,169Q362,168 365,170" stroke="#d0d0d0"/><path d="M367,114Q371,113 375,113" stroke="#f1f1f1"/><path d="M303,199Q309,203 309,205" stroke="#d0d0d0"/><path d="M285,73Q285,77 281,82" stroke="#e1e1e1"/><path d="M342,130Q340,132 337,135" stroke="#bfbfbf"/><path d="M287,68Q288,70 289,74" stroke="#e6e6e6"/><path d="M328,191Q327,188 322,186" stroke="#e3e3e3"/><path d="M275,195Q278,193 283,191" stroke="#d1d1d1"/><path d="M310,201Q307,207 306,209" stroke="#d3d3d3"/><path d="M318,84Q323,79 322,80" stroke="#d6d6d6"/><path d="M233,129Q236,126 240,125" stroke="#eeeeee"/><path d="M281,173Q283,172 287,175" stroke="#bfbfbf"/><path d="M333,205Q335,210 337,210" stroke="#e0e0e0"/><path d="M322,166Q318,169 316,170" stroke="#b8b8b8"/><path d="M379,125Q379,124 384,123" stroke="#f3f3f3"/><path d="M375,137Q378,138 379,136" stroke="#f4f4f4"/><path d="M351,75Q352,76 351,80" stroke="#cfcfcf"/><path d="M308,211Q306,209 308,205" stroke="#dadada"/><path d="M316,174Q317,175 320,176" stroke="#b3b3b3"/><path d="M333,91Q336,88 338,88" stroke="#e0e0e0"/><path d="M300,70Q300,74 304,78" stroke="#dfdfdf"/><path d="M288,145Q291,143 296,140" stroke="#d7d7d7"/><path d="M244,103Q240,101 241,99" stroke="#ececec"/><path d="M270,167Q273,163 271,158" stroke="#d4d4d4"/><path d="M336,132Q340,129 344,125" stroke="#b8b8b8"/><path d="M315,92Q310,90 309,89" stroke="#c4c4c4"/><path d="M351,189Q351,187 348,184" stroke="#dfdfdf"/><path d="M254,112Q250,110 250,110" stroke="#cfcfcf"/><path d="M289,175Q292,182 292,183" stroke="#d9d9d9"/><path d="M249,189Q248,185 250,182" stroke="#f5f5f5"/><path d="M308,116Q307,119 311,122" stroke="#b9b9b9"/><path d="M270,77Q267,73 268,70" stroke="#cfcfcf"/><path d="M254,183Q252,182 250,184" stroke="#d5d5d5"/><path d="M344,193Q345,197 346,197" stroke="#f5f5f5"/><path d="M355,162Q357,162 360,162" stroke="#f4f4f4"/><path d="M255,152Q253,154 251,156" stroke="#d1d1d1"/><path d="M247,155Q252,157 254,158" stroke="#e6e6e6"/><path d="M287,193Q287,194 288,199" stroke="#dddddd"/><path d="M286,210Q284,214 286,215" stroke="#dedede"/><path d="M358,114Q353,115 350,116" stroke="#d6d6d6"/><path d="M261,90Q264,92 265,92" stroke="#e3e3e3"/><path d="M259,129Q255,129 255,131" stroke="#dadada"/><path d="M331,115Q333,116 337,114" stroke="#cccccc"/><path d="M333,190Q336,194 338,198" stroke="#e4e4e4"/><path d="M374,130Q372,128 367,128" stroke="#f3f3f3"/><path d="M304,100Q304,100 308,97" stroke="#dbdbdb"/><path d="M309,160Q309,162 305,162" stroke="#d2d2d2"/><path d="M266,194Q268,191 269,186" stroke="#d0d0d0"/><path d="M280,119Q286,116 286,112" stroke="#c5c5c5"/><path d="M381,135Q385,132 389,132" stroke="#dedede"/><path d="M378,122Q382,120 385,122" stroke="#c9c9c9"/><path d="M276,128Q278,130 283,131" stroke="#bebebe"/><path d="M359,152Q355,147 354,145" stroke="#f3f3f3"/><path d="M364,147Q365,148 368,152" stroke="#d2d2d2"/><path d="M365,167Q362,165 360,159" stroke="#dddddd"/><path d="M256,82Q253,81 252,75" stroke="#ebebeb"/><path d="M378,119Q377,115 381,115" stroke="#f5f5f5"/><path d="M273,88Q272,87 271,82" stroke="#e1e1e1"/><path d="M299,112Q294,109 294,111" stroke="#cacaca"/><path d="M327,98Q328,96 327,94" stroke="#c8c8c8"/><path d="M304,67Q303,64 299,60" stroke="#f3f3f3"/><path d="M370,159Q371,164 376,167" stroke="#f3f3f3"/><path d="M358,163Q362,168 362,168" stroke="#d6d6d6"/><path d="M353,87Q355,92 353,93" stroke="#d3d3d3"/><path d="M285,156Q288,154 291,157" stroke="#bdbdbd"/><path d="M286,125Q284,121 281,118" stroke="#b6b6b6"/><path d="M311,72Q307,74 308,78" stroke="#d3d3d3"/><path d="M296,128Q294,126 291,122" stroke="#b6b6b6"/><path d="M271,71Q274,74 275,74" stroke="#cacaca"/><path d="M276,103Q276,100 275,99" stroke="#d7d7d7"/><path d="M371,107Q368,110 366,111" stroke="#dddddd"/><path d="M250,152Q244,150 242,151" stroke="#e9e9e9"/><path d="M326,111Q324,108 325,106" stroke="#b9b9b9"/><path d="M260,100Q258,100 259,96" stroke="#f1f1f1"/><path d="M325,93Q323,97 320,101" stroke="#b0b0b0"/><path d="M330,168Q328,167 324,163" stroke="#dadada"/><path d="M290,192Q289,196 285,196" stroke="#d8d8d8"/><path d="M352,180Q357,183 358,183" stroke="#eeeeee"/><path d="M296,191Q293,190 289,194" stroke="#d2d2d2"/><path d="M315,183Q315,186 318,188" stroke="#cacaca"/><path d="M269,198Q263,201 260,202" stroke="#f1f1f1"/><path d="M331,142Q333,141 333,137" stroke="#b7b7b7"/><path d="M285,137Q283,137 279,134" stroke="#cdcdcd"/><path d="M373,128Q375,129 376,125" stroke="#c9c9c9"/><path d="M287,181Q284,177 281,176" stroke="#bdbdbd"/><path d="M245,124Q241,121 236,121" stroke="#d6d6d6"/><path d="M259,128Q263,125 263,127" stroke="#b0b0b0"/><path d="M306,119Q311,122 313,120" stroke="#c0c0c0"/><path d="M355,187Q355,185 351,181" stroke="#d6d6d6"/><path d="M328,209Q325,203 326,201" stroke="#e0e0e0"/><path d="M358,192Q357,188 356,183" stroke="#dadada"/><path d="M340,169Q345,170 348,171" stroke="#dfdfdf"/><path d="M361,113Q364,114 366,113" stroke="#cdcdcd"/><path d="M268,164Q264,167 264,169" stroke="#bababa"/><path d="M323,135Q322,139 322,141" stroke="#c6c6c6"/><path d="M275,66Q274,69 277,72" stroke="#d1d1d1"/><path d="M338,135Q343,135 344,140" stroke="#c4c4c4"/><path d="M241,95Q239,91 238,90" stroke="#d5d5d5"/><path d="M369,100Q370,97 372,91" stroke="#eeeeee"/><path d="M265,171Q265,167 263,167" stroke="#d5d5d5"/><path d="M372,114Q374,115 379,115" stroke="#e6e6e6"/><path d="M367,170Q370,169 373,173" stroke="#dcdcdc"/><path d="M295,171Q294,177 291,177" stroke="#d7d7d7"/><path d="M349,109Q348,113 346,115" stroke="#e0e0e0"/><path d="M275,106Q278,99 277,97" stroke="#c8c8c8"/><path d="M332,152Q336,154 337,153" stroke="#c0c0c0"/><path d="M274,183Q272,178 274,174" stroke="#f2f2f2"/><path d="M324,184Q327,188 327,191" stroke="#d4d4d4"/><path d="M292,191Q294,194 295,200" stroke="#e3e3e3"/><path d="M311,155Q308,161 310,162" stroke="#c9c9c9"/><path d="M305,202Q309,207 309,207" stroke="#f1f1f1"/><path d="M292,149Q295,149 300,147" stroke="#cdcdcd"/><path d="M264,106Q266,109 266,110" stroke="#cbcbcb"/><path d="M296,124Q297,121 301,120" stroke="#dddddd"/><path d="M313,75Q311,75 310,79" stroke="#e6e6e6"/><path d="M295,79Q295,81 297,88" stroke="#cdcdcd"/><path d="M285,83Q289,78 288,75" stroke="#cccccc"/><path d="M239,174Q243,173 248,174" stroke="#d1d1d1"/><path d="M236,147Q239,147 241,146" stroke="#e5e5e5"/><path d="M378,120Q377,118 374,118" stroke="#e0e0e0"/><path d="M379,149Q383,149 388,147" stroke="#ededed"/><path d="M355,187Q356,188 356,194" stroke="#ebebeb"/><path d="M273,73Q270,72 265,68" stroke="#d9d9d9"/><path d="M339,202Q340,205 343,209" stroke="#cfcfcf"/><path d="M324,199Q326,201 328,201" stroke="#ebebeb"/><path d="M329,125Q326,130 324,131" stroke="#d1d1d1"/><path d="M271,80Q271,77 272,73" stroke="#e7e7e7"/><path d="M291,109Q292,108 294,104" stroke="#c2c2c2"/><path d="M230,139Q227,139 224,137" stroke="#f5f5f5"/><path d="M256,194Q256,198 253,197" stroke="#d2d2d2"/><path d="M364,178Q368,178 369,179" stroke="#dfdfdf"/><path d="M343,168Q342,165 344,161" stroke="#d4d4d4"/><path d="M337,129Q338,126 336,125" stroke="#d7d7d7"/><path d="M277,204Q272,205 272,207" stroke="#cdcdcd"/><path d="M347,162Q345,163 346,166" stroke="#d3d3d3"/><path d="M347,91Q343,93 343,99" stroke="#d9d9d9"/><path d="M309,204Q308,201 307,195" stroke="#d1d1d1"/><path d="M251,127Q248,129 246,135" stroke="#ededed"/><path d="M273,92Q279,93 280,98" stroke="#cccccc"/><path d="M320,171Q324,170 325,170" stroke="#b5b5b5"/><path d="M262,125Q257,125 257,124" stroke="#bfbfbf"/><path d="M300,156Q296,160 295,162" stroke="#cdcdcd"/><path d="M273,72Q271,67 269,66" stroke="#cecece"/><path d="M268,117Q269,120 273,121" stroke="#cfcfcf"/><path d="M378,138Q376,140 370,141" stroke="#f3f3f3"/><path d="M291,193Q290,193 294,189" stroke="#ededed"/><path d="M344,200Q340,197 338,198" stroke="#dcdcdc"/><path d="M272,190Q270,188 272,181" stroke="#c8c8c8"/><path d="M349,99Q348,102 344,101" stroke="#ebebeb"/><path d="M335,201Q339,205 342,206" stroke="#dcdcdc"/><path d="M290,63Q290,60 291,54" stroke="#ededed"/><path d="M338,88Q337,89 338,95" stroke="#d9d9d9"/><path d="M292,198Q291,191 292,190" stroke="#c8c8c8"/><path d="M324,124Q321,121 317,118" stroke="#dcdcdc"/><path d="M256,188Q253,191 252,192" stroke="#eaeaea"/><path d="M257,148Q254,145 251,140" stroke="#bdbdbd"/><path d="M239,98Q241,98 243,100" stroke="#e3e3e3"/><path d="M342,198Q342,203 345,204" stroke="#cccccc"/><path d="M233,162Q238,159 238,162" stroke="#e2e2e2"/><path d="M277,102Q275,100 278,98" stroke="#b3b3b3"/><path d="M241,98Q239,95 236,92" stroke="#c9c9c9"/></g>
</g>
<circle cx="427.5" cy="249" r="74.5" fill="url(#nmr)" stroke="#fff" stroke-width="2"/>
<text x="424.5" y="201.8" font-size="17" fill="#111" stroke="#111" stroke-width="0.3" text-anchor="middle" >solid-state</text>
<text x="427.0" y="223.4" font-size="17" fill="#111" stroke="#111" stroke-width="0.3" text-anchor="middle" >NMR</text>
<path d="M535.5,74.0 L547.0,71.0" fill="none" stroke="#111" stroke-width="1.5" stroke-linejoin="round" stroke-linecap="round" />
<path d="M514.5,75.0 L517.7,75.0" fill="none" stroke="#111" stroke-width="1.5" stroke-linejoin="round" stroke-linecap="round" />
<path d="M519.9,75.0 L523.1,75.0" fill="none" stroke="#111" stroke-width="1.5" stroke-linejoin="round" stroke-linecap="round" />
<path d="M567.0,76.0 L564.0,65.0 L571.0,56.0" fill="none" stroke="#111" stroke-width="1.5" stroke-linejoin="round" stroke-linecap="round" />
<text x="572.0" y="56.8" font-size="13.5" fill="#111" stroke="#111" stroke-width="0.4" text-anchor="start" >OH</text>
<path d="M559.0,92.0 L548.0,88.5" fill="none" stroke="#111" stroke-width="1.5" stroke-linejoin="round" stroke-linecap="round" />
<text x="527.0" y="91.5" font-size="13.5" fill="#111" stroke="#111" stroke-width="0.4" text-anchor="start" >HO</text>
<path d="M580.2,85.4 L584.4,95.6" fill="none" stroke="#111" stroke-width="1.5" stroke-linejoin="round" stroke-linecap="round" />
<text x="580.2" y="105.8" font-size="13.5" fill="#2b4fa3" stroke="#2b4fa3" stroke-width="0.4" text-anchor="start" >NH</text>
<path d="M582.6,107.0 L577.2,116.0" fill="none" stroke="#111" stroke-width="1.5" stroke-linejoin="round" stroke-linecap="round" />
<path d="M569.0,114.6 L577.2,114.6" fill="none" stroke="#111" stroke-width="1.5" stroke-linejoin="round" stroke-linecap="round" />
<path d="M569.0,118.0 L577.2,118.0" fill="none" stroke="#111" stroke-width="1.5" stroke-linejoin="round" stroke-linecap="round" />
<path d="M577.2,116.0 L583.2,123.5" fill="none" stroke="#111" stroke-width="1.5" stroke-linejoin="round" stroke-linecap="round" />
<text x="583.2" y="131.6" font-size="13.5" fill="#111" stroke="#111" stroke-width="0.4" text-anchor="start" >CH</text>
<text x="600.6" y="135.8" font-size="8" fill="#111" stroke="#111" stroke-width="0.3" text-anchor="start" >3</text>
<path d="M599.5,90.5 L609.5,88.5" fill="none" stroke="#111" stroke-width="1.5" stroke-linejoin="round" stroke-linecap="round" />
<path d="M618.5,89.0 L631.0,92.0" fill="none" stroke="#111" stroke-width="1.5" stroke-linejoin="round" stroke-linecap="round" />
<path d="M547.0,71.0 L567.0,76.0 L591.0,71.0 L599.5,90.5 L580.2,85.4 L559.0,92.0Z" fill="#f5c48c" stroke="none" stroke-width="1.3" stroke-linejoin="round" />
<path d="M547.0,71.0 L567.0,76.0 L591.0,71.0 L599.5,90.5" fill="none" stroke="#111" stroke-width="1.5" stroke-linejoin="round" stroke-linecap="round" />
<path d="M547.0,71.0 L559.0,92.0 L580.2,85.4 L599.5,90.5 L580.2,82.6 L560.3,88.7Z" fill="#111" stroke="#111" stroke-width="0.9" stroke-linejoin="round" />
<ellipse cx="591.0" cy="71.0" rx="4.3" ry="4.6" fill="#fff" stroke="#111" stroke-width="1.5"/>
<ellipse cx="531.0" cy="75.0" rx="4.3" ry="4.6" fill="#fff" stroke="#111" stroke-width="1.5"/>
<ellipse cx="564.0" cy="117.0" rx="4.3" ry="4.6" fill="#fff" stroke="#111" stroke-width="1.5"/>
<ellipse cx="614.0" cy="88.0" rx="4.3" ry="4.6" fill="#fff" stroke="#111" stroke-width="1.5"/>
<path d="M643.3,70.0 L634.0,71.5" fill="none" stroke="#111" stroke-width="1.5" stroke-linejoin="round" stroke-linecap="round" />
<text x="615.0" y="76.0" font-size="13.5" fill="#111" stroke="#111" stroke-width="0.4" text-anchor="start" >HO</text>
<path d="M663.8,77.2 L667.4,68.8" fill="none" stroke="#111" stroke-width="1.5" stroke-linejoin="round" stroke-linecap="round" />
<text x="666.2" y="67.6" font-size="13.5" fill="#2b4fa3" stroke="#2b4fa3" stroke-width="0.4" text-anchor="start" >NH</text>
<path d="M666.8,58.5 L660.8,50.8" fill="none" stroke="#111" stroke-width="1.5" stroke-linejoin="round" stroke-linecap="round" />
<path d="M651.5,49.3 L660.8,49.3" fill="none" stroke="#111" stroke-width="1.5" stroke-linejoin="round" stroke-linecap="round" />
<path d="M651.5,52.7 L660.8,52.7" fill="none" stroke="#111" stroke-width="1.5" stroke-linejoin="round" stroke-linecap="round" />
<path d="M660.8,49.5 L666.8,42.0" fill="none" stroke="#111" stroke-width="1.5" stroke-linejoin="round" stroke-linecap="round" />
<text x="666.8" y="41.2" font-size="13.5" fill="#111" stroke="#111" stroke-width="0.4" text-anchor="start" >CH</text>
<text x="686.0" y="46.0" font-size="8" fill="#111" stroke="#111" stroke-width="0.3" text-anchor="start" >3</text>
<path d="M651.5,85.5 L648.0,102.0 L654.0,108.0" fill="none" stroke="#111" stroke-width="1.5" stroke-linejoin="round" stroke-linecap="round" />
<text x="654.0" y="112.0" font-size="13.5" fill="#111" stroke="#111" stroke-width="0.4" text-anchor="start" >OH</text>
<path d="M684.8,71.2 L696.5,75.0" fill="none" stroke="#111" stroke-width="1.5" stroke-linejoin="round" stroke-linecap="round" />
<path d="M709.0,76.5 L714.0,76.5" fill="none" stroke="#111" stroke-width="1.5" stroke-linejoin="round" stroke-linecap="round" />
<path d="M631.0,92.0 L643.3,70.0 L663.8,77.2 L684.8,71.2 L673.5,93.5 L651.5,85.5Z" fill="#f5c48c" stroke="none" stroke-width="1.3" stroke-linejoin="round" />
<path d="M631.0,92.0 L643.3,70.0 L663.8,77.2 L684.8,71.2" fill="none" stroke="#111" stroke-width="1.5" stroke-linejoin="round" stroke-linecap="round" />
<path d="M631.0,92.0 L651.5,85.5 L673.5,93.5 L684.8,71.2 L672.5,90.2 L652.0,82.5Z" fill="#111" stroke="#111" stroke-width="0.9" stroke-linejoin="round" />
<ellipse cx="673.5" cy="93.5" rx="4.3" ry="4.6" fill="#fff" stroke="#111" stroke-width="1.5"/>
<ellipse cx="647.0" cy="51.0" rx="4.3" ry="4.6" fill="#fff" stroke="#111" stroke-width="1.5"/>
<ellipse cx="701.0" cy="76.5" rx="4.3" ry="4.6" fill="#fff" stroke="#111" stroke-width="1.5"/>
<path d="M711.5,92.5 L714.7,92.5" fill="none" stroke="#111" stroke-width="1.5" stroke-linejoin="round" stroke-linecap="round" />
<path d="M716.9,92.5 L720.1,92.5" fill="none" stroke="#111" stroke-width="1.5" stroke-linejoin="round" stroke-linecap="round" />
<path d="M729.5,93.5 L740.9,96.5" fill="none" stroke="#111" stroke-width="1.5" stroke-linejoin="round" stroke-linecap="round" />
<path d="M753.5,73.6 L744.0,77.0" fill="none" stroke="#111" stroke-width="1.5" stroke-linejoin="round" stroke-linecap="round" />
<text x="724.0" y="80.0" font-size="13.5" fill="#111" stroke="#111" stroke-width="0.4" text-anchor="start" >HO</text>
<path d="M773.3,81.7 L776.5,72.5" fill="none" stroke="#111" stroke-width="1.5" stroke-linejoin="round" stroke-linecap="round" />
<text x="774.0" y="71.0" font-size="13.5" fill="#2b4fa3" stroke="#2b4fa3" stroke-width="0.4" text-anchor="start" >NH</text>
<text x="793.8" y="71.5" font-size="8.5" fill="#2b4fa3" stroke="#2b4fa3" stroke-width="0.3" text-anchor="start" >2</text>
<path d="M762.0,88.4 L759.0,104.0 L765.0,110.0" fill="none" stroke="#111" stroke-width="1.5" stroke-linejoin="round" stroke-linecap="round" />
<text x="765.0" y="119.0" font-size="13.5" fill="#111" stroke="#111" stroke-width="0.4" text-anchor="start" >OH</text>
<path d="M795.3,75.4 L807.5,78.5" fill="none" stroke="#111" stroke-width="1.5" stroke-linejoin="round" stroke-linecap="round" />
<path d="M816.5,78.5 L827.4,76.8" fill="none" stroke="#111" stroke-width="1.5" stroke-linejoin="round" stroke-linecap="round" />
<path d="M740.9,96.5 L753.5,73.6 L773.3,81.7 L795.3,75.4 L784.0,99.8 L762.0,88.4Z" fill="#c9c1e7" stroke="none" stroke-width="1.3" stroke-linejoin="round" />
<path d="M740.9,96.5 L753.5,73.6 L773.3,81.7 L795.3,75.4" fill="none" stroke="#111" stroke-width="1.5" stroke-linejoin="round" stroke-linecap="round" />
<path d="M740.9,96.5 L762.0,88.4 L784.0,99.8 L795.3,75.4 L783.0,96.5 L762.5,85.4Z" fill="#111" stroke="#111" stroke-width="0.9" stroke-linejoin="round" />
<ellipse cx="784.0" cy="99.8" rx="4.3" ry="4.6" fill="#fff" stroke="#111" stroke-width="1.5"/>
<ellipse cx="725.0" cy="92.0" rx="4.3" ry="4.6" fill="#fff" stroke="#111" stroke-width="1.5"/>
<ellipse cx="812.0" cy="79.4" rx="4.3" ry="4.6" fill="#fff" stroke="#111" stroke-width="1.5"/>
<path d="M847.2,80.5 L844.0,67.0 L851.5,60.0" fill="none" stroke="#111" stroke-width="1.5" stroke-linejoin="round" stroke-linecap="round" />
<text x="851.6" y="62.9" font-size="13.5" fill="#111" stroke="#111" stroke-width="0.4" text-anchor="start" >OH</text>
<path d="M837.3,97.0 L827.0,93.0" fill="none" stroke="#111" stroke-width="1.5" stroke-linejoin="round" stroke-linecap="round" />
<text x="806.5" y="97.0" font-size="13.5" fill="#111" stroke="#111" stroke-width="0.4" text-anchor="start" >HO</text>
<path d="M860.4,91.5 L863.0,100.0" fill="none" stroke="#111" stroke-width="1.5" stroke-linejoin="round" stroke-linecap="round" />
<text x="859.0" y="110.0" font-size="13.5" fill="#2b4fa3" stroke="#2b4fa3" stroke-width="0.4" text-anchor="start" >NH</text>
<text x="878.3" y="110.5" font-size="8.5" fill="#2b4fa3" stroke="#2b4fa3" stroke-width="0.3" text-anchor="start" >2</text>
<path d="M880.2,97.0 L888.0,97.0" fill="none" stroke="#111" stroke-width="1.5" stroke-linejoin="round" stroke-linecap="round" />
<path d="M898.0,97.0 L901.2,97.0" fill="none" stroke="#111" stroke-width="1.5" stroke-linejoin="round" stroke-linecap="round" />
<path d="M903.4,97.0 L906.6,97.0" fill="none" stroke="#111" stroke-width="1.5" stroke-linejoin="round" stroke-linecap="round" />
<path d="M827.4,76.8 L847.2,80.5 L870.3,75.0 L880.2,97.0 L860.4,91.5 L837.3,97.0Z" fill="#c9c1e7" stroke="none" stroke-width="1.3" stroke-linejoin="round" />
<path d="M827.4,76.8 L847.2,80.5 L870.3,75.0 L880.2,97.0" fill="none" stroke="#111" stroke-width="1.5" stroke-linejoin="round" stroke-linecap="round" />
<path d="M827.4,76.8 L837.3,97.0 L860.4,91.5 L880.2,97.0 L860.4,88.7 L838.6,93.7Z" fill="#111" stroke="#111" stroke-width="0.9" stroke-linejoin="round" />
<ellipse cx="870.3" cy="75.0" rx="4.3" ry="4.6" fill="#fff" stroke="#111" stroke-width="1.5"/>
<ellipse cx="892.3" cy="97.0" rx="4.3" ry="4.6" fill="#fff" stroke="#111" stroke-width="1.5"/>
<text x="494.6" y="118.5" font-size="16.3" fill="#eba86b" stroke="#eba86b" stroke-width="0.3" text-anchor="start" >chitin</text>
<text x="878.0" y="45.5" font-size="16.3" fill="#8979c2" stroke="#8979c2" stroke-width="0.3" text-anchor="start" >chitosan</text>
<path d="M575.0,172.0 L571.0,160.0 L578.0,153.0" fill="none" stroke="#111" stroke-width="1.5" stroke-linejoin="round" stroke-linecap="round" />
<text x="579.0" y="155.0" font-size="13.5" fill="#111" stroke="#111" stroke-width="0.4" text-anchor="start" >OH</text>
<path d="M555.0,167.0 L547.0,172.0" fill="none" stroke="#111" stroke-width="1.5" stroke-linejoin="round" stroke-linecap="round" />
<text x="528.0" y="178.0" font-size="13.5" fill="#111" stroke="#111" stroke-width="0.4" text-anchor="start" >HO</text>
<path d="M565.3,187.0 L541.5,194.5" fill="none" stroke="#111" stroke-width="1.5" stroke-linejoin="round" stroke-linecap="round" />
<path d="M522.5,196.0 L525.7,196.0" fill="none" stroke="#111" stroke-width="1.5" stroke-linejoin="round" stroke-linecap="round" />
<path d="M527.9,196.0 L531.1,196.0" fill="none" stroke="#111" stroke-width="1.5" stroke-linejoin="round" stroke-linecap="round" />
<path d="M585.5,181.6 L589.0,191.0" fill="none" stroke="#111" stroke-width="1.5" stroke-linejoin="round" stroke-linecap="round" />
<text x="587.0" y="203.0" font-size="13.5" fill="#111" stroke="#111" stroke-width="0.4" text-anchor="start" >OH</text>
<path d="M605.3,188.3 L623.5,197.0" fill="none" stroke="#111" stroke-width="1.5" stroke-linejoin="round" stroke-linecap="round" />
<path d="M632.5,197.5 L652.0,186.0" fill="none" stroke="#111" stroke-width="1.5" stroke-linejoin="round" stroke-linecap="round" />
<path d="M555.0,167.0 L575.0,172.0 L596.8,167.2 L605.3,188.3 L585.5,181.6 L565.3,187.0Z" fill="#8b8b8b" stroke="none" stroke-width="1.3" stroke-linejoin="round" />
<path d="M555.0,167.0 L575.0,172.0 L596.8,167.2 L605.3,188.3" fill="none" stroke="#111" stroke-width="1.5" stroke-linejoin="round" stroke-linecap="round" />
<path d="M555.0,167.0 L565.3,187.0 L585.5,181.6 L605.3,188.3 L585.5,178.8 L566.6,183.7Z" fill="#111" stroke="#111" stroke-width="0.9" stroke-linejoin="round" />
<ellipse cx="596.8" cy="167.2" rx="4.3" ry="4.6" fill="#fff" stroke="#111" stroke-width="1.5"/>
<ellipse cx="537.0" cy="196.0" rx="4.3" ry="4.6" fill="#fff" stroke="#111" stroke-width="1.5"/>
<ellipse cx="628.0" cy="199.0" rx="4.3" ry="4.6" fill="#fff" stroke="#111" stroke-width="1.5"/>
<path d="M662.0,171.0 L658.0,159.0 L665.0,152.0" fill="none" stroke="#111" stroke-width="1.5" stroke-linejoin="round" stroke-linecap="round" />
<text x="666.0" y="153.0" font-size="13.5" fill="#111" stroke="#111" stroke-width="0.4" text-anchor="start" >OH</text>
<path d="M642.0,166.0 L635.0,171.0" fill="none" stroke="#111" stroke-width="1.5" stroke-linejoin="round" stroke-linecap="round" />
<text x="616.0" y="177.0" font-size="13.5" fill="#111" stroke="#111" stroke-width="0.4" text-anchor="start" >HO</text>
<path d="M673.0,182.0 L676.0,190.0" fill="none" stroke="#111" stroke-width="1.5" stroke-linejoin="round" stroke-linecap="round" />
<text x="674.0" y="201.5" font-size="13.5" fill="#111" stroke="#111" stroke-width="0.4" text-anchor="start" >OH</text>
<path d="M693.0,187.4 L711.0,197.0" fill="none" stroke="#111" stroke-width="1.5" stroke-linejoin="round" stroke-linecap="round" />
<path d="M719.5,197.5 L741.0,188.0" fill="none" stroke="#111" stroke-width="1.5" stroke-linejoin="round" stroke-linecap="round" />
<path d="M642.0,166.0 L662.0,171.0 L684.0,166.0 L693.0,187.4 L673.0,182.0 L652.0,186.0Z" fill="#8b8b8b" stroke="none" stroke-width="1.3" stroke-linejoin="round" />
<path d="M642.0,166.0 L662.0,171.0 L684.0,166.0 L693.0,187.4" fill="none" stroke="#111" stroke-width="1.5" stroke-linejoin="round" stroke-linecap="round" />
<path d="M642.0,166.0 L652.0,186.0 L673.0,182.0 L693.0,187.4 L673.0,179.2 L653.3,182.7Z" fill="#111" stroke="#111" stroke-width="0.9" stroke-linejoin="round" />
<ellipse cx="684.0" cy="166.0" rx="4.3" ry="4.6" fill="#fff" stroke="#111" stroke-width="1.5"/>
<ellipse cx="715.0" cy="199.0" rx="4.3" ry="4.6" fill="#fff" stroke="#111" stroke-width="1.5"/>
<text x="645.0" y="222.5" font-size="14.3" fill="#111" stroke="#111" stroke-width="0.3" text-anchor="start" >A</text>
<text x="655.8" y="217.0" font-size="8.5" fill="#333" stroke="#333" stroke-width="0.1" text-anchor="start" >a</text>
<path d="M750.0,173.0 L746.0,161.0 L753.0,154.0" fill="none" stroke="#111" stroke-width="1.5" stroke-linejoin="round" stroke-linecap="round" />
<text x="756.0" y="154.0" font-size="13.5" fill="#111" stroke="#111" stroke-width="0.4" text-anchor="start" >OH</text>
<path d="M731.0,168.0 L724.0,173.0" fill="none" stroke="#111" stroke-width="1.5" stroke-linejoin="round" stroke-linecap="round" />
<text x="706.0" y="179.0" font-size="13.5" fill="#111" stroke="#111" stroke-width="0.4" text-anchor="start" >HO</text>
<path d="M761.0,183.0 L764.0,192.0" fill="none" stroke="#111" stroke-width="1.5" stroke-linejoin="round" stroke-linecap="round" />
<text x="762.0" y="203.0" font-size="13.5" fill="#111" stroke="#111" stroke-width="0.4" text-anchor="start" >OH</text>
<path d="M781.0,188.0 L800.5,197.0" fill="none" stroke="#111" stroke-width="1.5" stroke-linejoin="round" stroke-linecap="round" />
<path d="M809.5,197.5 L829.0,186.6" fill="none" stroke="#111" stroke-width="1.5" stroke-linejoin="round" stroke-linecap="round" />
<path d="M731.0,168.0 L750.0,173.0 L773.0,167.0 L781.0,188.0 L761.0,183.0 L741.0,188.0Z" fill="#d99bc4" stroke="none" stroke-width="1.3" stroke-linejoin="round" />
<path d="M731.0,168.0 L750.0,173.0 L773.0,167.0 L781.0,188.0" fill="none" stroke="#111" stroke-width="1.5" stroke-linejoin="round" stroke-linecap="round" />
<path d="M731.0,168.0 L741.0,188.0 L761.0,183.0 L781.0,188.0 L761.0,180.2 L742.3,184.7Z" fill="#111" stroke="#111" stroke-width="0.9" stroke-linejoin="round" />
<ellipse cx="773.0" cy="167.0" rx="4.3" ry="4.6" fill="#fff" stroke="#111" stroke-width="1.5"/>
<ellipse cx="805.0" cy="199.0" rx="4.3" ry="4.6" fill="#fff" stroke="#111" stroke-width="1.5"/>
<path d="M838.0,171.0 L834.0,159.0 L841.0,152.0" fill="none" stroke="#111" stroke-width="1.5" stroke-linejoin="round" stroke-linecap="round" />
<text x="843.0" y="153.0" font-size="13.5" fill="#111" stroke="#111" stroke-width="0.4" text-anchor="start" >OH</text>
<path d="M819.0,167.0 L812.0,172.0" fill="none" stroke="#111" stroke-width="1.5" stroke-linejoin="round" stroke-linecap="round" />
<text x="794.0" y="178.0" font-size="13.5" fill="#111" stroke="#111" stroke-width="0.4" text-anchor="start" >HO</text>
<path d="M849.0,181.4 L852.0,190.0" fill="none" stroke="#111" stroke-width="1.5" stroke-linejoin="round" stroke-linecap="round" />
<text x="850.0" y="201.5" font-size="13.5" fill="#111" stroke="#111" stroke-width="0.4" text-anchor="start" >OH</text>
<path d="M868.0,186.6 L888.5,196.0" fill="none" stroke="#111" stroke-width="1.5" stroke-linejoin="round" stroke-linecap="round" />
<path d="M899.0,198.0 L902.2,198.0" fill="none" stroke="#111" stroke-width="1.5" stroke-linejoin="round" stroke-linecap="round" />
<path d="M904.4,198.0 L907.6,198.0" fill="none" stroke="#111" stroke-width="1.5" stroke-linejoin="round" stroke-linecap="round" />
<path d="M819.0,167.0 L838.0,171.0 L860.0,166.0 L868.0,186.6 L849.0,181.4 L829.0,186.6Z" fill="#d99bc4" stroke="none" stroke-width="1.3" stroke-linejoin="round" />
<path d="M819.0,167.0 L838.0,171.0 L860.0,166.0 L868.0,186.6" fill="none" stroke="#111" stroke-width="1.5" stroke-linejoin="round" stroke-linecap="round" />
<path d="M819.0,167.0 L829.0,186.6 L849.0,181.4 L868.0,186.6 L849.0,178.6 L830.3,183.3Z" fill="#111" stroke="#111" stroke-width="0.9" stroke-linejoin="round" />
<ellipse cx="860.0" cy="166.0" rx="4.3" ry="4.6" fill="#fff" stroke="#111" stroke-width="1.5"/>
<ellipse cx="893.0" cy="198.0" rx="4.3" ry="4.6" fill="#fff" stroke="#111" stroke-width="1.5"/>
<text x="826.5" y="222.0" font-size="14.3" fill="#9c2168" stroke="#9c2168" stroke-width="0.3" text-anchor="start" >A</text>
<text x="837.3" y="217.0" font-size="8.5" fill="#9c2168" stroke="#9c2168" stroke-width="0.1" text-anchor="start" >d</text>
<path d="M544.0,333.0 L541.0,322.0 L548.0,314.0" fill="none" stroke="#111" stroke-width="1.5" stroke-linejoin="round" stroke-linecap="round" />
<text x="549.0" y="316.0" font-size="13.5" fill="#111" stroke="#111" stroke-width="0.4" text-anchor="start" >OH</text>
<path d="M526.0,329.0 L518.0,334.0" fill="none" stroke="#111" stroke-width="1.5" stroke-linejoin="round" stroke-linecap="round" />
<text x="496.0" y="341.5" font-size="13.5" fill="#111" stroke="#111" stroke-width="0.4" text-anchor="start" >HO</text>
<path d="M536.0,349.0 L522.0,356.0" fill="none" stroke="#111" stroke-width="1.5" stroke-linejoin="round" stroke-linecap="round" />
<path d="M506.5,354.0 L509.5,354.0" fill="none" stroke="#111" stroke-width="1.5" stroke-linejoin="round" stroke-linecap="round" />
<path d="M556.0,344.0 L559.0,353.0" fill="none" stroke="#111" stroke-width="1.5" stroke-linejoin="round" stroke-linecap="round" />
<text x="556.0" y="367.0" font-size="13.5" fill="#111" stroke="#111" stroke-width="0.4" text-anchor="start" >OH</text>
<path d="M575.0,350.0 L592.0,361.0" fill="none" stroke="#111" stroke-width="1.5" stroke-linejoin="round" stroke-linecap="round" />
<path d="M600.5,361.5 L623.0,351.0" fill="none" stroke="#111" stroke-width="1.5" stroke-linejoin="round" stroke-linecap="round" />
<path d="M526.0,329.0 L544.0,333.0 L567.0,328.0 L575.0,350.0 L556.0,344.0 L536.0,349.0Z" fill="#8b8b8b" stroke="none" stroke-width="1.3" stroke-linejoin="round" />
<path d="M526.0,329.0 L544.0,333.0 L567.0,328.0 L575.0,350.0" fill="none" stroke="#111" stroke-width="1.5" stroke-linejoin="round" stroke-linecap="round" />
<path d="M526.0,329.0 L536.0,349.0 L556.0,344.0 L575.0,350.0 L556.0,341.2 L537.3,345.7Z" fill="#111" stroke="#111" stroke-width="0.9" stroke-linejoin="round" />
<ellipse cx="567.0" cy="328.0" rx="4.3" ry="4.6" fill="#fff" stroke="#111" stroke-width="1.5"/>
<ellipse cx="518.0" cy="358.0" rx="4.3" ry="4.6" fill="#fff" stroke="#111" stroke-width="1.5"/>
<ellipse cx="596.0" cy="363.0" rx="4.3" ry="4.6" fill="#fff" stroke="#111" stroke-width="1.5"/>
<path d="M632.0,336.0 L628.0,324.0 L635.0,317.0" fill="none" stroke="#111" stroke-width="1.5" stroke-linejoin="round" stroke-linecap="round" />
<text x="636.0" y="317.0" font-size="13.5" fill="#111" stroke="#111" stroke-width="0.4" text-anchor="start" >OH</text>
<path d="M612.0,331.0 L605.0,336.0" fill="none" stroke="#111" stroke-width="1.5" stroke-linejoin="round" stroke-linecap="round" />
<text x="585.0" y="341.0" font-size="13.5" fill="#111" stroke="#111" stroke-width="0.4" text-anchor="start" >HO</text>
<path d="M643.0,347.0 L646.0,355.0" fill="none" stroke="#111" stroke-width="1.5" stroke-linejoin="round" stroke-linecap="round" />
<text x="645.0" y="365.0" font-size="13.5" fill="#111" stroke="#111" stroke-width="0.4" text-anchor="start" >OH</text>
<path d="M663.0,352.0 L680.5,360.0" fill="none" stroke="#111" stroke-width="1.5" stroke-linejoin="round" stroke-linecap="round" />
<path d="M692.5,362.0 L695.7,362.0" fill="none" stroke="#111" stroke-width="1.5" stroke-linejoin="round" stroke-linecap="round" />
<path d="M697.9,362.0 L701.1,362.0" fill="none" stroke="#111" stroke-width="1.5" stroke-linejoin="round" stroke-linecap="round" />
<path d="M612.0,331.0 L632.0,336.0 L655.0,330.0 L663.0,352.0 L643.0,347.0 L623.0,351.0Z" fill="#8b8b8b" stroke="none" stroke-width="1.3" stroke-linejoin="round" />
<path d="M612.0,331.0 L632.0,336.0 L655.0,330.0 L663.0,352.0" fill="none" stroke="#111" stroke-width="1.5" stroke-linejoin="round" stroke-linecap="round" />
<path d="M612.0,331.0 L623.0,351.0 L643.0,347.0 L663.0,352.0 L643.0,344.2 L624.3,347.7Z" fill="#111" stroke="#111" stroke-width="0.9" stroke-linejoin="round" />
<ellipse cx="655.0" cy="330.0" rx="4.3" ry="4.6" fill="#fff" stroke="#111" stroke-width="1.5"/>
<ellipse cx="685.0" cy="362.0" rx="4.3" ry="4.6" fill="#fff" stroke="#111" stroke-width="1.5"/>
<text x="684.0" y="320.5" font-size="14.3" fill="#111" stroke="#111" stroke-width="0.3" text-anchor="start" >A</text>
<text x="694.8" y="315.0" font-size="8.5" fill="#333" stroke="#333" stroke-width="0.1" text-anchor="start" >a</text>
<path d="M753.0,346.0 L749.0,334.0 L756.0,327.0" fill="none" stroke="#111" stroke-width="1.5" stroke-linejoin="round" stroke-linecap="round" />
<text x="757.0" y="327.0" font-size="13.5" fill="#111" stroke="#111" stroke-width="0.4" text-anchor="start" >OH</text>
<path d="M733.0,341.0 L726.0,346.0" fill="none" stroke="#111" stroke-width="1.5" stroke-linejoin="round" stroke-linecap="round" />
<text x="706.0" y="352.0" font-size="13.5" fill="#111" stroke="#111" stroke-width="0.4" text-anchor="start" >HO</text>
<path d="M743.0,360.0 L731.0,368.0" fill="none" stroke="#111" stroke-width="1.5" stroke-linejoin="round" stroke-linecap="round" />
<path d="M716.5,367.5 L719.5,367.5" fill="none" stroke="#111" stroke-width="1.5" stroke-linejoin="round" stroke-linecap="round" />
<path d="M764.0,355.0 L767.0,364.0" fill="none" stroke="#111" stroke-width="1.5" stroke-linejoin="round" stroke-linecap="round" />
<text x="765.0" y="375.0" font-size="13.5" fill="#111" stroke="#111" stroke-width="0.4" text-anchor="start" >OH</text>
<path d="M783.0,361.0 L800.5,372.0" fill="none" stroke="#111" stroke-width="1.5" stroke-linejoin="round" stroke-linecap="round" />
<path d="M809.5,372.5 L830.0,362.0" fill="none" stroke="#111" stroke-width="1.5" stroke-linejoin="round" stroke-linecap="round" />
<path d="M733.0,341.0 L753.0,346.0 L776.0,340.0 L783.0,361.0 L764.0,355.0 L743.0,360.0Z" fill="#80bf9c" stroke="none" stroke-width="1.3" stroke-linejoin="round" />
<path d="M733.0,341.0 L753.0,346.0 L776.0,340.0 L783.0,361.0" fill="none" stroke="#111" stroke-width="1.5" stroke-linejoin="round" stroke-linecap="round" />
<path d="M733.0,341.0 L743.0,360.0 L764.0,355.0 L783.0,361.0 L764.0,352.2 L744.3,356.7Z" fill="#111" stroke="#111" stroke-width="0.9" stroke-linejoin="round" />
<ellipse cx="776.0" cy="340.0" rx="4.3" ry="4.6" fill="#fff" stroke="#111" stroke-width="1.5"/>
<ellipse cx="726.5" cy="370.0" rx="4.3" ry="4.6" fill="#fff" stroke="#111" stroke-width="1.5"/>
<ellipse cx="805.0" cy="374.0" rx="4.3" ry="4.6" fill="#fff" stroke="#111" stroke-width="1.5"/>
<path d="M840.0,347.6 L836.0,336.0 L843.0,329.0" fill="none" stroke="#111" stroke-width="1.5" stroke-linejoin="round" stroke-linecap="round" />
<text x="844.0" y="329.0" font-size="13.5" fill="#111" stroke="#111" stroke-width="0.4" text-anchor="start" >OH</text>
<path d="M820.0,343.0 L813.0,348.0" fill="none" stroke="#111" stroke-width="1.5" stroke-linejoin="round" stroke-linecap="round" />
<text x="793.0" y="353.0" font-size="13.5" fill="#111" stroke="#111" stroke-width="0.4" text-anchor="start" >HO</text>
<path d="M850.0,357.0 L853.0,366.0" fill="none" stroke="#111" stroke-width="1.5" stroke-linejoin="round" stroke-linecap="round" />
<text x="852.0" y="377.0" font-size="13.5" fill="#111" stroke="#111" stroke-width="0.4" text-anchor="start" >OH</text>
<path d="M870.0,363.0 L891.5,372.0" fill="none" stroke="#111" stroke-width="1.5" stroke-linejoin="round" stroke-linecap="round" />
<path d="M904.5,374.0 L907.7,374.0" fill="none" stroke="#111" stroke-width="1.5" stroke-linejoin="round" stroke-linecap="round" />
<path d="M909.9,374.0 L913.1,374.0" fill="none" stroke="#111" stroke-width="1.5" stroke-linejoin="round" stroke-linecap="round" />
<path d="M820.0,343.0 L840.0,347.6 L862.0,342.0 L870.0,363.0 L850.0,357.0 L830.0,362.0Z" fill="#80bf9c" stroke="none" stroke-width="1.3" stroke-linejoin="round" />
<path d="M820.0,343.0 L840.0,347.6 L862.0,342.0 L870.0,363.0" fill="none" stroke="#111" stroke-width="1.5" stroke-linejoin="round" stroke-linecap="round" />
<path d="M820.0,343.0 L830.0,362.0 L850.0,357.0 L870.0,363.0 L850.0,354.2 L831.3,358.7Z" fill="#111" stroke="#111" stroke-width="0.9" stroke-linejoin="round" />
<ellipse cx="862.0" cy="342.0" rx="4.3" ry="4.6" fill="#fff" stroke="#111" stroke-width="1.5"/>
<ellipse cx="896.0" cy="374.0" rx="4.3" ry="4.6" fill="#fff" stroke="#111" stroke-width="1.5"/>
<text x="892.0" y="342.5" font-size="14.3" fill="#237040" stroke="#237040" stroke-width="0.3" text-anchor="start" >A</text>
<text x="902.8" y="337.0" font-size="8.5" fill="#237040" stroke="#237040" stroke-width="0.1" text-anchor="start" >b</text>
<text x="843.0" y="296.5" font-size="16" fill="#111" stroke="#111" stroke-width="0.3" text-anchor="start" ><tspan font-family="Liberation Serif" font-style="italic">α</tspan>-1,3-glucan</text>
<text x="558.2" y="484.0" font-size="16" fill="#111" stroke="#111" stroke-width="0.3" text-anchor="start" >melanin</text>
<path d="M253.7,256.0 L274.7,256.0 L285.2,273.5 L274.7,289.7 L253.7,289.7 L242.5,273.5Z" fill="#fcefd1" stroke="none" stroke-width="1.3" stroke-linejoin="round" />
<path d="M253.7,289.7 L274.7,289.7 L280.5,308.5 L263.8,320.0 L247.0,308.5Z" fill="#fcefd1" stroke="none" stroke-width="1.3" stroke-linejoin="round" />
<path d="M253.7,256.0 L274.7,256.0 L285.2,273.5 L274.7,289.7 L253.7,289.7 L242.5,273.5 L253.7,256.0" fill="none" stroke="#2a2a2a" stroke-width="1.8" stroke-linejoin="round" stroke-linecap="round" />
<path d="M274.7,289.7 L278.2,301.0" fill="none" stroke="#2a2a2a" stroke-width="1.8" stroke-linejoin="round" stroke-linecap="round" />
<path d="M276.0,313.5 L263.8,320.0 L247.0,308.5 L253.7,289.7" fill="none" stroke="#2a2a2a" stroke-width="1.8" stroke-linejoin="round" stroke-linecap="round" />
<path d="M247.2,272.1 L254.4,260.9" fill="none" stroke="#2a2a2a" stroke-width="1.6" stroke-linejoin="round" stroke-linecap="round" />
<path d="M273.8,260.8 L280.6,272.0" fill="none" stroke="#2a2a2a" stroke-width="1.6" stroke-linejoin="round" stroke-linecap="round" />
<path d="M257.5,286.5 L270.9,286.5" fill="none" stroke="#2a2a2a" stroke-width="1.6" stroke-linejoin="round" stroke-linecap="round" />
<path d="M251.8,307.9 L262.6,315.3" fill="none" stroke="#2a2a2a" stroke-width="1.6" stroke-linejoin="round" stroke-linecap="round" />
<path d="M253.7,256.0 L246.5,245.0" fill="none" stroke="#2a2a2a" stroke-width="1.8" stroke-linejoin="round" stroke-linecap="round" />
<path d="M274.7,256.0 L281.0,245.0" fill="none" stroke="#2a2a2a" stroke-width="1.8" stroke-linejoin="round" stroke-linecap="round" />
<text x="230.5" y="242.5" font-size="12.5" fill="#111" stroke="#111" stroke-width="0.25" text-anchor="start" >HO</text>
<text x="279.5" y="242.5" font-size="12.5" fill="#111" stroke="#111" stroke-width="0.25" text-anchor="start" >OH</text>
<text x="278.0" y="316.5" font-size="12.5" fill="#111" stroke="#111" stroke-width="0.25" text-anchor="start" >NH</text>
<path d="M263.8,320.0 L264.4,348.6" fill="none" stroke="#2a2a2a" stroke-width="1.8" stroke-linejoin="round" stroke-linecap="round" />
<path d="M264.4,348.6 L282.8,359.0 L282.8,380.6 L264.4,391.0 L245.2,380.6 L245.2,359.0Z" fill="#dacbbb" stroke="none" stroke-width="1.3" stroke-linejoin="round" />
<path d="M282.8,359.0 L304.4,352.6 L315.6,369.4 L305.5,383.0 L282.8,380.6Z" fill="#dacbbb" stroke="none" stroke-width="1.3" stroke-linejoin="round" />
<path d="M264.4,348.6 L282.8,359.0 L282.8,380.6 L264.4,391.0 L245.2,380.6 L245.2,359.0 L264.4,348.6" fill="none" stroke="#2a2a2a" stroke-width="1.8" stroke-linejoin="round" stroke-linecap="round" />
<path d="M282.8,359.0 L304.4,352.6 L315.6,369.4 L308.5,379.5" fill="none" stroke="#2a2a2a" stroke-width="1.8" stroke-linejoin="round" stroke-linecap="round" />
<path d="M298.0,384.0 L282.8,380.6" fill="none" stroke="#2a2a2a" stroke-width="1.8" stroke-linejoin="round" stroke-linecap="round" />
<path d="M250.2,359.9 L262.5,353.3" fill="none" stroke="#2a2a2a" stroke-width="1.6" stroke-linejoin="round" stroke-linecap="round" />
<path d="M277.9,379.7 L266.1,386.3" fill="none" stroke="#2a2a2a" stroke-width="1.6" stroke-linejoin="round" stroke-linecap="round" />
<path d="M287.6,360.9 L301.4,356.8" fill="none" stroke="#2a2a2a" stroke-width="1.6" stroke-linejoin="round" stroke-linecap="round" />
<path d="M245.2,359.0 L234.5,352.8" fill="none" stroke="#2a2a2a" stroke-width="1.8" stroke-linejoin="round" stroke-linecap="round" />
<text x="215.5" y="353.4" font-size="12.5" fill="#111" stroke="#111" stroke-width="0.25" text-anchor="start" >HO</text>
<path d="M245.2,380.6 L233.5,387.3" fill="none" stroke="#2a2a2a" stroke-width="1.8" stroke-linejoin="round" stroke-linecap="round" />
<path d="M247.0,383.8 L235.3,390.5" fill="none" stroke="#2a2a2a" stroke-width="1.8" stroke-linejoin="round" stroke-linecap="round" />
<ellipse cx="229.4" cy="389.8" rx="4.3" ry="4.5" fill="#fff" stroke="#111" stroke-width="1.5"/>
<text x="300.2" y="391.0" font-size="12.5" fill="#111" stroke="#111" stroke-width="0.25" text-anchor="start" >N</text>
<text x="300.8" y="402.5" font-size="12.5" fill="#111" stroke="#111" stroke-width="0.25" text-anchor="start" >H</text>
<path d="M316.0,367.3 L339.7,367.3" fill="none" stroke="#2a2a2a" stroke-width="1.8" stroke-linejoin="round" stroke-linecap="round" />
<path d="M316.0,371.5 L339.7,371.5" fill="none" stroke="#2a2a2a" stroke-width="1.8" stroke-linejoin="round" stroke-linecap="round" />
<path d="M350.2,351.2 L370.1,351.2 L381.7,370.1 L370.1,388.0 L350.2,388.0 L339.7,370.1Z" fill="#c6dbf0" stroke="none" stroke-width="1.3" stroke-linejoin="round" />
<path d="M350.2,388.0 L370.1,388.0 L375.8,407.0 L359.6,421.6 L342.8,409.0Z" fill="#c6dbf0" stroke="none" stroke-width="1.3" stroke-linejoin="round" />
<path d="M350.2,351.2 L370.1,351.2 L381.7,370.1 L370.1,388.0 L350.2,388.0 L339.7,370.1 L350.2,351.2" fill="none" stroke="#2a2a2a" stroke-width="1.8" stroke-linejoin="round" stroke-linecap="round" />
<path d="M370.1,388.0 L374.6,404.0" fill="none" stroke="#2a2a2a" stroke-width="1.8" stroke-linejoin="round" stroke-linecap="round" />
<path d="M372.5,414.5 L359.6,421.6 L342.8,409.0 L350.2,388.0" fill="none" stroke="#2a2a2a" stroke-width="1.8" stroke-linejoin="round" stroke-linecap="round" />
<path d="M353.8,354.4 L366.5,354.4" fill="none" stroke="#2a2a2a" stroke-width="1.6" stroke-linejoin="round" stroke-linecap="round" />
<path d="M376.9,371.6 L369.5,383.0" fill="none" stroke="#2a2a2a" stroke-width="1.6" stroke-linejoin="round" stroke-linecap="round" />
<path d="M351.9,392.8 L347.2,406.3" fill="none" stroke="#2a2a2a" stroke-width="1.6" stroke-linejoin="round" stroke-linecap="round" />
<path d="M360.1,417.6 L370.5,410.1" fill="none" stroke="#2a2a2a" stroke-width="1.6" stroke-linejoin="round" stroke-linecap="round" />
<path d="M350.2,351.2 L345.2,341.0" fill="none" stroke="#2a2a2a" stroke-width="1.8" stroke-linejoin="round" stroke-linecap="round" />
<path d="M370.1,351.2 L376.4,341.0" fill="none" stroke="#2a2a2a" stroke-width="1.8" stroke-linejoin="round" stroke-linecap="round" />
<text x="327.0" y="338.6" font-size="12.5" fill="#111" stroke="#111" stroke-width="0.25" text-anchor="start" >HO</text>
<text x="376.0" y="338.6" font-size="12.5" fill="#111" stroke="#111" stroke-width="0.25" text-anchor="start" >OH</text>
<text x="372.0" y="415.3" font-size="12.5" fill="#111" stroke="#111" stroke-width="0.25" text-anchor="start" >N</text>
<path d="M359.6,421.6 L360.2,444.0" fill="none" stroke="#2a2a2a" stroke-width="1.8" stroke-linejoin="round" stroke-linecap="round" />
<path d="M360.2,444.0 L379.4,454.4 L379.4,476.0 L360.2,487.2 L341.0,476.0 L341.0,454.4Z" fill="#e5cde5" stroke="none" stroke-width="1.3" stroke-linejoin="round" />
<path d="M379.4,454.4 L400.2,448.8 L413.8,465.6 L402.0,480.0 L379.4,476.0Z" fill="#e5cde5" stroke="none" stroke-width="1.3" stroke-linejoin="round" />
<path d="M360.2,444.0 L379.4,454.4 L379.4,476.0 L360.2,487.2 L341.0,476.0 L341.0,454.4 L360.2,444.0" fill="none" stroke="#2a2a2a" stroke-width="1.8" stroke-linejoin="round" stroke-linecap="round" />
<path d="M379.4,454.4 L400.2,448.8 L413.8,465.6 L404.5,477.0" fill="none" stroke="#2a2a2a" stroke-width="1.8" stroke-linejoin="round" stroke-linecap="round" />
<path d="M393.0,481.0 L379.4,476.0" fill="none" stroke="#2a2a2a" stroke-width="1.8" stroke-linejoin="round" stroke-linecap="round" />
<path d="M362.1,448.7 L374.4,455.3" fill="none" stroke="#2a2a2a" stroke-width="1.6" stroke-linejoin="round" stroke-linecap="round" />
<path d="M344.2,458.3 L344.2,472.1" fill="none" stroke="#2a2a2a" stroke-width="1.6" stroke-linejoin="round" stroke-linecap="round" />
<path d="M374.3,475.3 L362.0,482.4" fill="none" stroke="#2a2a2a" stroke-width="1.6" stroke-linejoin="round" stroke-linecap="round" />
<path d="M400.2,453.8 L408.9,464.6" fill="none" stroke="#2a2a2a" stroke-width="1.6" stroke-linejoin="round" stroke-linecap="round" />
<path d="M341.0,454.4 L331.6,448.8" fill="none" stroke="#2a2a2a" stroke-width="1.8" stroke-linejoin="round" stroke-linecap="round" />
<path d="M341.0,476.0 L331.6,482.0" fill="none" stroke="#2a2a2a" stroke-width="1.8" stroke-linejoin="round" stroke-linecap="round" />
<text x="312.5" y="451.2" font-size="12.5" fill="#111" stroke="#111" stroke-width="0.25" text-anchor="start" >HO</text>
<text x="312.5" y="488.0" font-size="12.5" fill="#111" stroke="#111" stroke-width="0.25" text-anchor="start" >HO</text>
<text x="394.5" y="487.2" font-size="12.5" fill="#111" stroke="#111" stroke-width="0.25" text-anchor="start" >N</text>
<text x="395.0" y="497.0" font-size="12.5" fill="#111" stroke="#111" stroke-width="0.25" text-anchor="start" >H</text>
<text x="239.0" y="450.0" font-size="16" fill="#1b68ba" stroke="#1b68ba" stroke-width="0.3" text-anchor="start" >melanin</text>
<g transform="translate(520.7,409.2) skewX(-9) translate(-520.7,-409.2)">
<path d="M527.0,420.0 L530.8,431.9 L520.7,439.3 L510.6,431.9 L514.5,420.0Z" fill="#ede6c5" stroke="#333" stroke-width="1.8" stroke-linejoin="round" />
<path d="M514.5,420.0 L508.2,409.2 L514.5,398.4 L527.0,398.4 L533.2,409.2 L527.0,420.0Z" fill="#ede6c5" stroke="#333" stroke-width="1.8" stroke-linejoin="round" />
</g>
<g transform="translate(551.2,423.3) skewX(-9) translate(-551.2,-423.3)">
<path d="M562.0,417.1 L573.9,413.2 L581.3,423.3 L573.9,433.4 L562.0,429.6Z" fill="#ede6c5" stroke="#333" stroke-width="1.8" stroke-linejoin="round" />
<path d="M562.0,429.6 L551.2,435.8 L540.4,429.6 L540.4,417.1 L551.2,410.8 L562.0,417.1Z" fill="#ede6c5" stroke="#333" stroke-width="1.8" stroke-linejoin="round" />
</g>
<g transform="translate(510.4,459.8) skewX(-9) translate(-510.4,-459.8)">
<path d="M521.2,453.6 L533.1,449.7 L540.5,459.8 L533.1,469.9 L521.2,466.1Z" fill="#ede6c5" stroke="#333" stroke-width="1.8" stroke-linejoin="round" />
<path d="M521.2,466.1 L510.4,472.3 L499.6,466.1 L499.6,453.6 L510.4,447.3 L521.2,453.6Z" fill="#ede6c5" stroke="#333" stroke-width="1.8" stroke-linejoin="round" />
</g>
<g transform="translate(587.2,392.6) skewX(-9) translate(-587.2,-392.6)">
<path d="M598.0,386.4 L609.9,382.5 L617.3,392.6 L609.9,402.7 L598.0,398.9Z" fill="#ede6c5" stroke="#333" stroke-width="1.8" stroke-linejoin="round" />
<path d="M598.0,398.9 L587.2,405.1 L576.4,398.9 L576.4,386.4 L587.2,380.1 L598.0,386.4Z" fill="#ede6c5" stroke="#333" stroke-width="1.8" stroke-linejoin="round" />
</g>
<g transform="translate(602.8,423.8) skewX(-9) translate(-602.8,-423.8)">
<path d="M609.0,434.6 L612.9,446.5 L602.8,453.9 L592.7,446.5 L596.5,434.6Z" fill="#ede6c5" stroke="#333" stroke-width="1.8" stroke-linejoin="round" />
<path d="M596.5,434.6 L590.3,423.8 L596.5,413.0 L609.0,413.0 L615.3,423.8 L609.0,434.6Z" fill="#ede6c5" stroke="#333" stroke-width="1.8" stroke-linejoin="round" />
</g>
<g transform="translate(628.0,444.2) skewX(-9) translate(-628.0,-444.2)">
<path d="M638.8,437.9 L650.7,434.1 L658.1,444.2 L650.7,454.3 L638.8,450.4Z" fill="#ede6c5" stroke="#333" stroke-width="1.8" stroke-linejoin="round" />
<path d="M638.8,450.4 L628.0,456.7 L617.2,450.4 L617.2,437.9 L628.0,431.7 L638.8,437.9Z" fill="#ede6c5" stroke="#333" stroke-width="1.8" stroke-linejoin="round" />
</g>
<g transform="translate(638.8,389.0) skewX(-9) translate(-638.8,-389.0)">
<path d="M645.0,399.8 L648.9,411.7 L638.8,419.1 L628.7,411.7 L632.5,399.8Z" fill="#ede6c5" stroke="#333" stroke-width="1.8" stroke-linejoin="round" />
<path d="M632.5,399.8 L626.3,389.0 L632.5,378.2 L645.0,378.2 L651.3,389.0 L645.0,399.8Z" fill="#ede6c5" stroke="#333" stroke-width="1.8" stroke-linejoin="round" />
</g>
<g transform="translate(668.8,408.9) skewX(-9) translate(-668.8,-408.9)">
<path d="M679.6,402.6 L691.5,398.8 L698.9,408.9 L691.5,419.0 L679.6,415.1Z" fill="#ede6c5" stroke="#333" stroke-width="1.8" stroke-linejoin="round" />
<path d="M679.6,415.1 L668.8,421.4 L658.0,415.1 L658.0,402.6 L668.8,396.4 L679.6,402.6Z" fill="#ede6c5" stroke="#333" stroke-width="1.8" stroke-linejoin="round" />
</g>
<g transform="translate(683.2,437.0) skewX(-9) translate(-683.2,-437.0)">
<path d="M689.5,447.8 L693.3,459.7 L683.2,467.1 L673.1,459.7 L677.0,447.8Z" fill="#ede6c5" stroke="#333" stroke-width="1.8" stroke-linejoin="round" />
<path d="M677.0,447.8 L670.7,437.0 L677.0,426.2 L689.5,426.2 L695.7,437.0 L689.5,447.8Z" fill="#ede6c5" stroke="#333" stroke-width="1.8" stroke-linejoin="round" />
</g>
<g transform="translate(721.6,407.0) skewX(-9) translate(-721.6,-407.0)">
<path d="M727.9,417.8 L731.7,429.7 L721.6,437.1 L711.5,429.7 L715.4,417.8Z" fill="#ede6c5" stroke="#333" stroke-width="1.8" stroke-linejoin="round" />
<path d="M715.4,417.8 L709.1,407.0 L715.4,396.2 L727.9,396.2 L734.1,407.0 L727.9,417.8Z" fill="#ede6c5" stroke="#333" stroke-width="1.8" stroke-linejoin="round" />
</g>
<g transform="translate(710.8,457.4) skewX(-9) translate(-710.8,-457.4)">
<path d="M721.6,451.1 L733.5,447.3 L740.9,457.4 L733.5,467.5 L721.6,463.6Z" fill="#ede6c5" stroke="#333" stroke-width="1.8" stroke-linejoin="round" />
<path d="M721.6,463.6 L710.8,469.9 L700.0,463.6 L700.0,451.1 L710.8,444.9 L721.6,451.1Z" fill="#ede6c5" stroke="#333" stroke-width="1.8" stroke-linejoin="round" />
</g>
<g transform="translate(749.2,425.7) skewX(-9) translate(-749.2,-425.7)">
<path d="M760.0,419.4 L771.9,415.6 L779.3,425.7 L771.9,435.8 L760.0,431.9Z" fill="#ede6c5" stroke="#333" stroke-width="1.8" stroke-linejoin="round" />
<path d="M760.0,431.9 L749.2,438.2 L738.4,431.9 L738.4,419.4 L749.2,413.2 L760.0,419.4Z" fill="#ede6c5" stroke="#333" stroke-width="1.8" stroke-linejoin="round" />
</g>
<g transform="translate(762.9,459.8) skewX(-9) translate(-762.9,-459.8)">
<path d="M756.6,470.6 L750.4,459.8 L756.6,449.0 L769.1,449.0 L775.4,459.8 L769.1,470.6Z" fill="#ede6c5" stroke="#333" stroke-width="1.8" stroke-linejoin="round" />
</g>
<g transform="translate(802.7,422.6) skewX(-9) translate(-802.7,-422.6)">
<path d="M809.0,433.4 L812.8,445.3 L802.7,452.7 L792.6,445.3 L796.5,433.4Z" fill="#ede6c5" stroke="#333" stroke-width="1.8" stroke-linejoin="round" />
<path d="M796.5,433.4 L790.2,422.6 L796.5,411.8 L809.0,411.8 L815.2,422.6 L809.0,433.4Z" fill="#ede6c5" stroke="#333" stroke-width="1.8" stroke-linejoin="round" />
</g>
<g transform="translate(829.6,443.0) skewX(-9) translate(-829.6,-443.0)">
<path d="M840.4,436.8 L852.3,432.9 L859.7,443.0 L852.3,453.1 L840.4,449.2Z" fill="#ede6c5" stroke="#333" stroke-width="1.8" stroke-linejoin="round" />
<path d="M840.4,449.2 L829.6,455.5 L818.8,449.2 L818.8,436.8 L829.6,430.5 L840.4,436.8Z" fill="#ede6c5" stroke="#333" stroke-width="1.8" stroke-linejoin="round" />
</g>
<g transform="translate(870.4,405.8) skewX(-9) translate(-870.4,-405.8)">
<path d="M881.2,399.6 L893.1,395.7 L900.5,405.8 L893.1,415.9 L881.2,412.1Z" fill="#ede6c5" stroke="#333" stroke-width="1.8" stroke-linejoin="round" />
<path d="M881.2,412.1 L870.4,418.3 L859.6,412.1 L859.6,399.6 L870.4,393.3 L881.2,399.6Z" fill="#ede6c5" stroke="#333" stroke-width="1.8" stroke-linejoin="round" />
</g>
<g transform="translate(882.4,442.5) skewX(-9) translate(-882.4,-442.5)">
<path d="M888.6,453.3 L892.5,465.2 L882.4,472.6 L872.3,465.2 L876.1,453.3Z" fill="#ede6c5" stroke="#333" stroke-width="1.8" stroke-linejoin="round" />
<path d="M876.1,453.3 L869.9,442.5 L876.1,431.7 L888.6,431.7 L894.9,442.5 L888.6,453.3Z" fill="#ede6c5" stroke="#333" stroke-width="1.8" stroke-linejoin="round" />
</g>
<defs><radialGradient id="cap" cx="0.4" cy="0.4" r="0.7"><stop offset="0" stop-color="#b0622a"/><stop offset="1" stop-color="#7a3a12"/></radialGradient></defs>
<g transform="translate(389.4,285) rotate(-34)">
<rect x="-11" y="-11.6" width="120" height="23.2" rx="11.6" fill="#f0f0f0" opacity="0.5"/>
<path d="M0,-10.5 L94,-10.5 L94,-9 L103,-9 L103,-10.5 L108,-10.5 L108,9.5 L94,10.5 L0,10.5 A10.5,10.5 0 0 1 0,-10.5 Z" fill="#181818"/>
<rect x="5" y="-8.4" width="91" height="16.8" rx="8.4" fill="url(#tube)"/>
<path d="M92,-7.2 L106.3,-7.2 L106.3,7.2 L92,7.2 Z" fill="#8b4a1e"/>
<path d="M96,-7.2 L96,7.2 M99.5,-7.2 L99.5,7.2 M103,-7.2 L103,7.2" stroke="#4a2410" stroke-width="0.8"/>
<rect x="86" y="-8.4" width="9" height="16.8" rx="4.5" fill="url(#tube)"/>
<ellipse cx="4" cy="0" rx="7.4" ry="8.6" fill="#6d3814" stroke="#222" stroke-width="1.2"/>
<ellipse cx="0" cy="0" rx="7.6" ry="8" fill="url(#cap)" stroke="#2a1a10" stroke-width="1.2"/>
</g>
<path d="M410.8,247.3 C411,238 420,233.5 428,234 C444,235 453,246 451.5,259 C450.5,268 444,273.5 436,274.5" fill="none" stroke="#e9d9c6" stroke-width="3.6" stroke-linecap="round"/>
<path d="M410.8,247.3 C411,238 420,233.5 428,234 C444,235 453,246 451.5,259 C450.5,268 444,273.5 436,274.5" fill="none" stroke="#2b86d6" stroke-width="2" stroke-linecap="round"/>
<path d="M432.5,275 L440.5,269.5 L439,274.5 L441,279.5 Z" fill="#2b86d6"/>
</svg></body></html>
